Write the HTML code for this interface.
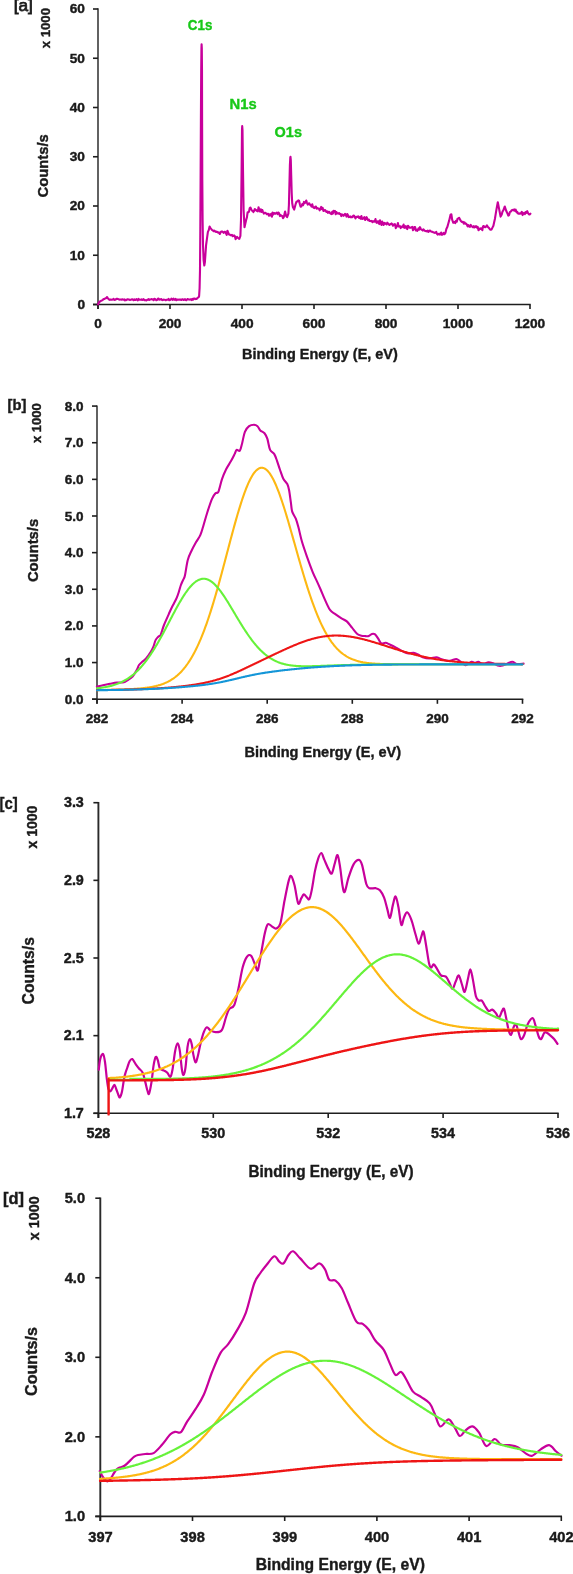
<!DOCTYPE html>
<html><head><meta charset="utf-8"><style>
html,body{margin:0;padding:0;background:#fff;}
body{width:573px;height:1574px;overflow:hidden;}
svg{display:block;will-change:transform;}
text{font-family:"Liberation Sans", sans-serif;}
</style></head><body>
<svg width="573" height="1574" viewBox="0 0 573 1574">
<rect width="573" height="1574" fill="#fff"/>
<line x1="98" y1="8.3" x2="98" y2="309.1" stroke="#5a5a5a" stroke-width="1.9"/>
<line x1="93" y1="304.5" x2="98" y2="304.5" stroke="#1e1e1e" stroke-width="1.6"/>
<line x1="93" y1="255.25" x2="98" y2="255.25" stroke="#1e1e1e" stroke-width="1.6"/>
<line x1="93" y1="206" x2="98" y2="206" stroke="#1e1e1e" stroke-width="1.6"/>
<line x1="93" y1="156.75" x2="98" y2="156.75" stroke="#1e1e1e" stroke-width="1.6"/>
<line x1="93" y1="107.5" x2="98" y2="107.5" stroke="#1e1e1e" stroke-width="1.6"/>
<line x1="93" y1="58.25" x2="98" y2="58.25" stroke="#1e1e1e" stroke-width="1.6"/>
<line x1="93" y1="9" x2="98" y2="9" stroke="#1e1e1e" stroke-width="1.6"/>
<line x1="93" y1="304.5" x2="530.7" y2="304.5" stroke="#1e1e1e" stroke-width="1.6"/>
<line x1="98" y1="304.5" x2="98" y2="309.1" stroke="#1e1e1e" stroke-width="1.6"/>
<line x1="170" y1="304.5" x2="170" y2="309.1" stroke="#1e1e1e" stroke-width="1.6"/>
<line x1="242" y1="304.5" x2="242" y2="309.1" stroke="#1e1e1e" stroke-width="1.6"/>
<line x1="314" y1="304.5" x2="314" y2="309.1" stroke="#1e1e1e" stroke-width="1.6"/>
<line x1="386" y1="304.5" x2="386" y2="309.1" stroke="#1e1e1e" stroke-width="1.6"/>
<line x1="458" y1="304.5" x2="458" y2="309.1" stroke="#1e1e1e" stroke-width="1.6"/>
<line x1="530" y1="304.5" x2="530" y2="309.1" stroke="#1e1e1e" stroke-width="1.6"/>
<path d="M98.1,304.3 L98.8,302.78 L99.5,301.5 L100.3,301.4 L101.1,300.73 L101.9,300.5 L102.77,299.86 L103.63,299.08 L104.5,299 L105.37,298.24 L106.23,298.17 L107.1,297 L107.95,298.34 L108.8,299.3 L109.75,299.87 L110.7,299.5 L111.42,299.61 L112.13,299.68 L112.85,299.58 L113.56,298.75 L114.28,299.88 L114.99,299.73 L115.71,299.72 L116.42,298.74 L117.14,298.72 L117.85,299.1 L118.57,299.29 L119.28,299.64 L120,299.5 L120.71,299.49 L121.43,299.76 L122.14,299.24 L122.86,299.68 L123.57,299.73 L124.29,299.27 L125,300.35 L125.71,299.84 L126.43,300.14 L127.14,299.33 L127.86,299.29 L128.57,299.47 L129.29,299.59 L130,299.93 L130.71,299.77 L131.43,299.47 L132.14,299.25 L132.86,299.46 L133.57,300.25 L134.29,299.35 L135,299.84 L135.71,299.93 L136.43,299.08 L137.14,299.78 L137.86,300.36 L138.57,298.87 L139.29,299.64 L140,299.8 L140.71,299.75 L141.43,299.42 L142.14,300 L142.86,299.74 L143.57,299.11 L144.29,300.13 L145,300.05 L145.71,300.17 L146.43,300.38 L147.14,299.89 L147.86,299.78 L148.57,299.13 L149.29,299.98 L150,299.42 L150.71,299.49 L151.43,299.12 L152.14,299.24 L152.86,299.43 L153.57,300.24 L154.29,298.74 L155,298.99 L155.71,299.75 L156.43,300.29 L157.14,299.89 L157.86,298.77 L158.57,298.48 L159.29,299.77 L160,299.6 L160.71,299.27 L161.43,299.09 L162.14,300.03 L162.86,300.08 L163.57,299.65 L164.29,299.69 L165,299.77 L165.71,300.29 L166.43,299.85 L167.14,299.8 L167.86,299.81 L168.57,298.85 L169.29,300.13 L170,299.98 L170.71,299.78 L171.43,298.65 L172.14,299.25 L172.86,299.91 L173.57,298.72 L174.29,299.45 L175,299.98 L175.71,298.93 L176.43,300.24 L177.14,299.76 L177.86,299.44 L178.57,299.65 L179.29,299.8 L180,299.5 L180.71,299.56 L181.43,300.03 L182.14,299.22 L182.86,299.34 L183.57,300 L184.29,299.55 L185,299.15 L185.71,299.98 L186.43,300.22 L187.14,299.37 L187.86,298.96 L188.57,299.53 L189.29,299.53 L190,299.6 L190.75,299.37 L191.5,300.03 L192.25,298.84 L193,299.77 L193.75,298.53 L194.5,298.65 L195.25,299.18 L196,298.8 L196.75,298.91 L197.5,298 L198.6,297.2 L199.1,296.1 L199.6,288 L200,270 L200.3,230 L200.6,180 L200.9,120 L201.2,70 L201.45,48 L201.6,44.3 L201.8,48 L202,70 L202.1,120 L202.3,180 L202.6,220 L203,245 L203.6,260 L204.3,265.5 L204.9,262 L206.1,245 L207,238.45 L207.9,231.9 L208.75,230.15 L209.6,226.6 L210.47,228.13 L211.33,229.08 L212.2,230.1 L212.96,230.52 L213.71,231.22 L214.47,230.69 L215.23,231.42 L215.99,231.99 L216.74,231.64 L217.5,231.9 L218.27,232.7 L219.03,232.49 L219.8,234.01 L220.57,232.24 L221.33,231.45 L222.1,231.51 L222.87,231.89 L223.63,232.87 L224.4,231.9 L225.16,231.92 L225.91,233.05 L226.67,234.94 L227.43,230.69 L228.19,232.58 L228.94,234.38 L229.7,234.5 L230.44,235.16 L231.19,235.24 L231.93,234.78 L232.67,236.16 L233.41,236.01 L234.16,235.41 L234.9,236.2 L235.63,239.2 L236.37,237.47 L237.1,236.97 L237.83,237.9 L238.57,238.21 L239.3,238.9 L240.4,236 L241,220 L241.6,170 L242,130 L242.2,126.1 L242.5,130 L243,170 L243.6,210 L244.5,227.2 L245.35,223.45 L246.2,219.7 L246.9,217.35 L247.6,212.28 L248.3,212.35 L249,211.64 L249.7,208.3 L250.43,207.51 L251.17,209.1 L251.9,210.6 L252.63,210.93 L253.37,212.03 L254.1,210.9 L254.84,208.98 L255.59,210.27 L256.33,210.16 L257.07,211.04 L257.81,211.4 L258.56,207.31 L259.3,210 L260.06,211.53 L260.81,209.25 L261.57,211.87 L262.33,209.98 L263.09,212.11 L263.84,213.57 L264.6,212.7 L265.34,212.79 L266.09,213.39 L266.83,214.27 L267.57,213.82 L268.31,213.82 L269.06,215.77 L269.8,214.4 L270.5,215.33 L271.2,213.75 L271.9,216.77 L272.6,212.52 L273.3,214.51 L274,213.1 L274.7,213.35 L275.4,213.78 L276.1,213.1 L276.8,212.7 L277.57,214.06 L278.35,212.47 L279.12,213.18 L279.9,216.1 L280.68,215.13 L281.45,215.75 L282.23,215.97 L283,218.2 L283.7,217.33 L284.4,214.58 L285.1,211.6 L286.1,215.95 L287.1,217.2 L288.4,213.6 L288.9,205 L289.4,185 L289.9,165 L290.3,157.5 L290.5,156.8 L290.8,160 L291.2,175 L291.7,193 L292.2,203 L292.9,207 L294.2,209.6 L295,206.55 L295.8,203.5 L296.63,201.48 L297.47,201.43 L298.3,200.4 L299.07,200.73 L299.85,204.25 L300.62,206.64 L301.4,206.5 L302.27,204.03 L303.13,205.07 L304,201.9 L304.75,203.16 L305.5,202.16 L306.25,200.5 L307,202.8 L307.75,204.65 L308.49,203.45 L309.24,203.29 L309.99,204.71 L310.73,205.1 L311.48,206.61 L312.23,204.34 L312.97,206.98 L313.72,207.72 L314.47,208.06 L315.21,206.72 L315.96,206.5 L316.71,208.72 L317.45,208.15 L318.2,208.4 L318.95,208.77 L319.69,210.38 L320.44,208.84 L321.19,206.95 L321.93,209.19 L322.68,207.89 L323.43,210.94 L324.17,210.65 L324.92,209.92 L325.67,210.79 L326.41,211.91 L327.16,211.36 L327.91,212.91 L328.65,211.7 L329.4,212 L330.1,213.22 L330.8,213.82 L331.5,214.07 L332.2,211.79 L332.9,213.55 L333.6,210.78 L334.3,211.74 L335,210.94 L335.7,214.25 L336.4,211.96 L337.1,213.36 L337.8,213.3 L338.5,213.59 L339.2,213.13 L339.9,214.12 L340.6,214 L341.34,216.07 L342.08,214.42 L342.82,215.12 L343.56,215.8 L344.3,214.73 L345.04,213.8 L345.78,214.72 L346.52,216.62 L347.26,213.95 L348,215.24 L348.74,217.11 L349.48,217.07 L350.22,216.43 L350.96,217.46 L351.7,216.8 L352.45,217.11 L353.19,215.83 L353.94,215.56 L354.69,216.66 L355.43,218.44 L356.18,217.01 L356.93,216.79 L357.67,217.06 L358.42,216.39 L359.17,218.01 L359.91,217.03 L360.66,218.78 L361.41,216.06 L362.15,219.01 L362.9,218.8 L363.64,218.27 L364.38,217.05 L365.12,220 L365.86,219.1 L366.6,217.19 L367.34,218.76 L368.08,220.13 L368.82,219.49 L369.56,220.94 L370.3,221.05 L371.04,221.11 L371.78,220.9 L372.52,222.11 L373.26,221.55 L374,221 L374.75,221.62 L375.49,219.11 L376.24,222.38 L376.99,222.96 L377.73,221.42 L378.48,221.39 L379.23,224.06 L379.97,220.33 L380.72,222.81 L381.47,225.01 L382.21,221.64 L382.96,223.48 L383.71,224.89 L384.45,222.93 L385.2,223.2 L385.9,223.93 L386.61,224.43 L387.31,222.68 L388.02,223.68 L388.72,224.22 L389.43,224.92 L390.13,224.16 L390.84,224.14 L391.54,223.42 L392.25,224.25 L392.95,225.71 L393.66,225.02 L394.36,224.16 L395.07,224.32 L395.77,228.14 L396.48,226.68 L397.18,226.3 L397.89,223.05 L398.59,226.57 L399.3,226.56 L400,226.2 L400.73,228.06 L401.45,226.84 L402.18,226.41 L402.91,227.12 L403.63,224.63 L404.36,227.84 L405.09,227.19 L405.81,226.21 L406.54,228.43 L407.27,229.03 L407.99,225.75 L408.72,226.62 L409.45,227.72 L410.17,227.7 L410.9,227.6 L411.6,227.32 L412.3,226.86 L413,230.25 L413.7,229.25 L414.4,227.05 L415.1,227.03 L415.8,230.37 L416.5,229.76 L417.2,230.77 L417.9,229.85 L418.6,228.22 L419.3,229.55 L420,227.15 L420.7,228.77 L421.4,229.7 L422.1,229.78 L422.8,230.53 L423.5,229.36 L424.2,230.13 L424.9,230.88 L425.6,230.94 L426.3,231.35 L427,231.04 L427.7,230.62 L428.4,231.93 L429.1,231.29 L429.8,230.51 L430.5,230.86 L431.2,231.66 L431.9,231.8 L432.62,231.9 L433.34,232.39 L434.06,232.44 L434.79,232.84 L435.51,232.73 L436.23,231.76 L436.95,233.74 L437.67,234.62 L438.39,234.18 L439.11,233.74 L439.84,234.63 L440.56,233.36 L441.28,232.59 L442,234.8 L442.85,234.41 L443.7,232.92 L444.55,234.23 L445.4,233 L446.35,228.91 L447.3,227.1 L448.25,223.75 L449.2,220.4 L449.9,217.5 L450.6,214.6 L451.35,214.24 L452.1,219.4 L453.2,222.8 L454.2,221.91 L455.2,223.2 L456,220.8 L456.77,221.66 L457.53,218.8 L458.3,218.4 L459.1,217.76 L459.9,219.2 L460.7,220.8 L461.46,221.65 L462.22,221.92 L462.98,221.89 L463.74,223.56 L464.5,222.3 L465.28,223.62 L466.06,223.44 L466.84,224.67 L467.62,226.36 L468.4,225.2 L469.16,226.5 L469.92,226.83 L470.68,224.9 L471.44,226.16 L472.2,226.6 L472.98,227.27 L473.76,226.09 L474.54,227.42 L475.32,226.83 L476.1,226.1 L476.9,227.54 L477.7,226.84 L478.5,230.22 L479.3,229.34 L480.1,228.29 L480.9,229 L481.6,228.35 L482.3,230.22 L483,226.39 L483.7,226 L484.5,227.06 L485.3,227.31 L486.1,226.43 L486.9,225.33 L487.7,226.7 L488.46,227.46 L489.22,228.2 L489.98,229.57 L490.74,229.76 L491.5,229.5 L492.45,227.63 L493.4,225.7 L494.15,222.35 L494.9,219 L495.6,214.7 L496.3,210.4 L497.05,206.3 L497.8,202.2 L499.2,209.4 L499.9,213 L500.6,216.6 L501.6,214.85 L502.6,211.3 L503.33,210.27 L504.07,208.32 L504.8,206.5 L505.6,208.96 L506.4,211.3 L507.35,213.19 L508.3,215.6 L509.1,215.05 L509.9,211.96 L510.7,211.8 L511.65,210.19 L512.6,209.9 L513.38,210.39 L514.16,209.32 L514.94,210.88 L515.72,209.71 L516.5,212.3 L517.26,211.86 L518.02,213.46 L518.78,213.73 L519.54,213.36 L520.3,213.7 L521.06,213.28 L521.82,211.85 L522.58,215.08 L523.34,213.52 L524.1,212.8 L524.88,214.03 L525.66,212.03 L526.44,212.85 L527.22,211.21 L528,213.2 L528.8,214.19 L529.6,214.52 L530.4,213.7" fill="none" stroke="#C8009B" stroke-width="2.1" stroke-linejoin="round" stroke-linecap="round"/>
<text x="77.43" y="308.95" font-size="12.9" font-weight="bold" fill="#1a1a1a" stroke="#1a1a1a" stroke-width="0.4" textLength="7.61" lengthAdjust="spacingAndGlyphs">0</text>
<text x="69.77" y="259.7" font-size="12.9" font-weight="bold" fill="#1a1a1a" stroke="#1a1a1a" stroke-width="0.4" textLength="15.21" lengthAdjust="spacingAndGlyphs">10</text>
<text x="69.77" y="210.45" font-size="12.9" font-weight="bold" fill="#1a1a1a" stroke="#1a1a1a" stroke-width="0.4" textLength="15.21" lengthAdjust="spacingAndGlyphs">20</text>
<text x="69.77" y="161.2" font-size="12.9" font-weight="bold" fill="#1a1a1a" stroke="#1a1a1a" stroke-width="0.4" textLength="15.21" lengthAdjust="spacingAndGlyphs">30</text>
<text x="69.77" y="111.95" font-size="12.9" font-weight="bold" fill="#1a1a1a" stroke="#1a1a1a" stroke-width="0.4" textLength="15.21" lengthAdjust="spacingAndGlyphs">40</text>
<text x="69.77" y="62.7" font-size="12.9" font-weight="bold" fill="#1a1a1a" stroke="#1a1a1a" stroke-width="0.4" textLength="15.21" lengthAdjust="spacingAndGlyphs">50</text>
<text x="69.77" y="13.45" font-size="12.9" font-weight="bold" fill="#1a1a1a" stroke="#1a1a1a" stroke-width="0.4" textLength="15.21" lengthAdjust="spacingAndGlyphs">60</text>
<text x="94.24" y="327.63" font-size="12.9" font-weight="bold" fill="#1a1a1a" stroke="#1a1a1a" stroke-width="0.4" textLength="7.61" lengthAdjust="spacingAndGlyphs">0</text>
<text x="158.65" y="327.63" font-size="12.9" font-weight="bold" fill="#1a1a1a" stroke="#1a1a1a" stroke-width="0.4" textLength="22.82" lengthAdjust="spacingAndGlyphs">200</text>
<text x="230.72" y="327.63" font-size="12.9" font-weight="bold" fill="#1a1a1a" stroke="#1a1a1a" stroke-width="0.4" textLength="22.82" lengthAdjust="spacingAndGlyphs">400</text>
<text x="302.58" y="327.63" font-size="12.9" font-weight="bold" fill="#1a1a1a" stroke="#1a1a1a" stroke-width="0.4" textLength="22.82" lengthAdjust="spacingAndGlyphs">600</text>
<text x="374.65" y="327.63" font-size="12.9" font-weight="bold" fill="#1a1a1a" stroke="#1a1a1a" stroke-width="0.4" textLength="22.82" lengthAdjust="spacingAndGlyphs">800</text>
<text x="442.69" y="327.63" font-size="12.9" font-weight="bold" fill="#1a1a1a" stroke="#1a1a1a" stroke-width="0.4" textLength="30.42" lengthAdjust="spacingAndGlyphs">1000</text>
<text x="514.69" y="327.63" font-size="12.9" font-weight="bold" fill="#1a1a1a" stroke="#1a1a1a" stroke-width="0.4" textLength="30.42" lengthAdjust="spacingAndGlyphs">1200</text>
<text x="187.87" y="30.45" font-size="15.07" font-weight="bold" fill="#18C818" stroke="#18C818" stroke-width="0.4" textLength="24.43" lengthAdjust="spacingAndGlyphs">C1s</text>
<text x="229.57" y="109.25" font-size="15.21" font-weight="bold" fill="#18C818" stroke="#18C818" stroke-width="0.4" textLength="27.09" lengthAdjust="spacingAndGlyphs">N1s</text>
<text x="274.62" y="136.85" font-size="15.21" font-weight="bold" fill="#18C818" stroke="#18C818" stroke-width="0.4" textLength="27.36" lengthAdjust="spacingAndGlyphs">O1s</text>
<text x="13.69" y="11.35" font-size="15.96" font-weight="normal" fill="#1a1a1a" stroke="#1a1a1a" stroke-width="0.75" textLength="19.14" lengthAdjust="spacingAndGlyphs">[a]</text>
<text x="49.66" y="48.23" font-size="13.52" font-weight="bold" fill="#1a1a1a" stroke="#1a1a1a" stroke-width="0.4" textLength="40.24" lengthAdjust="spacingAndGlyphs" transform="rotate(-90 49.66 48.23)">x 1000</text>
<text x="48.25" y="197.49" font-size="14.58" font-weight="bold" fill="#1a1a1a" stroke="#1a1a1a" stroke-width="0.4" textLength="63.25" lengthAdjust="spacingAndGlyphs" transform="rotate(-90 48.25 197.49)">Counts/s</text>
<text x="241.99" y="358.6" font-size="15.22" font-weight="bold" fill="#1a1a1a" stroke="#1a1a1a" stroke-width="0.4" textLength="155.82" lengthAdjust="spacingAndGlyphs">Binding Energy (E, eV)</text>
<line x1="97" y1="405.38" x2="97" y2="703.8" stroke="#5a5a5a" stroke-width="1.9"/>
<line x1="92" y1="699.2" x2="97" y2="699.2" stroke="#1e1e1e" stroke-width="1.6"/>
<line x1="92" y1="662.56" x2="97" y2="662.56" stroke="#1e1e1e" stroke-width="1.6"/>
<line x1="92" y1="625.92" x2="97" y2="625.92" stroke="#1e1e1e" stroke-width="1.6"/>
<line x1="92" y1="589.28" x2="97" y2="589.28" stroke="#1e1e1e" stroke-width="1.6"/>
<line x1="92" y1="552.64" x2="97" y2="552.64" stroke="#1e1e1e" stroke-width="1.6"/>
<line x1="92" y1="516" x2="97" y2="516" stroke="#1e1e1e" stroke-width="1.6"/>
<line x1="92" y1="479.36" x2="97" y2="479.36" stroke="#1e1e1e" stroke-width="1.6"/>
<line x1="92" y1="442.72" x2="97" y2="442.72" stroke="#1e1e1e" stroke-width="1.6"/>
<line x1="92" y1="406.08" x2="97" y2="406.08" stroke="#1e1e1e" stroke-width="1.6"/>
<line x1="92" y1="699.2" x2="523.3" y2="699.2" stroke="#1e1e1e" stroke-width="1.6"/>
<line x1="97" y1="699.2" x2="97" y2="703.8" stroke="#1e1e1e" stroke-width="1.6"/>
<line x1="182.1" y1="699.2" x2="182.1" y2="703.8" stroke="#1e1e1e" stroke-width="1.6"/>
<line x1="267.2" y1="699.2" x2="267.2" y2="703.8" stroke="#1e1e1e" stroke-width="1.6"/>
<line x1="352.3" y1="699.2" x2="352.3" y2="703.8" stroke="#1e1e1e" stroke-width="1.6"/>
<line x1="437.4" y1="699.2" x2="437.4" y2="703.8" stroke="#1e1e1e" stroke-width="1.6"/>
<line x1="522.5" y1="699.2" x2="522.5" y2="703.8" stroke="#1e1e1e" stroke-width="1.6"/>
<path d="M96.9,686.6 C97.92,686.37 100.82,685.67 103,685.2 C105.18,684.73 107.68,684.23 110,683.8 C112.32,683.37 114.58,682.87 116.9,682.6 C119.22,682.33 122.15,682.58 123.9,682.2 C125.65,681.82 125.95,681.25 127.4,680.3 C128.85,679.35 131,678.3 132.6,676.5 C134.2,674.7 135.93,671.42 137,669.5 C138.07,667.58 138.08,666.33 139,665 C139.92,663.67 141.35,662.55 142.5,661.5 C143.65,660.45 144.52,660.32 145.9,658.7 C147.28,657.08 149.57,653.77 150.8,651.8 C152.03,649.83 152.48,648.88 153.3,646.9 C154.12,644.92 154.83,641.63 155.7,639.9 C156.57,638.17 157.68,637.32 158.5,636.5 C159.32,635.68 159.68,636.92 160.6,635 C161.52,633.08 162.65,628.45 164,625 C165.35,621.55 167.5,617.02 168.7,614.3 C169.9,611.58 170.32,610.55 171.2,608.7 C172.08,606.85 173.07,605.05 174,603.2 C174.93,601.35 176,599.47 176.8,597.6 C177.6,595.73 178.12,594.1 178.8,592 C179.48,589.9 180.15,587.07 180.9,585 C181.65,582.93 182.62,581.23 183.3,579.6 C183.98,577.97 184.27,578.43 185,575.2 C185.73,571.97 186.65,564.18 187.7,560.2 C188.75,556.22 189.9,554.32 191.3,551.3 C192.7,548.28 194.6,544.8 196.1,542.1 C197.6,539.4 199.13,537.67 200.3,535.1 C201.47,532.53 201.95,530.43 203.1,526.7 C204.25,522.97 205.72,517.35 207.2,512.7 C208.68,508.05 210.6,502.05 212,498.8 C213.4,495.55 214.53,494.37 215.6,493.2 C216.67,492.03 217.33,494.13 218.4,491.8 C219.47,489.47 220.73,482.92 222,479.2 C223.27,475.48 224.5,472.52 226,469.5 C227.5,466.48 229.57,463.67 231,461.1 C232.43,458.53 233.67,455.97 234.6,454.1 C235.53,452.23 235.72,450.47 236.6,449.9 C237.48,449.33 238.97,451.87 239.9,450.7 C240.83,449.53 241.37,446.05 242.2,442.9 C243.03,439.75 243.75,434.58 244.9,431.8 C246.05,429.02 247.6,427.37 249.1,426.2 C250.6,425.03 252.5,424.8 253.9,424.8 C255.3,424.8 256.43,425.27 257.5,426.2 C258.57,427.13 259.13,429.23 260.3,430.4 C261.47,431.57 263.33,431.82 264.5,433.2 C265.67,434.58 266.37,435.92 267.3,438.7 C268.23,441.48 268.93,447.33 270.1,449.9 C271.27,452.47 273.13,452.23 274.3,454.1 C275.47,455.97 276.17,458.53 277.1,461.1 C278.03,463.67 278.87,466.57 279.9,469.5 C280.93,472.43 282.07,476.28 283.3,478.7 C284.53,481.12 286.33,482.08 287.3,484 C288.27,485.92 288.5,487.08 289.1,490.2 C289.7,493.32 290.38,499.13 290.9,502.7 C291.42,506.27 291.38,508.93 292.2,511.6 C293.02,514.27 294.75,516.03 295.8,518.7 C296.85,521.37 297.47,523.75 298.5,527.6 C299.53,531.45 300.52,536.75 302,541.8 C303.48,546.85 305.62,552.85 307.4,557.9 C309.18,562.95 311.07,568.1 312.7,572.1 C314.33,576.1 315.88,579 317.2,581.9 C318.52,584.8 319.33,586.58 320.6,589.5 C321.87,592.42 323.23,596 324.8,599.4 C326.37,602.8 328.25,607.45 330,609.9 C331.75,612.35 333.38,612.7 335.3,614.1 C337.22,615.5 339.58,617.08 341.5,618.3 C343.42,619.52 345.05,619.83 346.8,621.4 C348.55,622.97 350.25,625.6 352,627.7 C353.75,629.8 355.73,632.67 357.3,634 C358.87,635.33 360.02,635.35 361.4,635.7 C362.78,636.05 364.37,636.03 365.6,636.1 C366.83,636.17 367.75,636.45 368.8,636.1 C369.85,635.75 370.85,634.28 371.9,634 C372.95,633.72 374.05,633.63 375.1,634.4 C376.15,635.17 377.17,637.1 378.2,638.6 C379.23,640.1 380.08,642.7 381.3,643.4 C382.52,644.1 384.1,642.62 385.5,642.8 C386.9,642.98 387.95,643.7 389.7,644.5 C391.45,645.3 394.28,646.68 396,647.6 C397.72,648.52 398.58,649.23 400,650 C401.42,650.77 402.98,651.63 404.5,652.2 C406.02,652.77 407.58,653.32 409.1,653.4 C410.62,653.48 412.1,652.52 413.6,652.7 C415.1,652.88 416.58,653.75 418.1,654.5 C419.62,655.25 420.8,656.55 422.7,657.2 C424.6,657.85 427.23,658.4 429.5,658.4 C431.77,658.4 434.42,657.1 436.3,657.2 C438.18,657.3 439.1,658.43 440.8,659 C442.5,659.57 444.8,660.33 446.5,660.6 C448.2,660.87 449.37,660.87 451,660.6 C452.63,660.33 454.78,658.88 456.3,659 C457.82,659.12 458.52,660.27 460.1,661.3 C461.68,662.33 463.9,665.12 465.8,665.2 C467.7,665.28 469.98,662.18 471.5,661.8 C473.02,661.42 473.77,662.9 474.9,662.9 C476.03,662.9 476.98,661.62 478.3,661.8 C479.62,661.98 481.1,663.93 482.8,664 C484.5,664.07 486.8,662.32 488.5,662.2 C490.2,662.08 491.48,662.77 493,663.3 C494.52,663.83 496.27,664.98 497.6,665.4 C498.93,665.82 499.5,666.03 501,665.8 C502.5,665.57 504.72,664.67 506.6,664 C508.48,663.33 510.6,661.8 512.3,661.8 C514,661.8 514.92,663.7 516.8,664 C518.68,664.3 522.47,663.67 523.6,663.6" fill="none" stroke="#C8009B" stroke-width="2.1" stroke-linejoin="round" stroke-linecap="round"/>
<path d="M97,690.11 L97.7,690.1 L98.4,690.09 L99.1,690.08 L99.8,690.06 L100.5,690.05 L101.2,690.04 L101.9,690.02 L102.6,690.01 L103.3,689.99 L104,689.98 L104.7,689.97 L105.4,689.95 L106.1,689.94 L106.8,689.92 L107.5,689.9 L108.2,689.89 L108.9,689.87 L109.6,689.86 L110.3,689.84 L111,689.82 L111.7,689.8 L112.4,689.79 L113.1,689.77 L113.8,689.75 L114.5,689.73 L115.2,689.71 L115.9,689.69 L116.6,689.67 L117.3,689.65 L118,689.63 L118.69,689.61 L119.39,689.58 L120.09,689.56 L120.79,689.54 L121.49,689.51 L122.19,689.49 L122.89,689.46 L123.59,689.43 L124.29,689.41 L124.99,689.38 L125.69,689.35 L126.39,689.32 L127.09,689.29 L127.79,689.26 L128.49,689.22 L129.19,689.19 L129.89,689.15 L130.59,689.12 L131.29,689.08 L131.99,689.04 L132.69,689 L133.39,688.96 L134.09,688.91 L134.79,688.87 L135.49,688.82 L136.19,688.77 L136.89,688.72 L137.59,688.66 L138.29,688.61 L138.99,688.55 L139.69,688.49 L140.39,688.43 L141.09,688.36 L141.79,688.29 L142.49,688.22 L143.19,688.15 L143.89,688.07 L144.59,687.99 L145.29,687.9 L145.99,687.81 L146.69,687.72 L147.39,687.63 L148.09,687.53 L148.79,687.42 L149.49,687.31 L150.19,687.19 L150.89,687.07 L151.59,686.95 L152.29,686.82 L152.99,686.68 L153.69,686.54 L154.39,686.39 L155.09,686.23 L155.79,686.07 L156.49,685.89 L157.19,685.71 L157.89,685.53 L158.59,685.33 L159.29,685.13 L159.99,684.91 L160.69,684.69 L161.38,684.46 L162.08,684.21 L162.78,683.96 L163.48,683.69 L164.18,683.41 L164.88,683.12 L165.58,682.82 L166.28,682.51 L166.98,682.18 L167.68,681.83 L168.38,681.48 L169.08,681.1 L169.78,680.72 L170.48,680.31 L171.18,679.89 L171.88,679.45 L172.58,679 L173.28,678.52 L173.98,678.03 L174.68,677.52 L175.38,676.98 L176.08,676.43 L176.78,675.85 L177.48,675.26 L178.18,674.64 L178.88,673.99 L179.58,673.33 L180.28,672.64 L180.98,671.92 L181.68,671.18 L182.38,670.41 L183.08,669.61 L183.78,668.79 L184.48,667.94 L185.18,667.06 L185.88,666.15 L186.58,665.21 L187.28,664.24 L187.98,663.23 L188.68,662.2 L189.38,661.13 L190.08,660.04 L190.78,658.9 L191.48,657.74 L192.18,656.54 L192.88,655.3 L193.58,654.03 L194.28,652.72 L194.98,651.38 L195.68,650 L196.38,648.58 L197.08,647.13 L197.78,645.64 L198.48,644.11 L199.18,642.54 L199.88,640.94 L200.58,639.3 L201.28,637.62 L201.98,635.9 L202.68,634.14 L203.38,632.34 L204.07,630.51 L204.77,628.64 L205.47,626.73 L206.17,624.78 L206.87,622.8 L207.57,620.78 L208.27,618.72 L208.97,616.62 L209.67,614.5 L210.37,612.33 L211.07,610.13 L211.77,607.9 L212.47,605.64 L213.17,603.34 L213.87,601.01 L214.57,598.65 L215.27,596.27 L215.97,593.85 L216.67,591.41 L217.37,588.94 L218.07,586.45 L218.77,583.94 L219.47,581.4 L220.17,578.85 L220.87,576.27 L221.57,573.68 L222.27,571.08 L222.97,568.46 L223.67,565.83 L224.37,563.19 L225.07,560.54 L225.77,557.89 L226.47,555.23 L227.17,552.57 L227.87,549.91 L228.57,547.26 L229.27,544.61 L229.97,541.97 L230.67,539.34 L231.37,536.71 L232.07,534.11 L232.77,531.52 L233.47,528.95 L234.17,526.4 L234.87,523.87 L235.57,521.38 L236.27,518.91 L236.97,516.47 L237.67,514.06 L238.37,511.7 L239.07,509.37 L239.77,507.08 L240.47,504.84 L241.17,502.64 L241.87,500.49 L242.57,498.39 L243.27,496.34 L243.97,494.35 L244.67,492.42 L245.37,490.55 L246.06,488.74 L246.76,486.99 L247.46,485.31 L248.16,483.69 L248.86,482.15 L249.56,480.68 L250.26,479.28 L250.96,477.95 L251.66,476.7 L252.36,475.53 L253.06,474.44 L253.76,473.42 L254.46,472.49 L255.16,471.64 L255.86,470.87 L256.56,470.19 L257.26,469.59 L257.96,469.08 L258.66,468.65 L259.36,468.31 L260.06,468.05 L260.76,467.88 L261.46,467.8 L262.16,467.81 L262.86,467.9 L263.56,468.09 L264.26,468.37 L264.96,468.73 L265.66,469.18 L266.36,469.72 L267.06,470.34 L267.76,471.05 L268.46,471.84 L269.16,472.72 L269.86,473.67 L270.56,474.71 L271.26,475.82 L271.96,477.01 L272.66,478.27 L273.36,479.61 L274.06,481.02 L274.76,482.5 L275.46,484.04 L276.16,485.65 L276.86,487.33 L277.56,489.06 L278.26,490.86 L278.96,492.71 L279.66,494.61 L280.36,496.57 L281.06,498.57 L281.76,500.62 L282.46,502.72 L283.16,504.86 L283.86,507.04 L284.56,509.26 L285.26,511.51 L285.96,513.79 L286.66,516.1 L287.36,518.45 L288.06,520.81 L288.75,523.2 L289.45,525.61 L290.15,528.03 L290.85,530.47 L291.55,532.93 L292.25,535.39 L292.95,537.86 L293.65,540.34 L294.35,542.82 L295.05,545.3 L295.75,547.79 L296.45,550.27 L297.15,552.74 L297.85,555.21 L298.55,557.67 L299.25,560.12 L299.95,562.55 L300.65,564.97 L301.35,567.38 L302.05,569.77 L302.75,572.13 L303.45,574.48 L304.15,576.81 L304.85,579.11 L305.55,581.39 L306.25,583.64 L306.95,585.86 L307.65,588.06 L308.35,590.22 L309.05,592.36 L309.75,594.46 L310.45,596.53 L311.15,598.57 L311.85,600.57 L312.55,602.54 L313.25,604.48 L313.95,606.38 L314.65,608.24 L315.35,610.07 L316.05,611.86 L316.75,613.61 L317.45,615.33 L318.15,617.01 L318.85,618.65 L319.55,620.25 L320.25,621.81 L320.95,623.34 L321.65,624.83 L322.35,626.28 L323.05,627.7 L323.75,629.07 L324.45,630.41 L325.15,631.72 L325.85,632.98 L326.55,634.21 L327.25,635.41 L327.95,636.57 L328.65,637.69 L329.35,638.79 L330.05,639.84 L330.75,640.87 L331.44,641.86 L332.14,642.81 L332.84,643.74 L333.54,644.64 L334.24,645.5 L334.94,646.33 L335.64,647.14 L336.34,647.92 L337.04,648.66 L337.74,649.38 L338.44,650.08 L339.14,650.75 L339.84,651.39 L340.54,652 L341.24,652.6 L341.94,653.17 L342.64,653.71 L343.34,654.24 L344.04,654.74 L344.74,655.22 L345.44,655.68 L346.14,656.12 L346.84,656.55 L347.54,656.95 L348.24,657.34 L348.94,657.71 L349.64,658.06 L350.34,658.39 L351.04,658.71 L351.74,659.02 L352.44,659.31 L353.14,659.59 L353.84,659.85 L354.54,660.1 L355.24,660.34 L355.94,660.57 L356.64,660.79 L357.34,660.99 L358.04,661.18 L358.74,661.37 L359.44,661.54 L360.14,661.71 L360.84,661.87 L361.54,662.01 L362.24,662.15 L362.94,662.29 L363.64,662.41 L364.34,662.53 L365.04,662.64 L365.74,662.75 L366.44,662.85 L367.14,662.94 L367.84,663.03 L368.54,663.11 L369.24,663.19 L369.94,663.26 L370.64,663.33 L371.34,663.4 L372.04,663.46 L372.74,663.51 L373.44,663.57 L374.13,663.62 L374.83,663.67 L375.53,663.71 L376.23,663.75 L376.93,663.79 L377.63,663.83 L378.33,663.86 L379.03,663.89 L379.73,663.92 L380.43,663.95 L381.13,663.97 L381.83,664 L382.53,664.02 L383.23,664.04 L383.93,664.06 L384.63,664.08 L385.33,664.09 L386.03,664.11 L386.73,664.12 L387.43,664.13 L388.13,664.15 L388.83,664.16 L389.53,664.17 L390.23,664.18 L390.93,664.19 L391.63,664.2 L392.33,664.2 L393.03,664.21 L393.73,664.22 L394.43,664.22 L395.13,664.23 L395.83,664.23 L396.53,664.24 L397.23,664.24 L397.93,664.25 L398.63,664.25 L399.33,664.25 L400.03,664.26 L400.73,664.26 L401.43,664.26 L402.13,664.27 L402.83,664.27 L403.53,664.27 L404.23,664.27 L404.93,664.27 L405.63,664.28 L406.33,664.28 L407.03,664.28 L407.73,664.28 L408.43,664.28 L409.13,664.28 L409.83,664.28 L410.53,664.29 L411.23,664.29 L411.93,664.29 L412.63,664.29 L413.33,664.29 L414.03,664.29 L414.73,664.29 L415.43,664.29 L416.12,664.29 L416.82,664.29 L417.52,664.29 L418.22,664.29 L418.92,664.29 L419.62,664.3 L420.32,664.3 L421.02,664.3 L421.72,664.3 L422.42,664.3 L423.12,664.3 L423.82,664.3 L424.52,664.3 L425.22,664.3 L425.92,664.3 L426.62,664.3 L427.32,664.3 L428.02,664.3 L428.72,664.3 L429.42,664.3 L430.12,664.3 L430.82,664.3 L431.52,664.3 L432.22,664.3 L432.92,664.3 L433.62,664.3 L434.32,664.3 L435.02,664.3 L435.72,664.3 L436.42,664.3 L437.12,664.3 L437.82,664.3 L438.52,664.3 L439.22,664.3 L439.92,664.3 L440.62,664.3 L441.32,664.31 L442.02,664.31 L442.72,664.31 L443.42,664.31 L444.12,664.31 L444.82,664.31 L445.52,664.31 L446.22,664.31 L446.92,664.31 L447.62,664.31 L448.32,664.3 L449.02,664.3 L449.72,664.3 L450.42,664.3 L451.12,664.3 L451.82,664.3 L452.52,664.3 L453.22,664.3 L453.92,664.3 L454.62,664.3 L455.32,664.3 L456.02,664.3 L456.72,664.3 L457.42,664.3 L458.12,664.3 L458.81,664.3 L459.51,664.3 L460.21,664.3 L460.91,664.3 L461.61,664.3 L462.31,664.3 L463.01,664.3 L463.71,664.3 L464.41,664.3 L465.11,664.29 L465.81,664.29 L466.51,664.29 L467.21,664.29 L467.91,664.29 L468.61,664.29 L469.31,664.29 L470.01,664.29 L470.71,664.29 L471.41,664.29 L472.11,664.29 L472.81,664.28 L473.51,664.28 L474.21,664.28 L474.91,664.28 L475.61,664.28 L476.31,664.28 L477.01,664.28 L477.71,664.28 L478.41,664.27 L479.11,664.27 L479.81,664.27 L480.51,664.27 L481.21,664.27 L481.91,664.27 L482.61,664.26 L483.31,664.26 L484.01,664.26 L484.71,664.26 L485.41,664.26 L486.11,664.26 L486.81,664.25 L487.51,664.25 L488.21,664.25 L488.91,664.25 L489.61,664.25 L490.31,664.24 L491.01,664.24 L491.71,664.24 L492.41,664.24 L493.11,664.24 L493.81,664.23 L494.51,664.23 L495.21,664.23 L495.91,664.23 L496.61,664.22 L497.31,664.22 L498.01,664.22 L498.71,664.22 L499.41,664.21 L500.11,664.21 L500.81,664.21 L501.5,664.21 L502.2,664.2 L502.9,664.2 L503.6,664.2 L504.3,664.2 L505,664.19 L505.7,664.19 L506.4,664.19 L507.1,664.18 L507.8,664.18 L508.5,664.18 L509.2,664.18 L509.9,664.17 L510.6,664.17 L511.3,664.17 L512,664.16 L512.7,664.16 L513.4,664.16 L514.1,664.15 L514.8,664.15 L515.5,664.15 L516.2,664.14 L516.9,664.14 L517.6,664.14 L518.3,664.13 L519,664.13 L519.7,664.12 L520.4,664.12 L521.1,664.12 L521.8,664.11 L522.5,664.11" fill="none" stroke="#FDB812" stroke-width="2.1" stroke-linejoin="round" stroke-linecap="round"/>
<path d="M97,688.31 L97.7,688.23 L98.4,688.15 L99.1,688.06 L99.8,687.97 L100.5,687.88 L101.2,687.78 L101.9,687.68 L102.6,687.57 L103.3,687.46 L104,687.34 L104.7,687.22 L105.4,687.1 L106.1,686.96 L106.8,686.82 L107.5,686.68 L108.2,686.53 L108.9,686.37 L109.6,686.21 L110.3,686.04 L111,685.86 L111.7,685.67 L112.4,685.48 L113.1,685.27 L113.8,685.06 L114.5,684.84 L115.2,684.61 L115.9,684.37 L116.6,684.13 L117.3,683.87 L118,683.6 L118.69,683.32 L119.39,683.03 L120.09,682.73 L120.79,682.42 L121.49,682.1 L122.19,681.76 L122.89,681.41 L123.59,681.05 L124.29,680.68 L124.99,680.29 L125.69,679.89 L126.39,679.47 L127.09,679.04 L127.79,678.59 L128.49,678.13 L129.19,677.66 L129.89,677.17 L130.59,676.66 L131.29,676.14 L131.99,675.6 L132.69,675.04 L133.39,674.47 L134.09,673.87 L134.79,673.27 L135.49,672.64 L136.19,672 L136.89,671.33 L137.59,670.65 L138.29,669.95 L138.99,669.23 L139.69,668.5 L140.39,667.74 L141.09,666.96 L141.79,666.17 L142.49,665.35 L143.19,664.52 L143.89,663.67 L144.59,662.8 L145.29,661.9 L145.99,660.99 L146.69,660.06 L147.39,659.11 L148.09,658.15 L148.79,657.16 L149.49,656.15 L150.19,655.13 L150.89,654.08 L151.59,653.02 L152.29,651.94 L152.99,650.85 L153.69,649.74 L154.39,648.6 L155.09,647.46 L155.79,646.3 L156.49,645.12 L157.19,643.93 L157.89,642.72 L158.59,641.5 L159.29,640.27 L159.99,639.02 L160.69,637.76 L161.38,636.49 L162.08,635.21 L162.78,633.92 L163.48,632.63 L164.18,631.32 L164.88,630.01 L165.58,628.69 L166.28,627.36 L166.98,626.03 L167.68,624.7 L168.38,623.37 L169.08,622.03 L169.78,620.69 L170.48,619.36 L171.18,618.02 L171.88,616.69 L172.58,615.36 L173.28,614.04 L173.98,612.72 L174.68,611.42 L175.38,610.12 L176.08,608.83 L176.78,607.55 L177.48,606.28 L178.18,605.03 L178.88,603.79 L179.58,602.57 L180.28,601.37 L180.98,600.18 L181.68,599.02 L182.38,597.87 L183.08,596.75 L183.78,595.65 L184.48,594.58 L185.18,593.53 L185.88,592.51 L186.58,591.52 L187.28,590.56 L187.98,589.63 L188.68,588.73 L189.38,587.86 L190.08,587.03 L190.78,586.23 L191.48,585.47 L192.18,584.75 L192.88,584.06 L193.58,583.42 L194.28,582.81 L194.98,582.24 L195.68,581.72 L196.38,581.23 L197.08,580.79 L197.78,580.39 L198.48,580.03 L199.18,579.72 L199.88,579.45 L200.58,579.22 L201.28,579.04 L201.98,578.9 L202.68,578.81 L203.38,578.76 L204.07,578.76 L204.77,578.82 L205.47,578.91 L206.17,579.06 L206.87,579.25 L207.57,579.49 L208.27,579.77 L208.97,580.1 L209.67,580.48 L210.37,580.89 L211.07,581.35 L211.77,581.86 L212.47,582.4 L213.17,582.98 L213.87,583.6 L214.57,584.26 L215.27,584.95 L215.97,585.68 L216.67,586.45 L217.37,587.24 L218.07,588.07 L218.77,588.93 L219.47,589.81 L220.17,590.73 L220.87,591.67 L221.57,592.63 L222.27,593.62 L222.97,594.63 L223.67,595.66 L224.37,596.7 L225.07,597.77 L225.77,598.85 L226.47,599.95 L227.17,601.06 L227.87,602.18 L228.57,603.32 L229.27,604.46 L229.97,605.62 L230.67,606.77 L231.37,607.94 L232.07,609.11 L232.77,610.28 L233.47,611.46 L234.17,612.64 L234.87,613.82 L235.57,614.99 L236.27,616.17 L236.97,617.34 L237.67,618.51 L238.37,619.67 L239.07,620.83 L239.77,621.98 L240.47,623.13 L241.17,624.26 L241.87,625.39 L242.57,626.51 L243.27,627.61 L243.97,628.71 L244.67,629.79 L245.37,630.86 L246.06,631.92 L246.76,632.96 L247.46,633.99 L248.16,635.01 L248.86,636.01 L249.56,636.99 L250.26,637.96 L250.96,638.92 L251.66,639.85 L252.36,640.77 L253.06,641.67 L253.76,642.56 L254.46,643.42 L255.16,644.27 L255.86,645.1 L256.56,645.91 L257.26,646.7 L257.96,647.48 L258.66,648.23 L259.36,648.97 L260.06,649.69 L260.76,650.39 L261.46,651.07 L262.16,651.73 L262.86,652.38 L263.56,653 L264.26,653.61 L264.96,654.2 L265.66,654.77 L266.36,655.32 L267.06,655.86 L267.76,656.37 L268.46,656.87 L269.16,657.35 L269.86,657.82 L270.56,658.27 L271.26,658.7 L271.96,659.12 L272.66,659.52 L273.36,659.9 L274.06,660.27 L274.76,660.62 L275.46,660.96 L276.16,661.29 L276.86,661.6 L277.56,661.9 L278.26,662.18 L278.96,662.45 L279.66,662.71 L280.36,662.96 L281.06,663.19 L281.76,663.41 L282.46,663.62 L283.16,663.82 L283.86,664.01 L284.56,664.19 L285.26,664.36 L285.96,664.52 L286.66,664.67 L287.36,664.81 L288.06,664.94 L288.75,665.06 L289.45,665.18 L290.15,665.29 L290.85,665.39 L291.55,665.48 L292.25,665.57 L292.95,665.65 L293.65,665.72 L294.35,665.79 L295.05,665.85 L295.75,665.91 L296.45,665.96 L297.15,666 L297.85,666.05 L298.55,666.08 L299.25,666.12 L299.95,666.14 L300.65,666.17 L301.35,666.19 L302.05,666.21 L302.75,666.22 L303.45,666.23 L304.15,666.24 L304.85,666.24 L305.55,666.25 L306.25,666.25 L306.95,666.25 L307.65,666.24 L308.35,666.23 L309.05,666.23 L309.75,666.22 L310.45,666.2 L311.15,666.19 L311.85,666.18 L312.55,666.16 L313.25,666.14 L313.95,666.13 L314.65,666.11 L315.35,666.09 L316.05,666.07 L316.75,666.04 L317.45,666.02 L318.15,666 L318.85,665.97 L319.55,665.95 L320.25,665.93 L320.95,665.9 L321.65,665.88 L322.35,665.85 L323.05,665.82 L323.75,665.8 L324.45,665.77 L325.15,665.75 L325.85,665.72 L326.55,665.69 L327.25,665.67 L327.95,665.64 L328.65,665.61 L329.35,665.59 L330.05,665.56 L330.75,665.54 L331.44,665.51 L332.14,665.48 L332.84,665.46 L333.54,665.43 L334.24,665.41 L334.94,665.38 L335.64,665.36 L336.34,665.33 L337.04,665.31 L337.74,665.29 L338.44,665.26 L339.14,665.24 L339.84,665.22 L340.54,665.19 L341.24,665.17 L341.94,665.15 L342.64,665.13 L343.34,665.11 L344.04,665.09 L344.74,665.07 L345.44,665.05 L346.14,665.03 L346.84,665.01 L347.54,664.99 L348.24,664.97 L348.94,664.95 L349.64,664.93 L350.34,664.91 L351.04,664.9 L351.74,664.88 L352.44,664.86 L353.14,664.85 L353.84,664.83 L354.54,664.81 L355.24,664.8 L355.94,664.78 L356.64,664.77 L357.34,664.75 L358.04,664.74 L358.74,664.73 L359.44,664.71 L360.14,664.7 L360.84,664.69 L361.54,664.67 L362.24,664.66 L362.94,664.65 L363.64,664.64 L364.34,664.63 L365.04,664.61 L365.74,664.6 L366.44,664.59 L367.14,664.58 L367.84,664.57 L368.54,664.56 L369.24,664.55 L369.94,664.54 L370.64,664.53 L371.34,664.53 L372.04,664.52 L372.74,664.51 L373.44,664.5 L374.13,664.49 L374.83,664.48 L375.53,664.48 L376.23,664.47 L376.93,664.46 L377.63,664.46 L378.33,664.45 L379.03,664.44 L379.73,664.44 L380.43,664.43 L381.13,664.42 L381.83,664.42 L382.53,664.41 L383.23,664.41 L383.93,664.4 L384.63,664.4 L385.33,664.39 L386.03,664.39 L386.73,664.38 L387.43,664.38 L388.13,664.37 L388.83,664.37 L389.53,664.37 L390.23,664.36 L390.93,664.36 L391.63,664.35 L392.33,664.35 L393.03,664.35 L393.73,664.34 L394.43,664.34 L395.13,664.34 L395.83,664.34 L396.53,664.33 L397.23,664.33 L397.93,664.33 L398.63,664.32 L399.33,664.32 L400.03,664.32 L400.73,664.32 L401.43,664.32 L402.13,664.31 L402.83,664.31 L403.53,664.31 L404.23,664.31 L404.93,664.31 L405.63,664.3 L406.33,664.3 L407.03,664.3 L407.73,664.3 L408.43,664.3 L409.13,664.3 L409.83,664.3 L410.53,664.3 L411.23,664.29 L411.93,664.29 L412.63,664.29 L413.33,664.29 L414.03,664.29 L414.73,664.29 L415.43,664.29 L416.12,664.29 L416.82,664.29 L417.52,664.29 L418.22,664.29 L418.92,664.29 L419.62,664.28 L420.32,664.28 L421.02,664.28 L421.72,664.28 L422.42,664.28 L423.12,664.28 L423.82,664.28 L424.52,664.28 L425.22,664.28 L425.92,664.28 L426.62,664.28 L427.32,664.28 L428.02,664.28 L428.72,664.28 L429.42,664.28 L430.12,664.28 L430.82,664.28 L431.52,664.28 L432.22,664.28 L432.92,664.28 L433.62,664.28 L434.32,664.28 L435.02,664.28 L435.72,664.28 L436.42,664.28 L437.12,664.28 L437.82,664.28 L438.52,664.28 L439.22,664.28 L439.92,664.28 L440.62,664.27 L441.32,664.27 L442.02,664.27 L442.72,664.27 L443.42,664.27 L444.12,664.27 L444.82,664.27 L445.52,664.27 L446.22,664.27 L446.92,664.27 L447.62,664.27 L448.32,664.27 L449.02,664.27 L449.72,664.27 L450.42,664.27 L451.12,664.27 L451.82,664.27 L452.52,664.27 L453.22,664.27 L453.92,664.27 L454.62,664.27 L455.32,664.27 L456.02,664.27 L456.72,664.27 L457.42,664.27 L458.12,664.27 L458.81,664.27 L459.51,664.27 L460.21,664.26 L460.91,664.26 L461.61,664.26 L462.31,664.26 L463.01,664.26 L463.71,664.26 L464.41,664.26 L465.11,664.26 L465.81,664.26 L466.51,664.26 L467.21,664.26 L467.91,664.26 L468.61,664.26 L469.31,664.26 L470.01,664.25 L470.71,664.25 L471.41,664.25 L472.11,664.25 L472.81,664.25 L473.51,664.25 L474.21,664.25 L474.91,664.25 L475.61,664.25 L476.31,664.25 L477.01,664.24 L477.71,664.24 L478.41,664.24 L479.11,664.24 L479.81,664.24 L480.51,664.24 L481.21,664.24 L481.91,664.24 L482.61,664.23 L483.31,664.23 L484.01,664.23 L484.71,664.23 L485.41,664.23 L486.11,664.23 L486.81,664.23 L487.51,664.22 L488.21,664.22 L488.91,664.22 L489.61,664.22 L490.31,664.22 L491.01,664.22 L491.71,664.21 L492.41,664.21 L493.11,664.21 L493.81,664.21 L494.51,664.21 L495.21,664.21 L495.91,664.2 L496.61,664.2 L497.31,664.2 L498.01,664.2 L498.71,664.2 L499.41,664.19 L500.11,664.19 L500.81,664.19 L501.5,664.19 L502.2,664.19 L502.9,664.18 L503.6,664.18 L504.3,664.18 L505,664.18 L505.7,664.17 L506.4,664.17 L507.1,664.17 L507.8,664.17 L508.5,664.16 L509.2,664.16 L509.9,664.16 L510.6,664.16 L511.3,664.15 L512,664.15 L512.7,664.15 L513.4,664.15 L514.1,664.14 L514.8,664.14 L515.5,664.14 L516.2,664.14 L516.9,664.13 L517.6,664.13 L518.3,664.13 L519,664.12 L519.7,664.12 L520.4,664.12 L521.1,664.12 L521.8,664.11 L522.5,664.11" fill="none" stroke="#66F23A" stroke-width="2.1" stroke-linejoin="round" stroke-linecap="round"/>
<path d="M97,690.09 L97.7,690.08 L98.4,690.07 L99.1,690.07 L99.8,690.06 L100.5,690.05 L101.2,690.05 L101.9,690.04 L102.6,690.03 L103.3,690.02 L104,690.02 L104.7,690.01 L105.4,690 L106.1,689.99 L106.8,689.98 L107.5,689.97 L108.2,689.96 L108.9,689.95 L109.6,689.95 L110.3,689.94 L111,689.93 L111.7,689.91 L112.4,689.9 L113.1,689.89 L113.8,689.88 L114.5,689.87 L115.2,689.86 L115.9,689.85 L116.6,689.83 L117.3,689.82 L118,689.81 L118.69,689.8 L119.39,689.78 L120.09,689.77 L120.79,689.75 L121.49,689.74 L122.19,689.73 L122.89,689.71 L123.59,689.7 L124.29,689.68 L124.99,689.66 L125.69,689.65 L126.39,689.63 L127.09,689.61 L127.79,689.6 L128.49,689.58 L129.19,689.56 L129.89,689.54 L130.59,689.52 L131.29,689.5 L131.99,689.48 L132.69,689.46 L133.39,689.44 L134.09,689.42 L134.79,689.4 L135.49,689.37 L136.19,689.35 L136.89,689.33 L137.59,689.3 L138.29,689.28 L138.99,689.26 L139.69,689.23 L140.39,689.2 L141.09,689.18 L141.79,689.15 L142.49,689.12 L143.19,689.1 L143.89,689.07 L144.59,689.04 L145.29,689.01 L145.99,688.98 L146.69,688.95 L147.39,688.92 L148.09,688.88 L148.79,688.85 L149.49,688.82 L150.19,688.78 L150.89,688.75 L151.59,688.71 L152.29,688.68 L152.99,688.64 L153.69,688.6 L154.39,688.56 L155.09,688.52 L155.79,688.48 L156.49,688.44 L157.19,688.4 L157.89,688.36 L158.59,688.32 L159.29,688.27 L159.99,688.23 L160.69,688.18 L161.38,688.14 L162.08,688.09 L162.78,688.04 L163.48,687.99 L164.18,687.94 L164.88,687.89 L165.58,687.84 L166.28,687.78 L166.98,687.73 L167.68,687.68 L168.38,687.62 L169.08,687.56 L169.78,687.51 L170.48,687.45 L171.18,687.39 L171.88,687.33 L172.58,687.26 L173.28,687.2 L173.98,687.14 L174.68,687.07 L175.38,687 L176.08,686.94 L176.78,686.87 L177.48,686.8 L178.18,686.72 L178.88,686.65 L179.58,686.58 L180.28,686.5 L180.98,686.43 L181.68,686.35 L182.38,686.27 L183.08,686.19 L183.78,686.1 L184.48,686.02 L185.18,685.94 L185.88,685.85 L186.58,685.76 L187.28,685.67 L187.98,685.58 L188.68,685.48 L189.38,685.39 L190.08,685.29 L190.78,685.19 L191.48,685.09 L192.18,684.99 L192.88,684.89 L193.58,684.78 L194.28,684.67 L194.98,684.56 L195.68,684.45 L196.38,684.34 L197.08,684.22 L197.78,684.1 L198.48,683.98 L199.18,683.86 L199.88,683.73 L200.58,683.6 L201.28,683.47 L201.98,683.34 L202.68,683.2 L203.38,683.06 L204.07,682.92 L204.77,682.78 L205.47,682.63 L206.17,682.48 L206.87,682.32 L207.57,682.17 L208.27,682.01 L208.97,681.84 L209.67,681.67 L210.37,681.5 L211.07,681.33 L211.77,681.15 L212.47,680.97 L213.17,680.78 L213.87,680.59 L214.57,680.4 L215.27,680.2 L215.97,680 L216.67,679.79 L217.37,679.58 L218.07,679.37 L218.77,679.15 L219.47,678.93 L220.17,678.7 L220.87,678.47 L221.57,678.24 L222.27,678 L222.97,677.76 L223.67,677.51 L224.37,677.26 L225.07,677 L225.77,676.74 L226.47,676.48 L227.17,676.21 L227.87,675.94 L228.57,675.66 L229.27,675.39 L229.97,675.1 L230.67,674.82 L231.37,674.53 L232.07,674.24 L232.77,673.94 L233.47,673.64 L234.17,673.34 L234.87,673.04 L235.57,672.73 L236.27,672.42 L236.97,672.11 L237.67,671.79 L238.37,671.48 L239.07,671.16 L239.77,670.84 L240.47,670.52 L241.17,670.19 L241.87,669.87 L242.57,669.54 L243.27,669.21 L243.97,668.88 L244.67,668.55 L245.37,668.22 L246.06,667.89 L246.76,667.56 L247.46,667.22 L248.16,666.89 L248.86,666.56 L249.56,666.22 L250.26,665.89 L250.96,665.55 L251.66,665.21 L252.36,664.88 L253.06,664.54 L253.76,664.21 L254.46,663.87 L255.16,663.53 L255.86,663.2 L256.56,662.86 L257.26,662.52 L257.96,662.19 L258.66,661.85 L259.36,661.51 L260.06,661.18 L260.76,660.84 L261.46,660.51 L262.16,660.17 L262.86,659.83 L263.56,659.5 L264.26,659.16 L264.96,658.83 L265.66,658.49 L266.36,658.16 L267.06,657.82 L267.76,657.49 L268.46,657.15 L269.16,656.82 L269.86,656.48 L270.56,656.15 L271.26,655.82 L271.96,655.48 L272.66,655.15 L273.36,654.82 L274.06,654.48 L274.76,654.15 L275.46,653.82 L276.16,653.49 L276.86,653.16 L277.56,652.83 L278.26,652.5 L278.96,652.17 L279.66,651.84 L280.36,651.52 L281.06,651.19 L281.76,650.86 L282.46,650.54 L283.16,650.22 L283.86,649.9 L284.56,649.58 L285.26,649.26 L285.96,648.94 L286.66,648.62 L287.36,648.31 L288.06,648 L288.75,647.68 L289.45,647.38 L290.15,647.07 L290.85,646.76 L291.55,646.46 L292.25,646.16 L292.95,645.86 L293.65,645.56 L294.35,645.27 L295.05,644.98 L295.75,644.69 L296.45,644.41 L297.15,644.13 L297.85,643.85 L298.55,643.57 L299.25,643.3 L299.95,643.03 L300.65,642.76 L301.35,642.5 L302.05,642.24 L302.75,641.98 L303.45,641.73 L304.15,641.48 L304.85,641.24 L305.55,641 L306.25,640.77 L306.95,640.53 L307.65,640.31 L308.35,640.08 L309.05,639.87 L309.75,639.65 L310.45,639.44 L311.15,639.24 L311.85,639.04 L312.55,638.85 L313.25,638.66 L313.95,638.47 L314.65,638.3 L315.35,638.12 L316.05,637.95 L316.75,637.79 L317.45,637.63 L318.15,637.48 L318.85,637.33 L319.55,637.19 L320.25,637.06 L320.95,636.93 L321.65,636.8 L322.35,636.68 L323.05,636.57 L323.75,636.46 L324.45,636.36 L325.15,636.27 L325.85,636.18 L326.55,636.1 L327.25,636.02 L327.95,635.95 L328.65,635.88 L329.35,635.82 L330.05,635.77 L330.75,635.72 L331.44,635.68 L332.14,635.65 L332.84,635.62 L333.54,635.59 L334.24,635.57 L334.94,635.56 L335.64,635.55 L336.34,635.55 L337.04,635.56 L337.74,635.57 L338.44,635.58 L339.14,635.6 L339.84,635.63 L340.54,635.66 L341.24,635.7 L341.94,635.74 L342.64,635.79 L343.34,635.84 L344.04,635.9 L344.74,635.96 L345.44,636.03 L346.14,636.1 L346.84,636.18 L347.54,636.26 L348.24,636.35 L348.94,636.44 L349.64,636.54 L350.34,636.64 L351.04,636.75 L351.74,636.86 L352.44,636.97 L353.14,637.09 L353.84,637.22 L354.54,637.35 L355.24,637.48 L355.94,637.61 L356.64,637.75 L357.34,637.9 L358.04,638.05 L358.74,638.2 L359.44,638.35 L360.14,638.51 L360.84,638.67 L361.54,638.84 L362.24,639.01 L362.94,639.18 L363.64,639.35 L364.34,639.53 L365.04,639.71 L365.74,639.9 L366.44,640.08 L367.14,640.27 L367.84,640.46 L368.54,640.66 L369.24,640.85 L369.94,641.05 L370.64,641.25 L371.34,641.45 L372.04,641.66 L372.74,641.87 L373.44,642.07 L374.13,642.28 L374.83,642.5 L375.53,642.71 L376.23,642.92 L376.93,643.14 L377.63,643.36 L378.33,643.57 L379.03,643.79 L379.73,644.01 L380.43,644.23 L381.13,644.46 L381.83,644.68 L382.53,644.9 L383.23,645.12 L383.93,645.35 L384.63,645.57 L385.33,645.8 L386.03,646.02 L386.73,646.25 L387.43,646.47 L388.13,646.7 L388.83,646.92 L389.53,647.15 L390.23,647.37 L390.93,647.6 L391.63,647.82 L392.33,648.04 L393.03,648.27 L393.73,648.49 L394.43,648.71 L395.13,648.93 L395.83,649.15 L396.53,649.37 L397.23,649.59 L397.93,649.81 L398.63,650.03 L399.33,650.24 L400.03,650.46 L400.73,650.67 L401.43,650.88 L402.13,651.09 L402.83,651.3 L403.53,651.51 L404.23,651.72 L404.93,651.92 L405.63,652.12 L406.33,652.33 L407.03,652.53 L407.73,652.73 L408.43,652.92 L409.13,653.12 L409.83,653.31 L410.53,653.51 L411.23,653.7 L411.93,653.89 L412.63,654.07 L413.33,654.26 L414.03,654.44 L414.73,654.62 L415.43,654.8 L416.12,654.98 L416.82,655.15 L417.52,655.33 L418.22,655.5 L418.92,655.67 L419.62,655.83 L420.32,656 L421.02,656.16 L421.72,656.32 L422.42,656.48 L423.12,656.64 L423.82,656.8 L424.52,656.95 L425.22,657.1 L425.92,657.25 L426.62,657.39 L427.32,657.54 L428.02,657.68 L428.72,657.82 L429.42,657.96 L430.12,658.09 L430.82,658.23 L431.52,658.36 L432.22,658.49 L432.92,658.62 L433.62,658.74 L434.32,658.87 L435.02,658.99 L435.72,659.11 L436.42,659.23 L437.12,659.34 L437.82,659.45 L438.52,659.57 L439.22,659.68 L439.92,659.78 L440.62,659.89 L441.32,659.99 L442.02,660.09 L442.72,660.19 L443.42,660.29 L444.12,660.39 L444.82,660.48 L445.52,660.57 L446.22,660.67 L446.92,660.75 L447.62,660.84 L448.32,660.93 L449.02,661.01 L449.72,661.09 L450.42,661.17 L451.12,661.25 L451.82,661.33 L452.52,661.4 L453.22,661.48 L453.92,661.55 L454.62,661.62 L455.32,661.69 L456.02,661.75 L456.72,661.82 L457.42,661.88 L458.12,661.95 L458.81,662.01 L459.51,662.07 L460.21,662.13 L460.91,662.18 L461.61,662.24 L462.31,662.29 L463.01,662.35 L463.71,662.4 L464.41,662.45 L465.11,662.5 L465.81,662.55 L466.51,662.6 L467.21,662.64 L467.91,662.69 L468.61,662.73 L469.31,662.77 L470.01,662.81 L470.71,662.85 L471.41,662.89 L472.11,662.93 L472.81,662.97 L473.51,663.01 L474.21,663.04 L474.91,663.08 L475.61,663.11 L476.31,663.14 L477.01,663.17 L477.71,663.2 L478.41,663.23 L479.11,663.26 L479.81,663.29 L480.51,663.32 L481.21,663.35 L481.91,663.37 L482.61,663.4 L483.31,663.42 L484.01,663.45 L484.71,663.47 L485.41,663.49 L486.11,663.52 L486.81,663.54 L487.51,663.56 L488.21,663.58 L488.91,663.6 L489.61,663.62 L490.31,663.64 L491.01,663.65 L491.71,663.67 L492.41,663.69 L493.11,663.7 L493.81,663.72 L494.51,663.74 L495.21,663.75 L495.91,663.76 L496.61,663.78 L497.31,663.79 L498.01,663.81 L498.71,663.82 L499.41,663.83 L500.11,663.84 L500.81,663.85 L501.5,663.87 L502.2,663.88 L502.9,663.89 L503.6,663.9 L504.3,663.91 L505,663.92 L505.7,663.93 L506.4,663.94 L507.1,663.95 L507.8,663.95 L508.5,663.96 L509.2,663.97 L509.9,663.98 L510.6,663.99 L511.3,663.99 L512,664 L512.7,664.01 L513.4,664.01 L514.1,664.02 L514.8,664.03 L515.5,664.03 L516.2,664.04 L516.9,664.04 L517.6,664.05 L518.3,664.06 L519,664.06 L519.7,664.07 L520.4,664.07 L521.1,664.08 L521.8,664.08 L522.5,664.09" fill="none" stroke="#EE1515" stroke-width="2.1" stroke-linejoin="round" stroke-linecap="round"/>
<path d="M97,690.19 L97.7,690.18 L98.4,690.18 L99.1,690.17 L99.8,690.16 L100.5,690.16 L101.2,690.15 L101.9,690.14 L102.6,690.14 L103.3,690.13 L104,690.12 L104.7,690.11 L105.4,690.11 L106.1,690.1 L106.8,690.09 L107.5,690.08 L108.2,690.07 L108.9,690.06 L109.6,690.05 L110.3,690.05 L111,690.04 L111.7,690.03 L112.4,690.02 L113.1,690.01 L113.8,690 L114.5,689.98 L115.2,689.97 L115.9,689.96 L116.6,689.95 L117.3,689.94 L118,689.93 L118.69,689.92 L119.39,689.9 L120.09,689.89 L120.79,689.88 L121.49,689.86 L122.19,689.85 L122.89,689.84 L123.59,689.82 L124.29,689.81 L124.99,689.79 L125.69,689.78 L126.39,689.76 L127.09,689.75 L127.79,689.73 L128.49,689.72 L129.19,689.7 L129.89,689.68 L130.59,689.66 L131.29,689.65 L131.99,689.63 L132.69,689.61 L133.39,689.59 L134.09,689.57 L134.79,689.55 L135.49,689.53 L136.19,689.51 L136.89,689.49 L137.59,689.47 L138.29,689.45 L138.99,689.43 L139.69,689.4 L140.39,689.38 L141.09,689.36 L141.79,689.34 L142.49,689.31 L143.19,689.29 L143.89,689.26 L144.59,689.24 L145.29,689.21 L145.99,689.18 L146.69,689.16 L147.39,689.13 L148.09,689.1 L148.79,689.07 L149.49,689.04 L150.19,689.02 L150.89,688.99 L151.59,688.96 L152.29,688.92 L152.99,688.89 L153.69,688.86 L154.39,688.83 L155.09,688.8 L155.79,688.76 L156.49,688.73 L157.19,688.69 L157.89,688.66 L158.59,688.62 L159.29,688.59 L159.99,688.55 L160.69,688.51 L161.38,688.48 L162.08,688.44 L162.78,688.4 L163.48,688.36 L164.18,688.32 L164.88,688.28 L165.58,688.24 L166.28,688.19 L166.98,688.15 L167.68,688.11 L168.38,688.06 L169.08,688.02 L169.78,687.97 L170.48,687.93 L171.18,687.88 L171.88,687.84 L172.58,687.79 L173.28,687.74 L173.98,687.69 L174.68,687.64 L175.38,687.59 L176.08,687.54 L176.78,687.49 L177.48,687.44 L178.18,687.38 L178.88,687.33 L179.58,687.28 L180.28,687.22 L180.98,687.17 L181.68,687.11 L182.38,687.05 L183.08,686.99 L183.78,686.94 L184.48,686.88 L185.18,686.82 L185.88,686.76 L186.58,686.69 L187.28,686.63 L187.98,686.57 L188.68,686.51 L189.38,686.44 L190.08,686.38 L190.78,686.31 L191.48,686.24 L192.18,686.17 L192.88,686.1 L193.58,686.03 L194.28,685.96 L194.98,685.89 L195.68,685.82 L196.38,685.74 L197.08,685.67 L197.78,685.59 L198.48,685.52 L199.18,685.44 L199.88,685.36 L200.58,685.28 L201.28,685.19 L201.98,685.11 L202.68,685.02 L203.38,684.94 L204.07,684.85 L204.77,684.76 L205.47,684.67 L206.17,684.58 L206.87,684.48 L207.57,684.38 L208.27,684.29 L208.97,684.19 L209.67,684.08 L210.37,683.98 L211.07,683.87 L211.77,683.76 L212.47,683.65 L213.17,683.54 L213.87,683.43 L214.57,683.31 L215.27,683.19 L215.97,683.07 L216.67,682.95 L217.37,682.82 L218.07,682.69 L218.77,682.56 L219.47,682.43 L220.17,682.3 L220.87,682.16 L221.57,682.02 L222.27,681.88 L222.97,681.73 L223.67,681.59 L224.37,681.44 L225.07,681.29 L225.77,681.14 L226.47,680.99 L227.17,680.83 L227.87,680.67 L228.57,680.51 L229.27,680.35 L229.97,680.19 L230.67,680.03 L231.37,679.87 L232.07,679.7 L232.77,679.53 L233.47,679.37 L234.17,679.2 L234.87,679.03 L235.57,678.86 L236.27,678.69 L236.97,678.53 L237.67,678.36 L238.37,678.19 L239.07,678.02 L239.77,677.85 L240.47,677.68 L241.17,677.52 L241.87,677.35 L242.57,677.18 L243.27,677.02 L243.97,676.86 L244.67,676.7 L245.37,676.54 L246.06,676.38 L246.76,676.22 L247.46,676.06 L248.16,675.91 L248.86,675.76 L249.56,675.6 L250.26,675.46 L250.96,675.31 L251.66,675.16 L252.36,675.02 L253.06,674.88 L253.76,674.74 L254.46,674.6 L255.16,674.47 L255.86,674.33 L256.56,674.2 L257.26,674.07 L257.96,673.94 L258.66,673.82 L259.36,673.69 L260.06,673.57 L260.76,673.45 L261.46,673.33 L262.16,673.22 L262.86,673.1 L263.56,672.99 L264.26,672.88 L264.96,672.77 L265.66,672.66 L266.36,672.55 L267.06,672.45 L267.76,672.34 L268.46,672.24 L269.16,672.14 L269.86,672.04 L270.56,671.94 L271.26,671.84 L271.96,671.74 L272.66,671.65 L273.36,671.55 L274.06,671.46 L274.76,671.37 L275.46,671.27 L276.16,671.18 L276.86,671.09 L277.56,671.01 L278.26,670.92 L278.96,670.83 L279.66,670.74 L280.36,670.66 L281.06,670.57 L281.76,670.49 L282.46,670.41 L283.16,670.32 L283.86,670.24 L284.56,670.16 L285.26,670.08 L285.96,670 L286.66,669.92 L287.36,669.84 L288.06,669.77 L288.75,669.69 L289.45,669.61 L290.15,669.54 L290.85,669.46 L291.55,669.39 L292.25,669.31 L292.95,669.24 L293.65,669.17 L294.35,669.09 L295.05,669.02 L295.75,668.95 L296.45,668.88 L297.15,668.81 L297.85,668.75 L298.55,668.68 L299.25,668.61 L299.95,668.54 L300.65,668.48 L301.35,668.41 L302.05,668.35 L302.75,668.28 L303.45,668.22 L304.15,668.16 L304.85,668.09 L305.55,668.03 L306.25,667.97 L306.95,667.91 L307.65,667.85 L308.35,667.79 L309.05,667.74 L309.75,667.68 L310.45,667.62 L311.15,667.57 L311.85,667.51 L312.55,667.45 L313.25,667.4 L313.95,667.35 L314.65,667.29 L315.35,667.24 L316.05,667.19 L316.75,667.14 L317.45,667.09 L318.15,667.04 L318.85,666.99 L319.55,666.94 L320.25,666.89 L320.95,666.85 L321.65,666.8 L322.35,666.75 L323.05,666.71 L323.75,666.66 L324.45,666.62 L325.15,666.58 L325.85,666.53 L326.55,666.49 L327.25,666.45 L327.95,666.41 L328.65,666.37 L329.35,666.33 L330.05,666.29 L330.75,666.25 L331.44,666.21 L332.14,666.17 L332.84,666.14 L333.54,666.1 L334.24,666.07 L334.94,666.03 L335.64,666 L336.34,665.96 L337.04,665.93 L337.74,665.89 L338.44,665.86 L339.14,665.83 L339.84,665.8 L340.54,665.77 L341.24,665.74 L341.94,665.71 L342.64,665.68 L343.34,665.65 L344.04,665.62 L344.74,665.59 L345.44,665.57 L346.14,665.54 L346.84,665.51 L347.54,665.49 L348.24,665.46 L348.94,665.44 L349.64,665.41 L350.34,665.39 L351.04,665.36 L351.74,665.34 L352.44,665.32 L353.14,665.3 L353.84,665.27 L354.54,665.25 L355.24,665.23 L355.94,665.21 L356.64,665.19 L357.34,665.17 L358.04,665.15 L358.74,665.13 L359.44,665.11 L360.14,665.09 L360.84,665.08 L361.54,665.06 L362.24,665.04 L362.94,665.03 L363.64,665.01 L364.34,664.99 L365.04,664.98 L365.74,664.96 L366.44,664.95 L367.14,664.93 L367.84,664.92 L368.54,664.9 L369.24,664.89 L369.94,664.88 L370.64,664.86 L371.34,664.85 L372.04,664.84 L372.74,664.82 L373.44,664.81 L374.13,664.8 L374.83,664.79 L375.53,664.78 L376.23,664.77 L376.93,664.75 L377.63,664.74 L378.33,664.73 L379.03,664.72 L379.73,664.71 L380.43,664.7 L381.13,664.7 L381.83,664.69 L382.53,664.68 L383.23,664.67 L383.93,664.66 L384.63,664.65 L385.33,664.64 L386.03,664.64 L386.73,664.63 L387.43,664.62 L388.13,664.61 L388.83,664.61 L389.53,664.6 L390.23,664.59 L390.93,664.59 L391.63,664.58 L392.33,664.57 L393.03,664.57 L393.73,664.56 L394.43,664.56 L395.13,664.55 L395.83,664.54 L396.53,664.54 L397.23,664.53 L397.93,664.53 L398.63,664.52 L399.33,664.52 L400.03,664.51 L400.73,664.51 L401.43,664.5 L402.13,664.5 L402.83,664.5 L403.53,664.49 L404.23,664.49 L404.93,664.48 L405.63,664.48 L406.33,664.48 L407.03,664.47 L407.73,664.47 L408.43,664.47 L409.13,664.46 L409.83,664.46 L410.53,664.46 L411.23,664.45 L411.93,664.45 L412.63,664.45 L413.33,664.45 L414.03,664.44 L414.73,664.44 L415.43,664.44 L416.12,664.44 L416.82,664.43 L417.52,664.43 L418.22,664.43 L418.92,664.43 L419.62,664.42 L420.32,664.42 L421.02,664.42 L421.72,664.42 L422.42,664.42 L423.12,664.41 L423.82,664.41 L424.52,664.41 L425.22,664.41 L425.92,664.41 L426.62,664.41 L427.32,664.4 L428.02,664.4 L428.72,664.4 L429.42,664.4 L430.12,664.4 L430.82,664.4 L431.52,664.4 L432.22,664.4 L432.92,664.39 L433.62,664.39 L434.32,664.39 L435.02,664.39 L435.72,664.39 L436.42,664.39 L437.12,664.39 L437.82,664.39 L438.52,664.39 L439.22,664.38 L439.92,664.38 L440.62,664.38 L441.32,664.38 L442.02,664.38 L442.72,664.38 L443.42,664.38 L444.12,664.38 L444.82,664.38 L445.52,664.38 L446.22,664.38 L446.92,664.38 L447.62,664.38 L448.32,664.37 L449.02,664.37 L449.72,664.37 L450.42,664.37 L451.12,664.37 L451.82,664.37 L452.52,664.37 L453.22,664.37 L453.92,664.37 L454.62,664.37 L455.32,664.37 L456.02,664.37 L456.72,664.37 L457.42,664.37 L458.12,664.37 L458.81,664.37 L459.51,664.37 L460.21,664.36 L460.91,664.36 L461.61,664.36 L462.31,664.36 L463.01,664.36 L463.71,664.36 L464.41,664.36 L465.11,664.36 L465.81,664.36 L466.51,664.36 L467.21,664.36 L467.91,664.36 L468.61,664.36 L469.31,664.36 L470.01,664.36 L470.71,664.36 L471.41,664.36 L472.11,664.36 L472.81,664.36 L473.51,664.36 L474.21,664.36 L474.91,664.36 L475.61,664.36 L476.31,664.36 L477.01,664.35 L477.71,664.35 L478.41,664.35 L479.11,664.35 L479.81,664.35 L480.51,664.35 L481.21,664.35 L481.91,664.35 L482.61,664.35 L483.31,664.35 L484.01,664.35 L484.71,664.35 L485.41,664.35 L486.11,664.35 L486.81,664.35 L487.51,664.35 L488.21,664.35 L488.91,664.35 L489.61,664.35 L490.31,664.35 L491.01,664.35 L491.71,664.35 L492.41,664.35 L493.11,664.35 L493.81,664.35 L494.51,664.34 L495.21,664.34 L495.91,664.34 L496.61,664.34 L497.31,664.34 L498.01,664.34 L498.71,664.34 L499.41,664.34 L500.11,664.34 L500.81,664.34 L501.5,664.34 L502.2,664.34 L502.9,664.34 L503.6,664.34 L504.3,664.34 L505,664.34 L505.7,664.34 L506.4,664.34 L507.1,664.34 L507.8,664.34 L508.5,664.34 L509.2,664.34 L509.9,664.33 L510.6,664.33 L511.3,664.33 L512,664.33 L512.7,664.33 L513.4,664.33 L514.1,664.33 L514.8,664.33 L515.5,664.33 L516.2,664.33 L516.9,664.33 L517.6,664.33 L518.3,664.33 L519,664.33 L519.7,664.33 L520.4,664.33 L521.1,664.33 L521.8,664.33 L522.5,664.33" fill="none" stroke="#1496D8" stroke-width="2.1" stroke-linejoin="round" stroke-linecap="round"/>
<text x="64.78" y="703.72" font-size="13.1" font-weight="bold" fill="#1a1a1a" stroke="#1a1a1a" stroke-width="0.4" textLength="18.76" lengthAdjust="spacingAndGlyphs">0.0</text>
<text x="64.78" y="667.08" font-size="13.1" font-weight="bold" fill="#1a1a1a" stroke="#1a1a1a" stroke-width="0.4" textLength="18.76" lengthAdjust="spacingAndGlyphs">1.0</text>
<text x="64.78" y="630.44" font-size="13.1" font-weight="bold" fill="#1a1a1a" stroke="#1a1a1a" stroke-width="0.4" textLength="18.76" lengthAdjust="spacingAndGlyphs">2.0</text>
<text x="64.78" y="593.8" font-size="13.1" font-weight="bold" fill="#1a1a1a" stroke="#1a1a1a" stroke-width="0.4" textLength="18.76" lengthAdjust="spacingAndGlyphs">3.0</text>
<text x="64.78" y="557.16" font-size="13.1" font-weight="bold" fill="#1a1a1a" stroke="#1a1a1a" stroke-width="0.4" textLength="18.76" lengthAdjust="spacingAndGlyphs">4.0</text>
<text x="64.78" y="520.52" font-size="13.1" font-weight="bold" fill="#1a1a1a" stroke="#1a1a1a" stroke-width="0.4" textLength="18.76" lengthAdjust="spacingAndGlyphs">5.0</text>
<text x="64.78" y="483.88" font-size="13.1" font-weight="bold" fill="#1a1a1a" stroke="#1a1a1a" stroke-width="0.4" textLength="18.76" lengthAdjust="spacingAndGlyphs">6.0</text>
<text x="64.78" y="447.24" font-size="13.1" font-weight="bold" fill="#1a1a1a" stroke="#1a1a1a" stroke-width="0.4" textLength="18.76" lengthAdjust="spacingAndGlyphs">7.0</text>
<text x="64.78" y="410.6" font-size="13.1" font-weight="bold" fill="#1a1a1a" stroke="#1a1a1a" stroke-width="0.4" textLength="18.76" lengthAdjust="spacingAndGlyphs">8.0</text>
<text x="85.8" y="722.87" font-size="13.1" font-weight="bold" fill="#1a1a1a" stroke="#1a1a1a" stroke-width="0.4" textLength="22.51" lengthAdjust="spacingAndGlyphs">282</text>
<text x="170.7" y="722.87" font-size="13.1" font-weight="bold" fill="#1a1a1a" stroke="#1a1a1a" stroke-width="0.4" textLength="22.51" lengthAdjust="spacingAndGlyphs">284</text>
<text x="256" y="722.87" font-size="13.1" font-weight="bold" fill="#1a1a1a" stroke="#1a1a1a" stroke-width="0.4" textLength="22.51" lengthAdjust="spacingAndGlyphs">286</text>
<text x="341.03" y="722.87" font-size="13.1" font-weight="bold" fill="#1a1a1a" stroke="#1a1a1a" stroke-width="0.4" textLength="22.51" lengthAdjust="spacingAndGlyphs">288</text>
<text x="426.2" y="722.87" font-size="13.1" font-weight="bold" fill="#1a1a1a" stroke="#1a1a1a" stroke-width="0.4" textLength="22.51" lengthAdjust="spacingAndGlyphs">290</text>
<text x="511.3" y="722.87" font-size="13.1" font-weight="bold" fill="#1a1a1a" stroke="#1a1a1a" stroke-width="0.4" textLength="22.51" lengthAdjust="spacingAndGlyphs">292</text>
<text x="7.52" y="410.44" font-size="14.57" font-weight="bold" fill="#1a1a1a" stroke="#1a1a1a" stroke-width="0.4" textLength="18.82" lengthAdjust="spacingAndGlyphs">[b]</text>
<text x="41.27" y="443.03" font-size="13.24" font-weight="bold" fill="#1a1a1a" stroke="#1a1a1a" stroke-width="0.4" textLength="39.83" lengthAdjust="spacingAndGlyphs" transform="rotate(-90 41.27 443.03)">x 1000</text>
<text x="38.45" y="582.09" font-size="14.86" font-weight="bold" fill="#1a1a1a" stroke="#1a1a1a" stroke-width="0.4" textLength="63.25" lengthAdjust="spacingAndGlyphs" transform="rotate(-90 38.45 582.09)">Counts/s</text>
<text x="244.38" y="756.8" font-size="14.78" font-weight="bold" fill="#1a1a1a" stroke="#1a1a1a" stroke-width="0.4" textLength="156.73" lengthAdjust="spacingAndGlyphs">Binding Energy (E, eV)</text>
<line x1="98.4" y1="802" x2="98.4" y2="1117.9" stroke="#2a2a2a" stroke-width="1.9"/>
<line x1="93.4" y1="1113.3" x2="98.4" y2="1113.3" stroke="#1e1e1e" stroke-width="1.6"/>
<line x1="93.4" y1="1035.65" x2="98.4" y2="1035.65" stroke="#1e1e1e" stroke-width="1.6"/>
<line x1="93.4" y1="958" x2="98.4" y2="958" stroke="#1e1e1e" stroke-width="1.6"/>
<line x1="93.4" y1="880.35" x2="98.4" y2="880.35" stroke="#1e1e1e" stroke-width="1.6"/>
<line x1="93.4" y1="802.7" x2="98.4" y2="802.7" stroke="#1e1e1e" stroke-width="1.6"/>
<line x1="93.4" y1="1113.3" x2="558.7" y2="1113.3" stroke="#1e1e1e" stroke-width="1.6"/>
<line x1="98.4" y1="1113.3" x2="98.4" y2="1117.9" stroke="#1e1e1e" stroke-width="1.6"/>
<line x1="213.3" y1="1113.3" x2="213.3" y2="1117.9" stroke="#1e1e1e" stroke-width="1.6"/>
<line x1="328.2" y1="1113.3" x2="328.2" y2="1117.9" stroke="#1e1e1e" stroke-width="1.6"/>
<line x1="443.1" y1="1113.3" x2="443.1" y2="1117.9" stroke="#1e1e1e" stroke-width="1.6"/>
<line x1="558" y1="1113.3" x2="558" y2="1117.9" stroke="#1e1e1e" stroke-width="1.6"/>
<path d="M98.8,1069.6 C99.03,1067.85 99.5,1061.72 100.2,1059.1 C100.9,1056.48 102.2,1053.42 103,1053.9 C103.8,1054.38 104.37,1057.9 105,1062 C105.63,1066.1 106.23,1074 106.8,1078.5 C107.37,1083 107.83,1086.87 108.4,1089 C108.97,1091.13 109.6,1091.3 110.2,1091.3 C110.8,1091.3 111.3,1090.08 112,1089 C112.7,1087.92 113.7,1084.8 114.4,1084.8 C115.1,1084.8 115.55,1087.35 116.2,1089 C116.85,1090.65 117.68,1093.32 118.3,1094.7 C118.92,1096.08 119.28,1097.82 119.9,1097.3 C120.52,1096.78 121.3,1094.73 122,1091.6 C122.7,1088.47 123.48,1081.73 124.1,1078.5 C124.72,1075.27 125.18,1073.95 125.7,1072.2 C126.22,1070.45 126.55,1069.83 127.2,1068 C127.85,1066.17 128.75,1062.68 129.6,1061.2 C130.45,1059.72 131.27,1058.58 132.3,1059.1 C133.33,1059.62 134.68,1062.73 135.8,1064.3 C136.92,1065.87 137.85,1067.1 139,1068.5 C140.15,1069.9 141.65,1070.43 142.7,1072.7 C143.75,1074.97 144.52,1079.13 145.3,1082.1 C146.08,1085.07 146.78,1088.57 147.4,1090.5 C148.02,1092.43 148.32,1095.1 149,1093.7 C149.68,1092.3 150.73,1086.82 151.5,1082.1 C152.27,1077.38 152.9,1069.58 153.6,1065.4 C154.3,1061.22 155,1057.87 155.7,1057 C156.4,1056.13 157.1,1058.28 157.8,1060.2 C158.5,1062.12 158.85,1066.77 159.9,1068.5 C160.95,1070.23 162.87,1069.9 164.1,1070.6 C165.33,1071.3 166.25,1071.65 167.3,1072.7 C168.35,1073.75 169.53,1077.42 170.4,1076.9 C171.27,1076.38 171.7,1073.97 172.5,1069.6 C173.3,1065.23 174.33,1055.07 175.2,1050.7 C176.07,1046.33 176.93,1043.4 177.7,1043.4 C178.47,1043.4 179.1,1046.33 179.8,1050.7 C180.5,1055.07 181.27,1065.58 181.9,1069.6 C182.53,1073.62 183,1075.15 183.6,1074.8 C184.2,1074.45 184.83,1072.22 185.5,1067.5 C186.17,1062.78 186.9,1051.22 187.6,1046.5 C188.3,1041.78 189,1039.53 189.7,1039.2 C190.4,1038.87 191.18,1041.88 191.8,1044.5 C192.42,1047.12 192.78,1051.93 193.4,1054.9 C194.02,1057.87 194.8,1061.95 195.5,1062.3 C196.2,1062.65 196.72,1060.32 197.6,1057 C198.48,1053.68 199.75,1046.58 200.8,1042.4 C201.85,1038.22 202.87,1034.42 203.9,1031.9 C204.93,1029.38 205.95,1027.6 207,1027.3 C208.05,1027 208.78,1029.28 210.2,1030.1 C211.62,1030.92 213.57,1032.2 215.5,1032.2 C217.43,1032.2 220.07,1032.55 221.8,1030.1 C223.53,1027.65 224.68,1020.98 225.9,1017.5 C227.12,1014.02 227.7,1011.28 229.1,1009.2 C230.5,1007.12 232.73,1008.5 234.3,1005 C235.87,1001.5 237.1,994.48 238.5,988.2 C239.9,981.92 241.3,972.53 242.7,967.3 C244.1,962.07 245.5,958.72 246.9,956.8 C248.3,954.88 249.7,954.4 251.1,955.8 C252.5,957.2 254.18,962.77 255.3,965.2 C256.42,967.63 256.93,971.8 257.8,970.4 C258.67,969 259.35,962.9 260.5,956.8 C261.65,950.7 263.48,939.22 264.7,933.8 C265.92,928.38 266.58,925.53 267.8,924.3 C269.02,923.07 270.6,925.7 272,926.4 C273.4,927.1 274.8,929.02 276.2,928.5 C277.6,927.98 279,928 280.4,923.3 C281.8,918.6 283.2,907.45 284.6,900.3 C286,893.15 287.68,884.42 288.8,880.4 C289.92,876.38 290.33,875.33 291.3,876.2 C292.27,877.07 293.45,881.07 294.6,885.6 C295.75,890.13 297.08,901.3 298.2,903.4 C299.32,905.5 300.37,899.7 301.3,898.2 C302.23,896.7 302.92,894.58 303.8,894.4 C304.68,894.22 305.68,896.3 306.6,897.1 C307.52,897.9 308.43,900.42 309.3,899.2 C310.17,897.98 310.85,894.52 311.8,889.8 C312.75,885.08 313.95,876.07 315,870.9 C316.05,865.73 317.05,861.78 318.1,858.8 C319.15,855.82 320.25,852.82 321.3,853 C322.35,853.18 323.18,857.18 324.4,859.9 C325.62,862.62 327.37,867.03 328.6,869.3 C329.83,871.57 330.75,874.55 331.8,873.5 C332.85,872.45 333.93,866.07 334.9,863 C335.87,859.93 336.73,854.4 337.6,855.1 C338.47,855.8 339.27,862.03 340.1,867.2 C340.93,872.37 341.83,881.98 342.6,886.1 C343.37,890.22 343.72,893.3 344.7,891.9 C345.68,890.5 347,882.33 348.5,877.7 C350,873.07 351.95,867.07 353.7,864.1 C355.45,861.13 357.6,859.73 359,859.9 C360.4,860.07 360.88,861.08 362.1,865.1 C363.32,869.12 365.07,880.15 366.3,884 C367.53,887.85 367.93,887.5 369.5,888.2 C371.07,888.9 373.97,887.85 375.7,888.2 C377.43,888.55 378.5,888.73 379.9,890.3 C381.3,891.87 382.87,894.47 384.1,897.6 C385.33,900.73 386.32,905.72 387.3,909.1 C388.28,912.48 389.07,918.6 390,917.9 C390.93,917.2 391.97,908.47 392.9,904.9 C393.83,901.33 394.68,896.15 395.6,896.5 C396.52,896.85 397.45,902.28 398.4,907 C399.35,911.72 400.37,923.05 401.3,924.8 C402.23,926.55 403.03,919.58 404,917.5 C404.97,915.42 405.88,911.95 407.1,912.3 C408.32,912.65 409.9,915.95 411.3,919.6 C412.7,923.25 414.27,930.18 415.5,934.2 C416.73,938.22 417.72,943.35 418.7,943.7 C419.68,944.05 420.6,938.3 421.4,936.3 C422.2,934.3 422.73,930.3 423.5,931.7 C424.27,933.1 425.07,939.38 426,944.7 C426.93,950.02 428.23,959.77 429.1,963.6 C429.97,967.43 430.43,967.57 431.2,967.7 C431.97,967.83 432.68,964.13 433.7,964.4 C434.72,964.67 436.08,967.47 437.3,969.3 C438.52,971.13 439.57,974.18 441,975.4 C442.43,976.62 444.48,975.37 445.9,976.6 C447.32,977.83 448.4,980.75 449.5,982.8 C450.6,984.85 451.47,989.12 452.5,988.9 C453.53,988.68 454.65,983.75 455.7,981.5 C456.75,979.25 457.78,974.98 458.8,975.4 C459.82,975.82 460.82,981.27 461.8,984 C462.78,986.73 463.68,992.62 464.7,991.8 C465.72,990.98 466.97,982.85 467.9,979.1 C468.83,975.35 469.48,969.3 470.3,969.3 C471.12,969.3 471.87,974.62 472.8,979.1 C473.73,983.58 474.88,992.62 475.9,996.2 C476.92,999.78 477.92,999.87 478.9,1000.6 C479.88,1001.33 480.78,999.7 481.8,1000.6 C482.82,1001.5 483.87,1004.28 485,1006 C486.13,1007.72 487.38,1010.3 488.6,1010.9 C489.82,1011.5 491.07,1009.2 492.3,1009.6 C493.53,1010 494.9,1011.95 496,1013.3 C497.1,1014.65 497.88,1018.1 498.9,1017.7 C499.92,1017.3 501.25,1012.37 502.1,1010.9 C502.95,1009.43 503.32,1007.68 504,1008.9 C504.68,1010.12 505.42,1014.62 506.2,1018.2 C506.98,1021.78 507.88,1027.63 508.7,1030.4 C509.52,1033.17 510.25,1035.42 511.1,1034.8 C511.95,1034.18 512.98,1028.45 513.8,1026.7 C514.62,1024.95 515.23,1023.48 516,1024.3 C516.77,1025.12 517.58,1029.15 518.4,1031.6 C519.22,1034.05 519.95,1038.38 520.9,1039 C521.85,1039.62 522.97,1037.75 524.1,1035.3 C525.23,1032.85 526.28,1027.15 527.7,1024.3 C529.12,1021.45 531.3,1018 532.6,1018.2 C533.9,1018.4 534.48,1022.45 535.5,1025.5 C536.52,1028.55 537.75,1034.25 538.7,1036.5 C539.65,1038.75 540.27,1039.62 541.2,1039 C542.13,1038.38 543.37,1033.83 544.3,1032.8 C545.23,1031.77 545.82,1032.38 546.8,1032.8 C547.78,1033.22 548.98,1034.27 550.2,1035.3 C551.42,1036.33 552.88,1037.58 554.1,1039 C555.32,1040.42 556.93,1043 557.5,1043.8" fill="none" stroke="#C8009B" stroke-width="2.2" stroke-linejoin="round" stroke-linecap="round"/>
<path d="M108.6,1078.09 L109.3,1078.05 L110,1078.01 L110.7,1077.96 L111.4,1077.92 L112.1,1077.87 L112.8,1077.83 L113.5,1077.78 L114.2,1077.85 L114.9,1077.79 L115.6,1077.74 L116.3,1077.68 L117,1077.62 L117.7,1077.56 L118.4,1077.5 L119.1,1077.44 L119.8,1077.38 L120.5,1077.31 L121.2,1077.24 L121.9,1077.18 L122.6,1077.1 L123.3,1077.03 L124,1076.96 L124.7,1076.88 L125.4,1076.8 L126.1,1076.72 L126.8,1076.64 L127.5,1076.55 L128.2,1076.47 L128.9,1076.38 L129.6,1076.29 L130.3,1076.19 L131,1076.1 L131.7,1076 L132.4,1075.9 L133.1,1075.79 L133.8,1075.69 L134.5,1075.58 L135.2,1075.47 L135.9,1075.35 L136.6,1075.24 L137.3,1075.11 L138,1074.99 L138.7,1074.87 L139.4,1074.74 L140.1,1074.6 L140.8,1074.47 L141.5,1074.33 L142.2,1074.19 L142.9,1074.04 L143.6,1073.89 L144.3,1073.74 L145,1073.58 L145.7,1073.42 L146.4,1073.26 L147.1,1073.09 L147.8,1072.92 L148.5,1072.74 L149.2,1072.56 L149.9,1072.37 L150.6,1072.19 L151.3,1071.99 L152,1071.79 L152.7,1071.59 L153.4,1071.39 L154.1,1071.18 L154.8,1070.96 L155.5,1070.74 L156.2,1070.51 L156.9,1070.28 L157.6,1070.05 L158.3,1069.81 L159,1069.56 L159.7,1069.31 L160.4,1069.05 L161.1,1068.79 L161.8,1068.52 L162.5,1068.25 L163.2,1067.97 L163.9,1067.68 L164.6,1067.39 L165.3,1067.09 L166,1066.79 L166.7,1066.48 L167.4,1066.17 L168.1,1065.84 L168.8,1065.52 L169.5,1065.18 L170.2,1064.84 L170.9,1064.49 L171.6,1064.14 L172.3,1063.77 L173,1063.4 L173.7,1063.03 L174.4,1062.65 L175.1,1062.26 L175.8,1061.86 L176.5,1061.45 L177.2,1061.04 L177.9,1060.62 L178.6,1060.2 L179.3,1059.76 L180,1059.32 L180.7,1058.87 L181.4,1058.41 L182.1,1057.94 L182.8,1057.47 L183.5,1056.99 L184.2,1056.5 L184.9,1056 L185.6,1055.49 L186.3,1054.97 L187,1054.45 L187.7,1053.92 L188.4,1053.38 L189.1,1052.83 L189.8,1052.27 L190.5,1051.7 L191.2,1051.13 L191.9,1050.54 L192.6,1049.95 L193.3,1049.35 L194,1048.74 L194.7,1048.12 L195.4,1047.49 L196.1,1046.85 L196.8,1046.2 L197.5,1045.55 L198.2,1044.88 L198.9,1044.21 L199.6,1043.53 L200.3,1042.83 L201,1042.13 L201.7,1041.42 L202.4,1040.7 L203.1,1039.97 L203.8,1039.23 L204.5,1038.48 L205.2,1037.73 L205.9,1036.96 L206.6,1036.18 L207.3,1035.4 L208,1034.6 L208.7,1033.8 L209.4,1032.99 L210.1,1032.17 L210.8,1031.34 L211.5,1030.5 L212.2,1029.65 L212.9,1028.79 L213.6,1027.93 L214.3,1027.05 L215,1026.17 L215.7,1025.28 L216.4,1024.38 L217.1,1023.47 L217.8,1022.55 L218.5,1021.62 L219.2,1020.69 L219.9,1019.74 L220.6,1018.79 L221.3,1017.83 L222,1016.87 L222.7,1015.89 L223.4,1014.91 L224.1,1013.92 L224.8,1012.92 L225.5,1011.92 L226.2,1010.91 L226.9,1009.89 L227.6,1008.86 L228.3,1007.83 L229,1006.79 L229.7,1005.75 L230.4,1004.69 L231.1,1003.64 L231.8,1002.57 L232.5,1001.5 L233.2,1000.43 L233.9,999.35 L234.6,998.26 L235.3,997.17 L236,996.07 L236.7,994.97 L237.4,993.87 L238.1,992.76 L238.8,991.64 L239.5,990.53 L240.2,989.4 L240.9,988.28 L241.6,987.15 L242.3,986.02 L243,984.89 L243.7,983.75 L244.4,982.62 L245.1,981.48 L245.8,980.33 L246.5,979.19 L247.2,978.05 L247.9,976.9 L248.6,975.76 L249.3,974.61 L250,973.47 L250.7,972.32 L251.4,971.17 L252.1,970.03 L252.8,968.89 L253.5,967.74 L254.2,966.6 L254.9,965.47 L255.6,964.33 L256.3,963.2 L257,962.06 L257.7,960.94 L258.4,959.81 L259.1,958.69 L259.8,957.58 L260.5,956.46 L261.2,955.36 L261.9,954.25 L262.6,953.16 L263.3,952.06 L264,950.98 L264.7,949.9 L265.4,948.83 L266.1,947.76 L266.8,946.7 L267.5,945.65 L268.2,944.61 L268.9,943.57 L269.6,942.54 L270.3,941.53 L271,940.52 L271.7,939.52 L272.4,938.53 L273.1,937.55 L273.8,936.58 L274.5,935.62 L275.2,934.68 L275.9,933.74 L276.6,932.82 L277.3,931.9 L278,931 L278.7,930.12 L279.4,929.24 L280.1,928.38 L280.8,927.53 L281.5,926.7 L282.2,925.88 L282.9,925.07 L283.6,924.28 L284.3,923.51 L285,922.75 L285.7,922 L286.4,921.27 L287.1,920.56 L287.8,919.86 L288.5,919.18 L289.2,918.51 L289.9,917.86 L290.6,917.23 L291.3,916.62 L292,916.02 L292.7,915.44 L293.4,914.88 L294.1,914.34 L294.8,913.81 L295.5,913.31 L296.2,912.82 L296.9,912.35 L297.6,911.9 L298.3,911.47 L299,911.06 L299.7,910.67 L300.4,910.29 L301.1,909.94 L301.8,909.61 L302.5,909.29 L303.2,909 L303.9,908.72 L304.6,908.47 L305.3,908.23 L306,908.02 L306.7,907.83 L307.4,907.65 L308.1,907.5 L308.8,907.38 L309.5,907.28 L310.2,907.2 L310.9,907.15 L311.6,907.12 L312.3,907.11 L313,907.13 L313.7,907.17 L314.4,907.24 L315.1,907.33 L315.8,907.44 L316.5,907.57 L317.2,907.73 L317.9,907.91 L318.6,908.12 L319.3,908.35 L320,908.59 L320.7,908.87 L321.4,909.16 L322.1,909.47 L322.8,909.81 L323.5,910.17 L324.2,910.54 L324.9,910.94 L325.6,911.36 L326.3,911.8 L327,912.26 L327.7,912.74 L328.4,913.23 L329.1,913.75 L329.8,914.29 L330.5,914.84 L331.2,915.41 L331.9,916 L332.6,916.6 L333.3,917.22 L334,917.86 L334.7,918.51 L335.4,919.18 L336.1,919.87 L336.8,920.57 L337.5,921.28 L338.2,922.01 L338.9,922.75 L339.6,923.51 L340.3,924.27 L341,925.06 L341.7,925.85 L342.4,926.65 L343.1,927.47 L343.8,928.29 L344.5,929.13 L345.2,929.98 L345.9,930.84 L346.6,931.7 L347.3,932.58 L348,933.46 L348.7,934.35 L349.4,935.25 L350.1,936.16 L350.8,937.07 L351.5,938 L352.2,938.92 L352.9,939.85 L353.6,940.79 L354.3,941.74 L355,942.68 L355.7,943.63 L356.4,944.59 L357.1,945.55 L357.8,946.51 L358.5,947.48 L359.2,948.44 L359.9,949.41 L360.6,950.38 L361.3,951.35 L362,952.33 L362.7,953.3 L363.4,954.28 L364.1,955.25 L364.8,956.22 L365.5,957.2 L366.2,958.17 L366.9,959.14 L367.6,960.11 L368.3,961.07 L369,962.04 L369.7,963 L370.4,963.96 L371.1,964.92 L371.8,965.87 L372.5,966.82 L373.2,967.76 L373.9,968.71 L374.6,969.64 L375.3,970.57 L376,971.5 L376.7,972.42 L377.4,973.34 L378.1,974.25 L378.8,975.16 L379.5,976.06 L380.2,976.95 L380.9,977.84 L381.6,978.72 L382.3,979.59 L383,980.46 L383.7,981.32 L384.4,982.17 L385.1,983.02 L385.8,983.86 L386.5,984.69 L387.2,985.51 L387.9,986.32 L388.6,987.13 L389.3,987.93 L390,988.72 L390.7,989.5 L391.4,990.28 L392.1,991.04 L392.8,991.8 L393.5,992.54 L394.2,993.28 L394.9,994.01 L395.6,994.73 L396.3,995.44 L397,996.15 L397.7,996.84 L398.4,997.53 L399.1,998.2 L399.8,998.87 L400.5,999.53 L401.2,1000.17 L401.9,1000.81 L402.6,1001.44 L403.3,1002.06 L404,1002.67 L404.7,1003.27 L405.4,1003.87 L406.1,1004.45 L406.8,1005.02 L407.5,1005.59 L408.2,1006.14 L408.9,1006.69 L409.6,1007.23 L410.3,1007.76 L411,1008.27 L411.7,1008.79 L412.4,1009.29 L413.1,1009.78 L413.8,1010.26 L414.5,1010.74 L415.2,1011.2 L415.9,1011.66 L416.6,1012.11 L417.3,1012.55 L418,1012.98 L418.7,1013.41 L419.4,1013.82 L420.1,1014.23 L420.8,1014.63 L421.5,1015.02 L422.2,1015.4 L422.9,1015.78 L423.6,1016.14 L424.3,1016.5 L425,1016.85 L425.7,1017.2 L426.4,1017.54 L427.1,1017.86 L427.8,1018.19 L428.5,1018.5 L429.2,1018.81 L429.9,1019.11 L430.6,1019.41 L431.3,1019.69 L432,1019.97 L432.7,1020.25 L433.4,1020.52 L434.1,1020.78 L434.8,1021.03 L435.5,1021.28 L436.2,1021.52 L436.9,1021.76 L437.6,1021.99 L438.3,1022.22 L439,1022.44 L439.7,1022.65 L440.4,1022.86 L441.1,1023.06 L441.8,1023.26 L442.5,1023.45 L443.2,1023.64 L443.9,1023.83 L444.6,1024 L445.3,1024.18 L446,1024.35 L446.7,1024.51 L447.4,1024.67 L448.1,1024.82 L448.8,1024.98 L449.5,1025.12 L450.2,1025.27 L450.9,1025.4 L451.6,1025.54 L452.3,1025.67 L453,1025.8 L453.7,1025.92 L454.4,1026.04 L455.1,1026.16 L455.8,1026.27 L456.5,1026.38 L457.2,1026.49 L457.9,1026.59 L458.6,1026.69 L459.3,1026.79 L460,1026.88 L460.7,1026.98 L461.4,1027.06 L462.1,1027.15 L462.8,1027.23 L463.5,1027.32 L464.2,1027.39 L464.9,1027.47 L465.6,1027.54 L466.3,1027.62 L467,1027.69 L467.7,1027.75 L468.4,1027.82 L469.1,1027.88 L469.8,1027.94 L470.5,1028 L471.2,1028.06 L471.9,1028.12 L472.6,1028.17 L473.3,1028.22 L474,1028.27 L474.7,1028.32 L475.4,1028.37 L476.1,1028.41 L476.8,1028.46 L477.5,1028.5 L478.2,1028.54 L478.9,1028.58 L479.6,1028.62 L480.3,1028.66 L481,1028.7 L481.7,1028.73 L482.4,1028.77 L483.1,1028.8 L483.8,1028.83 L484.5,1028.86 L485.2,1028.9 L485.9,1028.92 L486.6,1028.95 L487.3,1028.98 L488,1029.01 L488.7,1029.03 L489.4,1029.06 L490.1,1029.08 L490.8,1029.11 L491.5,1029.13 L492.2,1029.15 L492.9,1029.18 L493.6,1029.2 L494.3,1029.22 L495,1029.24 L495.7,1029.26 L496.4,1029.28 L497.1,1029.29 L497.8,1029.31 L498.5,1029.33 L499.2,1029.35 L499.9,1029.36 L500.6,1029.38 L501.3,1029.4 L502,1029.41 L502.7,1029.43 L503.4,1029.44 L504.1,1029.46 L504.8,1029.47 L505.5,1029.48 L506.2,1029.5 L506.9,1029.51 L507.6,1029.52 L508.3,1029.54 L509,1029.55 L509.7,1029.56 L510.4,1029.57 L511.1,1029.58 L511.8,1029.6 L512.5,1029.61 L513.2,1029.62 L513.9,1029.63 L514.6,1029.64 L515.3,1029.65 L516,1029.66 L516.7,1029.67 L517.4,1029.68 L518.1,1029.69 L518.8,1029.7 L519.5,1029.71 L520.2,1029.72 L520.9,1029.73 L521.6,1029.74 L522.3,1029.75 L523,1029.76 L523.7,1029.77 L524.4,1029.78 L525.1,1029.78 L525.8,1029.79 L526.5,1029.8 L527.2,1029.81 L527.9,1029.82 L528.6,1029.83 L529.3,1029.84 L530,1029.84 L530.7,1029.85 L531.4,1029.86 L532.1,1029.87 L532.8,1029.88 L533.5,1029.89 L534.2,1029.89 L534.9,1029.9 L535.6,1029.91 L536.3,1029.92 L537,1029.92 L537.7,1029.93 L538.4,1029.94 L539.1,1029.95 L539.8,1029.95 L540.5,1029.96 L541.2,1029.97 L541.9,1029.98 L542.6,1029.98 L543.3,1029.99 L544,1030 L544.7,1030.01 L545.4,1030.01 L546.1,1030.02 L546.8,1030.03 L547.5,1030.04 L548.2,1030.04 L548.9,1030.05 L549.6,1030.06 L550.3,1030.06 L551,1030.07 L551.7,1030.08 L552.4,1030.09 L553.1,1030.09 L553.8,1030.1 L554.5,1030.11 L555.2,1030.11 L555.9,1030.12 L556.6,1030.13 L557.3,1030.13 L558,1029.49" fill="none" stroke="#FDB812" stroke-width="2.2" stroke-linejoin="round" stroke-linecap="round"/>
<path d="M108.6,1079.86 L109.3,1079.86 L110,1079.86 L110.7,1079.85 L111.4,1079.85 L112.1,1079.85 L112.8,1079.84 L113.5,1079.84 L114.2,1079.85 L114.9,1079.85 L115.6,1079.84 L116.3,1079.84 L117,1079.84 L117.7,1079.83 L118.4,1079.83 L119.1,1079.83 L119.8,1079.82 L120.5,1079.82 L121.2,1079.82 L121.9,1079.81 L122.6,1079.81 L123.3,1079.8 L124,1079.8 L124.7,1079.8 L125.4,1079.79 L126.1,1079.79 L126.8,1079.78 L127.5,1079.78 L128.2,1079.78 L128.9,1079.77 L129.6,1079.77 L130.3,1078.85 L131,1078.86 L131.7,1078.86 L132.4,1078.87 L133.1,1078.87 L133.8,1078.88 L134.5,1078.88 L135.2,1078.89 L135.9,1078.89 L136.6,1078.89 L137.3,1078.9 L138,1078.9 L138.7,1078.91 L139.4,1078.91 L140.1,1078.91 L140.8,1078.91 L141.5,1078.92 L142.2,1078.92 L142.9,1078.92 L143.6,1078.92 L144.3,1078.93 L145,1078.93 L145.7,1078.93 L146.4,1078.93 L147.1,1078.93 L147.8,1078.93 L148.5,1078.93 L149.2,1078.93 L149.9,1078.93 L150.6,1078.93 L151.3,1078.93 L152,1078.93 L152.7,1078.93 L153.4,1078.93 L154.1,1078.92 L154.8,1078.92 L155.5,1078.92 L156.2,1078.92 L156.9,1078.91 L157.6,1078.91 L158.3,1078.9 L159,1078.9 L159.7,1078.9 L160.4,1078.89 L161.1,1078.89 L161.8,1078.88 L162.5,1078.87 L163.2,1078.87 L163.9,1078.86 L164.6,1078.85 L165.3,1078.84 L166,1078.84 L166.7,1078.83 L167.4,1078.82 L168.1,1078.81 L168.8,1078.8 L169.5,1078.79 L170.2,1078.78 L170.9,1078.76 L171.6,1078.75 L172.3,1078.74 L173,1078.73 L173.7,1078.71 L174.4,1078.7 L175.1,1078.68 L175.8,1078.67 L176.5,1078.65 L177.2,1078.63 L177.9,1078.61 L178.6,1078.6 L179.3,1078.58 L180,1078.56 L180.7,1078.54 L181.4,1078.52 L182.1,1078.49 L182.8,1078.47 L183.5,1078.45 L184.2,1078.42 L184.9,1078.4 L185.6,1078.37 L186.3,1078.35 L187,1078.32 L187.7,1078.29 L188.4,1078.26 L189.1,1078.23 L189.8,1078.2 L190.5,1078.17 L191.2,1078.13 L191.9,1078.1 L192.6,1078.06 L193.3,1078.03 L194,1077.99 L194.7,1077.95 L195.4,1077.91 L196.1,1077.87 L196.8,1077.83 L197.5,1077.79 L198.2,1077.74 L198.9,1077.7 L199.6,1077.65 L200.3,1077.6 L201,1077.56 L201.7,1077.5 L202.4,1077.45 L203.1,1077.4 L203.8,1077.35 L204.5,1077.29 L205.2,1077.23 L205.9,1077.17 L206.6,1077.11 L207.3,1077.05 L208,1076.99 L208.7,1076.92 L209.4,1076.86 L210.1,1076.79 L210.8,1076.72 L211.5,1076.65 L212.2,1076.57 L212.9,1076.5 L213.6,1076.42 L214.3,1076.34 L215,1076.26 L215.7,1076.18 L216.4,1076.1 L217.1,1076.01 L217.8,1075.92 L218.5,1075.83 L219.2,1075.74 L219.9,1075.64 L220.6,1075.55 L221.3,1075.45 L222,1075.35 L222.7,1075.25 L223.4,1075.14 L224.1,1075.03 L224.8,1074.92 L225.5,1074.81 L226.2,1074.7 L226.9,1074.58 L227.6,1074.46 L228.3,1074.34 L229,1074.21 L229.7,1074.08 L230.4,1073.95 L231.1,1073.82 L231.8,1073.69 L232.5,1073.55 L233.2,1073.41 L233.9,1073.26 L234.6,1073.11 L235.3,1072.96 L236,1072.81 L236.7,1072.66 L237.4,1072.5 L238.1,1072.33 L238.8,1072.17 L239.5,1072 L240.2,1071.83 L240.9,1071.65 L241.6,1071.48 L242.3,1071.29 L243,1071.11 L243.7,1070.92 L244.4,1070.73 L245.1,1070.53 L245.8,1070.33 L246.5,1070.13 L247.2,1069.92 L247.9,1069.71 L248.6,1069.5 L249.3,1069.28 L250,1069.06 L250.7,1068.83 L251.4,1068.6 L252.1,1068.36 L252.8,1068.13 L253.5,1067.88 L254.2,1067.64 L254.9,1067.38 L255.6,1067.13 L256.3,1066.87 L257,1066.6 L257.7,1066.33 L258.4,1066.06 L259.1,1065.78 L259.8,1065.5 L260.5,1065.21 L261.2,1064.92 L261.9,1064.62 L262.6,1064.32 L263.3,1064.02 L264,1063.7 L264.7,1063.39 L265.4,1063.07 L266.1,1062.74 L266.8,1062.41 L267.5,1062.07 L268.2,1061.73 L268.9,1061.38 L269.6,1061.03 L270.3,1060.67 L271,1060.31 L271.7,1059.94 L272.4,1059.56 L273.1,1059.18 L273.8,1058.8 L274.5,1058.41 L275.2,1058.01 L275.9,1057.61 L276.6,1057.2 L277.3,1056.79 L278,1056.37 L278.7,1055.94 L279.4,1055.51 L280.1,1055.07 L280.8,1054.63 L281.5,1054.18 L282.2,1053.73 L282.9,1053.26 L283.6,1052.8 L284.3,1052.32 L285,1051.84 L285.7,1051.36 L286.4,1050.87 L287.1,1050.37 L287.8,1049.87 L288.5,1049.35 L289.2,1048.84 L289.9,1048.32 L290.6,1047.79 L291.3,1047.25 L292,1046.71 L292.7,1046.16 L293.4,1045.61 L294.1,1045.05 L294.8,1044.48 L295.5,1043.91 L296.2,1043.33 L296.9,1042.74 L297.6,1042.15 L298.3,1041.56 L299,1040.95 L299.7,1040.34 L300.4,1039.73 L301.1,1039.1 L301.8,1038.47 L302.5,1037.84 L303.2,1037.2 L303.9,1036.55 L304.6,1035.9 L305.3,1035.24 L306,1034.58 L306.7,1033.91 L307.4,1033.23 L308.1,1032.55 L308.8,1031.86 L309.5,1031.17 L310.2,1030.47 L310.9,1029.77 L311.6,1029.06 L312.3,1028.35 L313,1027.63 L313.7,1026.9 L314.4,1026.17 L315.1,1025.44 L315.8,1024.7 L316.5,1023.95 L317.2,1023.2 L317.9,1022.45 L318.6,1021.69 L319.3,1020.93 L320,1020.16 L320.7,1019.39 L321.4,1018.62 L322.1,1017.84 L322.8,1017.06 L323.5,1016.27 L324.2,1015.48 L324.9,1014.69 L325.6,1013.9 L326.3,1013.1 L327,1012.29 L327.7,1011.49 L328.4,1010.68 L329.1,1009.87 L329.8,1009.06 L330.5,1008.25 L331.2,1007.43 L331.9,1006.62 L332.6,1005.8 L333.3,1004.98 L334,1004.16 L334.7,1003.33 L335.4,1002.51 L336.1,1001.69 L336.8,1000.86 L337.5,1000.04 L338.2,999.22 L338.9,998.39 L339.6,997.57 L340.3,996.75 L341,995.93 L341.7,995.11 L342.4,994.29 L343.1,993.47 L343.8,992.65 L344.5,991.84 L345.2,991.03 L345.9,990.22 L346.6,989.41 L347.3,988.61 L348,987.81 L348.7,987.02 L349.4,986.22 L350.1,985.43 L350.8,984.65 L351.5,983.87 L352.2,983.09 L352.9,982.32 L353.6,981.56 L354.3,980.8 L355,980.05 L355.7,979.3 L356.4,978.56 L357.1,977.82 L357.8,977.1 L358.5,976.38 L359.2,975.66 L359.9,974.96 L360.6,974.26 L361.3,973.57 L362,972.89 L362.7,972.21 L363.4,971.55 L364.1,970.9 L364.8,970.25 L365.5,969.62 L366.2,968.99 L366.9,968.37 L367.6,967.77 L368.3,967.17 L369,966.59 L369.7,966.02 L370.4,965.46 L371.1,964.91 L371.8,964.37 L372.5,963.84 L373.2,963.33 L373.9,962.83 L374.6,962.34 L375.3,961.87 L376,961.4 L376.7,960.95 L377.4,960.52 L378.1,960.1 L378.8,959.69 L379.5,959.29 L380.2,958.91 L380.9,958.55 L381.6,958.2 L382.3,957.86 L383,957.54 L383.7,957.23 L384.4,956.94 L385.1,956.66 L385.8,956.4 L386.5,956.15 L387.2,955.92 L387.9,955.7 L388.6,955.5 L389.3,955.31 L390,955.14 L390.7,954.99 L391.4,954.85 L392.1,954.73 L392.8,954.62 L393.5,954.53 L394.2,954.45 L394.9,954.4 L395.6,954.35 L396.3,954.33 L397,954.32 L397.7,954.33 L398.4,954.35 L399.1,954.39 L399.8,954.45 L400.5,954.52 L401.2,954.6 L401.9,954.71 L402.6,954.82 L403.3,954.96 L404,955.1 L404.7,955.27 L405.4,955.44 L406.1,955.64 L406.8,955.84 L407.5,956.06 L408.2,956.3 L408.9,956.55 L409.6,956.81 L410.3,957.08 L411,957.37 L411.7,957.67 L412.4,957.99 L413.1,958.31 L413.8,958.65 L414.5,959 L415.2,959.36 L415.9,959.74 L416.6,960.12 L417.3,960.52 L418,960.92 L418.7,961.34 L419.4,961.77 L420.1,962.2 L420.8,962.65 L421.5,963.1 L422.2,963.57 L422.9,964.04 L423.6,964.52 L424.3,965.01 L425,965.51 L425.7,966.01 L426.4,966.53 L427.1,967.05 L427.8,967.57 L428.5,968.11 L429.2,968.64 L429.9,969.19 L430.6,969.74 L431.3,970.3 L432,970.86 L432.7,971.42 L433.4,971.99 L434.1,972.57 L434.8,973.15 L435.5,973.73 L436.2,974.32 L436.9,974.91 L437.6,975.5 L438.3,976.09 L439,976.69 L439.7,977.29 L440.4,977.89 L441.1,978.5 L441.8,979.1 L442.5,979.71 L443.2,980.32 L443.9,980.92 L444.6,981.53 L445.3,982.14 L446,982.75 L446.7,983.36 L447.4,983.97 L448.1,984.58 L448.8,985.18 L449.5,985.79 L450.2,986.4 L450.9,987 L451.6,987.6 L452.3,988.2 L453,988.8 L453.7,989.4 L454.4,989.99 L455.1,990.59 L455.8,991.18 L456.5,991.76 L457.2,992.35 L457.9,992.93 L458.6,993.51 L459.3,994.08 L460,994.65 L460.7,995.22 L461.4,995.78 L462.1,996.34 L462.8,996.9 L463.5,997.45 L464.2,997.99 L464.9,998.54 L465.6,999.08 L466.3,999.61 L467,1000.14 L467.7,1000.66 L468.4,1001.18 L469.1,1001.7 L469.8,1002.21 L470.5,1002.71 L471.2,1003.21 L471.9,1003.7 L472.6,1004.19 L473.3,1004.68 L474,1005.16 L474.7,1005.63 L475.4,1006.09 L476.1,1006.56 L476.8,1007.01 L477.5,1007.46 L478.2,1007.91 L478.9,1008.35 L479.6,1008.78 L480.3,1009.21 L481,1009.63 L481.7,1010.05 L482.4,1010.46 L483.1,1010.86 L483.8,1011.26 L484.5,1011.65 L485.2,1012.04 L485.9,1012.42 L486.6,1012.8 L487.3,1013.17 L488,1013.53 L488.7,1013.89 L489.4,1014.24 L490.1,1014.59 L490.8,1014.93 L491.5,1015.27 L492.2,1015.6 L492.9,1015.92 L493.6,1016.24 L494.3,1016.55 L495,1016.86 L495.7,1017.17 L496.4,1017.46 L497.1,1017.75 L497.8,1018.04 L498.5,1018.32 L499.2,1018.6 L499.9,1018.87 L500.6,1019.13 L501.3,1019.4 L502,1019.65 L502.7,1019.9 L503.4,1020.15 L504.1,1020.39 L504.8,1020.62 L505.5,1020.85 L506.2,1021.08 L506.9,1021.3 L507.6,1021.52 L508.3,1021.73 L509,1021.94 L509.7,1022.15 L510.4,1022.34 L511.1,1022.54 L511.8,1022.73 L512.5,1022.92 L513.2,1023.1 L513.9,1023.28 L514.6,1023.45 L515.3,1023.63 L516,1023.79 L516.7,1023.96 L517.4,1024.12 L518.1,1024.27 L518.8,1024.42 L519.5,1024.57 L520.2,1024.72 L520.9,1024.86 L521.6,1025 L522.3,1025.13 L523,1025.27 L523.7,1025.4 L524.4,1025.52 L525.1,1025.65 L525.8,1025.77 L526.5,1025.88 L527.2,1026 L527.9,1026.11 L528.6,1026.22 L529.3,1026.32 L530,1026.43 L530.7,1026.53 L531.4,1026.63 L532.1,1026.72 L532.8,1026.82 L533.5,1026.91 L534.2,1027 L534.9,1027.09 L535.6,1027.17 L536.3,1027.25 L537,1027.33 L537.7,1027.41 L538.4,1027.49 L539.1,1027.56 L539.8,1027.64 L540.5,1027.71 L541.2,1027.78 L541.9,1027.85 L542.6,1027.91 L543.3,1027.98 L544,1028.04 L544.7,1028.1 L545.4,1028.16 L546.1,1028.22 L546.8,1028.28 L547.5,1028.33 L548.2,1028.38 L548.9,1028.44 L549.6,1028.49 L550.3,1028.54 L551,1028.59 L551.7,1028.64 L552.4,1028.68 L553.1,1028.73 L553.8,1028.77 L554.5,1028.82 L555.2,1028.86 L555.9,1028.9 L556.6,1028.94 L557.3,1028.98 L558,1028.49" fill="none" stroke="#66F23A" stroke-width="2.2" stroke-linejoin="round" stroke-linecap="round"/>
<path d="M108.6,1114.4 L108.6,1079.2 L108.6,1080.35 L109.3,1080.35 L110,1080.35 L110.7,1080.35 L111.4,1080.35 L112.1,1080.35 L112.8,1080.35 L113.5,1080.35 L114.2,1080.36 L114.9,1080.36 L115.6,1080.36 L116.3,1080.35 L117,1080.35 L117.7,1080.35 L118.4,1080.35 L119.1,1080.35 L119.8,1080.35 L120.5,1080.35 L121.2,1080.35 L121.9,1080.35 L122.6,1080.35 L123.3,1080.34 L124,1080.34 L124.7,1080.34 L125.4,1080.34 L126.1,1080.34 L126.8,1080.34 L127.5,1080.34 L128.2,1080.33 L128.9,1080.33 L129.6,1080.33 L130.3,1080.33 L131,1080.33 L131.7,1080.33 L132.4,1080.32 L133.1,1080.32 L133.8,1080.32 L134.5,1080.32 L135.2,1080.32 L135.9,1080.31 L136.6,1080.31 L137.3,1080.31 L138,1080.31 L138.7,1080.3 L139.4,1080.3 L140.1,1080.3 L140.8,1080.29 L141.5,1080.29 L142.2,1080.29 L142.9,1080.28 L143.6,1080.28 L144.3,1080.28 L145,1080.27 L145.7,1080.27 L146.4,1080.26 L147.1,1080.26 L147.8,1080.26 L148.5,1080.25 L149.2,1080.25 L149.9,1080.24 L150.6,1080.24 L151.3,1080.23 L152,1080.23 L152.7,1080.22 L153.4,1080.21 L154.1,1080.21 L154.8,1080.2 L155.5,1080.2 L156.2,1080.19 L156.9,1080.18 L157.6,1080.18 L158.3,1080.17 L159,1080.16 L159.7,1080.15 L160.4,1080.15 L161.1,1080.14 L161.8,1080.13 L162.5,1080.12 L163.2,1080.11 L163.9,1080.1 L164.6,1080.09 L165.3,1080.08 L166,1080.07 L166.7,1080.06 L167.4,1080.05 L168.1,1080.04 L168.8,1080.03 L169.5,1080.01 L170.2,1080 L170.9,1079.99 L171.6,1079.97 L172.3,1079.96 L173,1079.95 L173.7,1079.93 L174.4,1079.92 L175.1,1079.9 L175.8,1079.89 L176.5,1079.87 L177.2,1079.85 L177.9,1079.84 L178.6,1079.82 L179.3,1079.8 L180,1079.78 L180.7,1079.76 L181.4,1079.74 L182.1,1079.72 L182.8,1079.7 L183.5,1079.68 L184.2,1079.66 L184.9,1079.64 L185.6,1079.61 L186.3,1079.59 L187,1079.57 L187.7,1079.54 L188.4,1079.52 L189.1,1079.49 L189.8,1079.46 L190.5,1079.43 L191.2,1079.41 L191.9,1079.38 L192.6,1079.35 L193.3,1079.32 L194,1079.29 L194.7,1079.25 L195.4,1079.22 L196.1,1079.19 L196.8,1079.15 L197.5,1079.12 L198.2,1079.08 L198.9,1079.05 L199.6,1079.01 L200.3,1078.97 L201,1078.93 L201.7,1078.89 L202.4,1078.85 L203.1,1078.81 L203.8,1078.76 L204.5,1078.72 L205.2,1078.68 L205.9,1078.63 L206.6,1078.58 L207.3,1078.53 L208,1078.49 L208.7,1078.44 L209.4,1078.39 L210.1,1078.33 L210.8,1078.28 L211.5,1078.23 L212.2,1078.17 L212.9,1078.12 L213.6,1078.06 L214.3,1078 L215,1077.94 L215.7,1077.88 L216.4,1077.82 L217.1,1077.75 L217.8,1077.69 L218.5,1077.63 L219.2,1077.56 L219.9,1077.49 L220.6,1077.42 L221.3,1077.35 L222,1077.28 L222.7,1077.21 L223.4,1077.14 L224.1,1077.06 L224.8,1076.98 L225.5,1076.91 L226.2,1076.83 L226.9,1076.75 L227.6,1076.67 L228.3,1076.58 L229,1076.5 L229.7,1076.41 L230.4,1076.33 L231.1,1076.24 L231.8,1076.15 L232.5,1076.06 L233.2,1075.97 L233.9,1075.87 L234.6,1075.78 L235.3,1075.68 L236,1075.59 L236.7,1075.49 L237.4,1075.39 L238.1,1075.29 L238.8,1075.18 L239.5,1075.08 L240.2,1074.98 L240.9,1074.87 L241.6,1074.76 L242.3,1074.65 L243,1074.54 L243.7,1074.43 L244.4,1074.31 L245.1,1074.2 L245.8,1074.08 L246.5,1073.97 L247.2,1073.85 L247.9,1073.73 L248.6,1073.61 L249.3,1073.48 L250,1073.36 L250.7,1073.23 L251.4,1073.11 L252.1,1072.98 L252.8,1072.85 L253.5,1072.72 L254.2,1072.59 L254.9,1072.45 L255.6,1072.32 L256.3,1072.18 L257,1072.05 L257.7,1071.91 L258.4,1071.77 L259.1,1071.63 L259.8,1071.49 L260.5,1071.34 L261.2,1071.2 L261.9,1071.06 L262.6,1070.91 L263.3,1070.76 L264,1070.61 L264.7,1070.46 L265.4,1070.31 L266.1,1070.16 L266.8,1070.01 L267.5,1069.85 L268.2,1069.7 L268.9,1069.54 L269.6,1069.39 L270.3,1069.23 L271,1069.07 L271.7,1068.91 L272.4,1068.75 L273.1,1068.59 L273.8,1068.43 L274.5,1068.26 L275.2,1068.1 L275.9,1067.93 L276.6,1067.77 L277.3,1067.6 L278,1067.43 L278.7,1067.27 L279.4,1067.1 L280.1,1066.93 L280.8,1066.76 L281.5,1066.59 L282.2,1066.42 L282.9,1066.24 L283.6,1066.07 L284.3,1065.9 L285,1065.72 L285.7,1065.55 L286.4,1065.38 L287.1,1065.2 L287.8,1065.02 L288.5,1064.85 L289.2,1064.67 L289.9,1064.49 L290.6,1064.32 L291.3,1064.14 L292,1063.96 L292.7,1063.78 L293.4,1063.6 L294.1,1063.43 L294.8,1063.25 L295.5,1063.07 L296.2,1062.89 L296.9,1062.71 L297.6,1062.53 L298.3,1062.35 L299,1062.17 L299.7,1061.98 L300.4,1061.8 L301.1,1061.62 L301.8,1061.44 L302.5,1061.26 L303.2,1061.08 L303.9,1060.9 L304.6,1060.72 L305.3,1060.54 L306,1060.36 L306.7,1060.17 L307.4,1059.99 L308.1,1059.81 L308.8,1059.63 L309.5,1059.45 L310.2,1059.27 L310.9,1059.09 L311.6,1058.91 L312.3,1058.73 L313,1058.55 L313.7,1058.37 L314.4,1058.19 L315.1,1058.01 L315.8,1057.83 L316.5,1057.65 L317.2,1057.47 L317.9,1057.3 L318.6,1057.12 L319.3,1056.94 L320,1056.76 L320.7,1056.59 L321.4,1056.41 L322.1,1056.23 L322.8,1056.06 L323.5,1055.88 L324.2,1055.7 L324.9,1055.53 L325.6,1055.35 L326.3,1055.18 L327,1055.01 L327.7,1054.83 L328.4,1054.66 L329.1,1054.49 L329.8,1054.31 L330.5,1054.14 L331.2,1053.97 L331.9,1053.8 L332.6,1053.63 L333.3,1053.46 L334,1053.29 L334.7,1053.12 L335.4,1052.95 L336.1,1052.78 L336.8,1052.61 L337.5,1052.44 L338.2,1052.27 L338.9,1052.11 L339.6,1051.94 L340.3,1051.78 L341,1051.61 L341.7,1051.44 L342.4,1051.28 L343.1,1051.12 L343.8,1050.95 L344.5,1050.79 L345.2,1050.62 L345.9,1050.46 L346.6,1050.3 L347.3,1050.14 L348,1049.98 L348.7,1049.82 L349.4,1049.66 L350.1,1049.5 L350.8,1049.34 L351.5,1049.18 L352.2,1049.02 L352.9,1048.86 L353.6,1048.7 L354.3,1048.55 L355,1048.39 L355.7,1048.23 L356.4,1048.08 L357.1,1047.92 L357.8,1047.77 L358.5,1047.61 L359.2,1047.46 L359.9,1047.31 L360.6,1047.15 L361.3,1047 L362,1046.85 L362.7,1046.7 L363.4,1046.55 L364.1,1046.4 L364.8,1046.25 L365.5,1046.1 L366.2,1045.95 L366.9,1045.8 L367.6,1045.65 L368.3,1045.5 L369,1045.36 L369.7,1045.21 L370.4,1045.06 L371.1,1044.92 L371.8,1044.77 L372.5,1044.63 L373.2,1044.48 L373.9,1044.34 L374.6,1044.2 L375.3,1044.05 L376,1043.91 L376.7,1043.77 L377.4,1043.63 L378.1,1043.49 L378.8,1043.35 L379.5,1043.21 L380.2,1043.07 L380.9,1042.93 L381.6,1042.79 L382.3,1042.65 L383,1042.51 L383.7,1042.38 L384.4,1042.24 L385.1,1042.11 L385.8,1041.97 L386.5,1041.84 L387.2,1041.7 L387.9,1041.57 L388.6,1041.44 L389.3,1041.31 L390,1041.17 L390.7,1041.04 L391.4,1040.91 L392.1,1040.78 L392.8,1040.65 L393.5,1040.53 L394.2,1040.4 L394.9,1040.27 L395.6,1040.15 L396.3,1040.02 L397,1039.89 L397.7,1039.77 L398.4,1039.65 L399.1,1039.52 L399.8,1039.4 L400.5,1039.28 L401.2,1039.16 L401.9,1039.04 L402.6,1038.92 L403.3,1038.8 L404,1038.68 L404.7,1038.57 L405.4,1038.45 L406.1,1038.34 L406.8,1038.22 L407.5,1038.11 L408.2,1037.99 L408.9,1037.88 L409.6,1037.77 L410.3,1037.66 L411,1037.55 L411.7,1037.44 L412.4,1037.33 L413.1,1037.22 L413.8,1037.12 L414.5,1037.01 L415.2,1036.91 L415.9,1036.8 L416.6,1036.7 L417.3,1036.6 L418,1036.5 L418.7,1036.4 L419.4,1036.3 L420.1,1036.2 L420.8,1036.1 L421.5,1036 L422.2,1035.91 L422.9,1035.81 L423.6,1035.72 L424.3,1035.63 L425,1035.54 L425.7,1035.44 L426.4,1035.35 L427.1,1035.26 L427.8,1035.18 L428.5,1035.09 L429.2,1035 L429.9,1034.92 L430.6,1034.83 L431.3,1034.75 L432,1034.67 L432.7,1034.58 L433.4,1034.5 L434.1,1034.42 L434.8,1034.34 L435.5,1034.27 L436.2,1034.19 L436.9,1034.11 L437.6,1034.04 L438.3,1033.97 L439,1033.89 L439.7,1033.82 L440.4,1033.75 L441.1,1033.68 L441.8,1033.61 L442.5,1033.54 L443.2,1033.47 L443.9,1033.41 L444.6,1033.34 L445.3,1033.28 L446,1033.21 L446.7,1033.15 L447.4,1033.09 L448.1,1033.03 L448.8,1032.97 L449.5,1032.91 L450.2,1032.85 L450.9,1032.8 L451.6,1032.74 L452.3,1032.68 L453,1032.63 L453.7,1032.58 L454.4,1032.52 L455.1,1032.47 L455.8,1032.42 L456.5,1032.37 L457.2,1032.32 L457.9,1032.27 L458.6,1032.23 L459.3,1032.18 L460,1032.13 L460.7,1032.09 L461.4,1032.04 L462.1,1032 L462.8,1031.96 L463.5,1031.92 L464.2,1031.88 L464.9,1031.83 L465.6,1031.8 L466.3,1031.76 L467,1031.72 L467.7,1031.68 L468.4,1031.65 L469.1,1031.61 L469.8,1031.57 L470.5,1031.54 L471.2,1031.51 L471.9,1031.47 L472.6,1031.44 L473.3,1031.41 L474,1031.38 L474.7,1031.35 L475.4,1031.32 L476.1,1031.29 L476.8,1031.26 L477.5,1031.24 L478.2,1031.21 L478.9,1031.18 L479.6,1031.16 L480.3,1031.13 L481,1031.11 L481.7,1031.08 L482.4,1031.06 L483.1,1031.04 L483.8,1031.01 L484.5,1030.99 L485.2,1030.97 L485.9,1030.95 L486.6,1030.93 L487.3,1030.91 L488,1030.89 L488.7,1030.87 L489.4,1030.85 L490.1,1030.83 L490.8,1030.82 L491.5,1030.8 L492.2,1030.78 L492.9,1030.77 L493.6,1030.75 L494.3,1030.74 L495,1030.72 L495.7,1030.71 L496.4,1030.69 L497.1,1030.68 L497.8,1030.67 L498.5,1030.65 L499.2,1030.64 L499.9,1030.63 L500.6,1030.62 L501.3,1030.6 L502,1030.59 L502.7,1030.58 L503.4,1030.57 L504.1,1030.56 L504.8,1030.55 L505.5,1030.54 L506.2,1030.53 L506.9,1030.52 L507.6,1030.51 L508.3,1030.51 L509,1030.5 L509.7,1030.49 L510.4,1030.48 L511.1,1030.47 L511.8,1030.47 L512.5,1030.46 L513.2,1030.45 L513.9,1030.45 L514.6,1030.44 L515.3,1030.43 L516,1030.43 L516.7,1030.42 L517.4,1030.42 L518.1,1030.41 L518.8,1030.41 L519.5,1030.4 L520.2,1030.4 L520.9,1030.39 L521.6,1030.39 L522.3,1030.38 L523,1030.38 L523.7,1030.37 L524.4,1030.37 L525.1,1030.37 L525.8,1030.36 L526.5,1030.36 L527.2,1030.35 L527.9,1030.35 L528.6,1030.35 L529.3,1030.34 L530,1030.34 L530.7,1030.34 L531.4,1030.34 L532.1,1030.33 L532.8,1030.33 L533.5,1030.33 L534.2,1030.33 L534.9,1030.32 L535.6,1030.32 L536.3,1030.32 L537,1030.32 L537.7,1030.32 L538.4,1030.31 L539.1,1030.31 L539.8,1030.31 L540.5,1030.31 L541.2,1030.31 L541.9,1030.31 L542.6,1030.3 L543.3,1030.3 L544,1030.3 L544.7,1030.3 L545.4,1030.3 L546.1,1030.3 L546.8,1030.3 L547.5,1030.3 L548.2,1030.3 L548.9,1030.29 L549.6,1030.29 L550.3,1030.29 L551,1030.29 L551.7,1030.29 L552.4,1030.29 L553.1,1030.29 L553.8,1030.29 L554.5,1030.29 L555.2,1030.29 L555.9,1030.29 L556.6,1030.29 L557.3,1030.29 L558,1030.27" fill="none" stroke="#EE1515" stroke-width="2.4" stroke-linejoin="round" stroke-linecap="round"/>
<text x="63.92" y="1118.06" font-size="13.8" font-weight="bold" fill="#1a1a1a" stroke="#1a1a1a" stroke-width="0.4" textLength="19.95" lengthAdjust="spacingAndGlyphs">1.7</text>
<text x="63.78" y="1040.41" font-size="13.8" font-weight="bold" fill="#1a1a1a" stroke="#1a1a1a" stroke-width="0.4" textLength="19.95" lengthAdjust="spacingAndGlyphs">2.1</text>
<text x="63.78" y="962.76" font-size="13.8" font-weight="bold" fill="#1a1a1a" stroke="#1a1a1a" stroke-width="0.4" textLength="19.95" lengthAdjust="spacingAndGlyphs">2.5</text>
<text x="63.92" y="885.11" font-size="13.8" font-weight="bold" fill="#1a1a1a" stroke="#1a1a1a" stroke-width="0.4" textLength="19.95" lengthAdjust="spacingAndGlyphs">2.9</text>
<text x="63.92" y="807.46" font-size="13.8" font-weight="bold" fill="#1a1a1a" stroke="#1a1a1a" stroke-width="0.4" textLength="19.95" lengthAdjust="spacingAndGlyphs">3.3</text>
<text x="86.42" y="1137.96" font-size="13.8" font-weight="bold" fill="#1a1a1a" stroke="#1a1a1a" stroke-width="0.4" textLength="23.95" lengthAdjust="spacingAndGlyphs">528</text>
<text x="201.39" y="1137.96" font-size="13.8" font-weight="bold" fill="#1a1a1a" stroke="#1a1a1a" stroke-width="0.4" textLength="23.95" lengthAdjust="spacingAndGlyphs">530</text>
<text x="316.29" y="1137.96" font-size="13.8" font-weight="bold" fill="#1a1a1a" stroke="#1a1a1a" stroke-width="0.4" textLength="23.95" lengthAdjust="spacingAndGlyphs">532</text>
<text x="430.97" y="1137.96" font-size="13.8" font-weight="bold" fill="#1a1a1a" stroke="#1a1a1a" stroke-width="0.4" textLength="23.95" lengthAdjust="spacingAndGlyphs">534</text>
<text x="546.09" y="1137.96" font-size="13.8" font-weight="bold" fill="#1a1a1a" stroke="#1a1a1a" stroke-width="0.4" textLength="23.95" lengthAdjust="spacingAndGlyphs">536</text>
<text x="-0.39" y="809.19" font-size="16.7" font-weight="bold" fill="#1a1a1a" stroke="#1a1a1a" stroke-width="0.4" textLength="18.17" lengthAdjust="spacingAndGlyphs">[c]</text>
<text x="36.65" y="848.54" font-size="14.79" font-weight="bold" fill="#1a1a1a" stroke="#1a1a1a" stroke-width="0.4" textLength="42.98" lengthAdjust="spacingAndGlyphs" transform="rotate(-90 36.65 848.54)">x 1000</text>
<text x="33.84" y="1004.43" font-size="15.83" font-weight="bold" fill="#1a1a1a" stroke="#1a1a1a" stroke-width="0.4" textLength="67.33" lengthAdjust="spacingAndGlyphs" transform="rotate(-90 33.84 1004.43)">Counts/s</text>
<text x="248.53" y="1176.5" font-size="16.67" font-weight="bold" fill="#1a1a1a" stroke="#1a1a1a" stroke-width="0.4" textLength="165.02" lengthAdjust="spacingAndGlyphs">Binding Energy (E, eV)</text>
<line x1="100.3" y1="1197.5" x2="100.3" y2="1521" stroke="#2a2a2a" stroke-width="1.9"/>
<line x1="95.3" y1="1516.4" x2="100.3" y2="1516.4" stroke="#1e1e1e" stroke-width="1.6"/>
<line x1="95.3" y1="1436.85" x2="100.3" y2="1436.85" stroke="#1e1e1e" stroke-width="1.6"/>
<line x1="95.3" y1="1357.3" x2="100.3" y2="1357.3" stroke="#1e1e1e" stroke-width="1.6"/>
<line x1="95.3" y1="1277.75" x2="100.3" y2="1277.75" stroke="#1e1e1e" stroke-width="1.6"/>
<line x1="95.3" y1="1198.2" x2="100.3" y2="1198.2" stroke="#1e1e1e" stroke-width="1.6"/>
<line x1="95.3" y1="1516.4" x2="562" y2="1516.4" stroke="#1e1e1e" stroke-width="1.6"/>
<line x1="100.3" y1="1516.4" x2="100.3" y2="1521" stroke="#1e1e1e" stroke-width="1.6"/>
<line x1="192.5" y1="1516.4" x2="192.5" y2="1521" stroke="#1e1e1e" stroke-width="1.6"/>
<line x1="284.7" y1="1516.4" x2="284.7" y2="1521" stroke="#1e1e1e" stroke-width="1.6"/>
<line x1="376.9" y1="1516.4" x2="376.9" y2="1521" stroke="#1e1e1e" stroke-width="1.6"/>
<line x1="469.1" y1="1516.4" x2="469.1" y2="1521" stroke="#1e1e1e" stroke-width="1.6"/>
<line x1="561.3" y1="1516.4" x2="561.3" y2="1521" stroke="#1e1e1e" stroke-width="1.6"/>
<path d="M99.7,1471.1 C100.12,1471.9 101.32,1474.45 102.2,1475.9 C103.08,1477.35 104.13,1478.87 105,1479.8 C105.87,1480.73 106.53,1481.57 107.4,1481.5 C108.27,1481.43 109.32,1480.45 110.2,1479.4 C111.08,1478.35 111.82,1476.65 112.7,1475.2 C113.58,1473.75 114.58,1471.85 115.5,1470.7 C116.42,1469.55 117.17,1468.93 118.2,1468.3 C119.23,1467.67 120.65,1467.32 121.7,1466.9 C122.75,1466.48 123.57,1466.38 124.5,1465.8 C125.43,1465.22 126.25,1464.38 127.3,1463.4 C128.35,1462.42 129.63,1461.02 130.8,1459.9 C131.97,1458.78 133.1,1457.52 134.3,1456.7 C135.5,1455.88 136.17,1455.45 138,1455 C139.83,1454.55 142.7,1454.32 145.3,1454 C147.9,1453.68 150.82,1454.63 153.6,1453.1 C156.38,1451.57 159.2,1447.93 162,1444.8 C164.8,1441.67 168.17,1436.47 170.4,1434.3 C172.63,1432.13 173.65,1432.15 175.4,1431.8 C177.15,1431.45 178.95,1433.88 180.9,1432.2 C182.85,1430.52 184.67,1425.53 187.1,1421.7 C189.53,1417.87 192.7,1413.73 195.5,1409.2 C198.3,1404.67 201.1,1400.78 203.9,1394.5 C206.7,1388.22 209.5,1378.48 212.3,1371.5 C215.1,1364.52 218.05,1357.15 220.7,1352.6 C223.35,1348.05 225.42,1348.03 228.2,1344.2 C230.98,1340.37 234.47,1334.83 237.4,1329.6 C240.33,1324.37 243,1320.48 245.8,1312.8 C248.6,1305.12 251.77,1290.13 254.2,1283.5 C256.63,1276.87 258.32,1276.13 260.4,1273 C262.48,1269.87 264.38,1267.48 266.7,1264.7 C269.02,1261.92 272.2,1256.8 274.3,1256.3 C276.4,1255.8 277.77,1260.52 279.3,1261.7 C280.83,1262.88 281.97,1264.52 283.5,1263.4 C285.03,1262.28 286.9,1257.02 288.5,1255 C290.1,1252.98 291.15,1250.73 293.1,1251.3 C295.05,1251.87 297.27,1255.48 300.2,1258.4 C303.13,1261.32 307.55,1267.97 310.7,1268.8 C313.85,1269.63 316.72,1263.32 319.1,1263.4 C321.48,1263.48 323.32,1266.57 325,1269.3 C326.68,1272.03 327.45,1277.92 329.2,1279.8 C330.95,1281.68 333.4,1279.2 335.5,1280.6 C337.6,1282 339.72,1284.5 341.8,1288.2 C343.88,1291.9 345.57,1297.22 348,1302.8 C350.43,1308.38 353.95,1318.2 356.4,1321.7 C358.85,1325.2 360.6,1322.42 362.7,1323.8 C364.8,1325.18 366.9,1327.22 369,1330 C371.1,1332.78 372.87,1337.22 375.3,1340.5 C377.73,1343.78 381.17,1345.85 383.6,1349.7 C386.03,1353.55 387.93,1359.4 389.9,1363.6 C391.87,1367.8 393.52,1373.52 395.4,1374.9 C397.28,1376.28 399.32,1371 401.2,1371.9 C403.08,1372.8 404.73,1377.02 406.7,1380.3 C408.67,1383.58 410.57,1388.8 413,1391.6 C415.43,1394.4 418.52,1395.13 421.3,1397.1 C424.08,1399.07 427.47,1400.62 429.7,1403.4 C431.93,1406.18 432.95,1409.97 434.7,1413.8 C436.45,1417.63 437.88,1425.48 440.2,1426.4 C442.52,1427.32 446.17,1419.1 448.6,1419.3 C451.03,1419.5 452.92,1424.82 454.8,1427.6 C456.68,1430.38 458.15,1435.5 459.9,1436 C461.65,1436.5 463.22,1432.2 465.3,1430.6 C467.38,1429 470.1,1426.05 472.4,1426.4 C474.7,1426.75 476.78,1429.42 479.1,1432.7 C481.42,1435.98 483.72,1445.05 486.3,1446.1 C488.88,1447.15 492.17,1439.28 494.6,1439 C497.03,1438.72 498.45,1443.37 500.9,1444.4 C503.35,1445.43 506.5,1444.72 509.3,1445.2 C512.1,1445.68 514.92,1445.9 517.7,1447.3 C520.48,1448.7 523.57,1452.2 526,1453.6 C528.43,1455 529.85,1456.4 532.3,1455.7 C534.75,1455 537.9,1451.15 540.7,1449.4 C543.5,1447.65 546.52,1444.85 549.1,1445.2 C551.68,1445.55 554.13,1449.75 556.2,1451.5 C558.27,1453.25 560.62,1455 561.5,1455.7" fill="none" stroke="#C8009B" stroke-width="2.2" stroke-linejoin="round" stroke-linecap="round"/>
<path d="M100.1,1478.87 L100.8,1478.83 L101.5,1478.79 L102.2,1478.75 L102.9,1478.7 L103.6,1478.66 L104.3,1478.61 L105,1478.57 L105.7,1478.52 L106.4,1478.47 L107.1,1478.42 L107.8,1478.37 L108.5,1478.32 L109.2,1478.27 L109.9,1478.21 L110.6,1478.16 L111.3,1478.1 L112,1478.05 L112.7,1477.99 L113.4,1477.93 L114.1,1477.87 L114.8,1477.81 L115.5,1477.74 L116.2,1477.68 L116.9,1477.61 L117.6,1477.54 L118.3,1477.47 L119,1477.4 L119.7,1477.33 L120.4,1477.25 L121.1,1477.17 L121.8,1477.09 L122.5,1477.01 L123.19,1476.93 L123.89,1476.85 L124.59,1476.76 L125.29,1476.67 L125.99,1476.58 L126.69,1476.49 L127.39,1476.39 L128.09,1476.29 L128.79,1476.19 L129.49,1476.09 L130.19,1475.99 L130.89,1475.88 L131.59,1475.77 L132.29,1475.66 L132.99,1475.54 L133.69,1475.42 L134.39,1475.3 L135.09,1475.18 L135.79,1475.05 L136.49,1474.92 L137.19,1474.78 L137.89,1474.65 L138.59,1474.51 L139.29,1474.36 L139.99,1474.22 L140.69,1474.07 L141.39,1473.91 L142.09,1473.76 L142.79,1473.59 L143.49,1473.43 L144.19,1473.26 L144.89,1473.09 L145.59,1472.91 L146.29,1472.73 L146.99,1472.54 L147.69,1472.35 L148.39,1472.16 L149.09,1471.96 L149.79,1471.76 L150.49,1471.55 L151.19,1471.34 L151.89,1471.12 L152.59,1470.9 L153.29,1470.67 L153.99,1470.44 L154.69,1470.2 L155.39,1469.96 L156.09,1469.71 L156.79,1469.46 L157.49,1469.2 L158.19,1468.94 L158.89,1468.67 L159.59,1468.39 L160.29,1468.11 L160.99,1467.82 L161.69,1467.53 L162.39,1467.23 L163.09,1466.92 L163.79,1466.61 L164.49,1466.29 L165.19,1465.97 L165.89,1465.64 L166.59,1465.3 L167.29,1464.96 L167.99,1464.61 L168.69,1464.25 L169.38,1463.88 L170.08,1463.51 L170.78,1463.13 L171.48,1462.75 L172.18,1462.36 L172.88,1461.96 L173.58,1461.55 L174.28,1461.13 L174.98,1460.71 L175.68,1460.28 L176.38,1459.85 L177.08,1459.4 L177.78,1458.95 L178.48,1458.49 L179.18,1458.02 L179.88,1457.54 L180.58,1457.06 L181.28,1456.57 L181.98,1456.07 L182.68,1455.56 L183.38,1455.04 L184.08,1454.52 L184.78,1453.99 L185.48,1453.45 L186.18,1452.9 L186.88,1452.34 L187.58,1451.78 L188.28,1451.2 L188.98,1450.62 L189.68,1450.03 L190.38,1449.43 L191.08,1448.83 L191.78,1448.21 L192.48,1447.59 L193.18,1446.96 L193.88,1446.32 L194.58,1445.67 L195.28,1445.01 L195.98,1444.35 L196.68,1443.67 L197.38,1442.99 L198.08,1442.3 L198.78,1441.6 L199.48,1440.9 L200.18,1440.19 L200.88,1439.46 L201.58,1438.73 L202.28,1438 L202.98,1437.25 L203.68,1436.5 L204.38,1435.74 L205.08,1434.97 L205.78,1434.19 L206.48,1433.41 L207.18,1432.62 L207.88,1431.82 L208.58,1431.02 L209.28,1430.21 L209.98,1429.39 L210.68,1428.56 L211.38,1427.73 L212.08,1426.9 L212.78,1426.05 L213.48,1425.2 L214.18,1424.34 L214.88,1423.48 L215.57,1422.61 L216.27,1421.74 L216.97,1420.86 L217.67,1419.98 L218.37,1419.09 L219.07,1418.19 L219.77,1417.29 L220.47,1416.39 L221.17,1415.48 L221.87,1414.57 L222.57,1413.66 L223.27,1412.74 L223.97,1411.81 L224.67,1410.89 L225.37,1409.96 L226.07,1409.03 L226.77,1408.1 L227.47,1407.16 L228.17,1406.22 L228.87,1405.28 L229.57,1404.34 L230.27,1403.4 L230.97,1402.45 L231.67,1401.51 L232.37,1400.57 L233.07,1399.62 L233.77,1398.68 L234.47,1397.73 L235.17,1396.79 L235.87,1395.85 L236.57,1394.91 L237.27,1393.97 L237.97,1393.03 L238.67,1392.1 L239.37,1391.17 L240.07,1390.24 L240.77,1389.31 L241.47,1388.39 L242.17,1387.47 L242.87,1386.56 L243.57,1385.65 L244.27,1384.74 L244.97,1383.84 L245.67,1382.95 L246.37,1382.06 L247.07,1381.18 L247.77,1380.3 L248.47,1379.44 L249.17,1378.57 L249.87,1377.72 L250.57,1376.88 L251.27,1376.04 L251.97,1375.21 L252.67,1374.39 L253.37,1373.58 L254.07,1372.78 L254.77,1371.99 L255.47,1371.21 L256.17,1370.44 L256.87,1369.68 L257.57,1368.93 L258.27,1368.2 L258.97,1367.47 L259.67,1366.76 L260.37,1366.06 L261.07,1365.38 L261.76,1364.71 L262.46,1364.05 L263.16,1363.4 L263.86,1362.77 L264.56,1362.16 L265.26,1361.56 L265.96,1360.97 L266.66,1360.4 L267.36,1359.85 L268.06,1359.31 L268.76,1358.79 L269.46,1358.28 L270.16,1357.79 L270.86,1357.32 L271.56,1356.87 L272.26,1356.43 L272.96,1356.01 L273.66,1355.61 L274.36,1355.23 L275.06,1354.87 L275.76,1354.52 L276.46,1354.19 L277.16,1353.89 L277.86,1353.6 L278.56,1353.33 L279.26,1353.08 L279.96,1352.85 L280.66,1352.63 L281.36,1352.44 L282.06,1352.27 L282.76,1352.12 L283.46,1351.98 L284.16,1351.87 L284.86,1351.78 L285.56,1351.71 L286.26,1351.65 L286.96,1351.62 L287.66,1351.62 L288.36,1351.63 L289.06,1351.66 L289.76,1351.72 L290.46,1351.79 L291.16,1351.89 L291.86,1352.01 L292.56,1352.15 L293.26,1352.3 L293.96,1352.48 L294.66,1352.68 L295.36,1352.9 L296.06,1353.14 L296.76,1353.4 L297.46,1353.68 L298.16,1353.98 L298.86,1354.3 L299.56,1354.64 L300.26,1354.99 L300.96,1355.37 L301.66,1355.76 L302.36,1356.17 L303.06,1356.6 L303.76,1357.04 L304.46,1357.5 L305.16,1357.98 L305.86,1358.48 L306.56,1358.99 L307.26,1359.51 L307.95,1360.05 L308.65,1360.61 L309.35,1361.18 L310.05,1361.77 L310.75,1362.37 L311.45,1362.98 L312.15,1363.61 L312.85,1364.25 L313.55,1364.9 L314.25,1365.56 L314.95,1366.24 L315.65,1366.93 L316.35,1367.62 L317.05,1368.33 L317.75,1369.05 L318.45,1369.78 L319.15,1370.52 L319.85,1371.27 L320.55,1372.03 L321.25,1372.79 L321.95,1373.56 L322.65,1374.35 L323.35,1375.13 L324.05,1375.93 L324.75,1376.73 L325.45,1377.54 L326.15,1378.35 L326.85,1379.17 L327.55,1380 L328.25,1380.83 L328.95,1381.66 L329.65,1382.5 L330.35,1383.34 L331.05,1384.19 L331.75,1385.03 L332.45,1385.89 L333.15,1386.74 L333.85,1387.59 L334.55,1388.45 L335.25,1389.31 L335.95,1390.17 L336.65,1391.03 L337.35,1391.89 L338.05,1392.75 L338.75,1393.61 L339.45,1394.47 L340.15,1395.33 L340.85,1396.19 L341.55,1397.05 L342.25,1397.91 L342.95,1398.76 L343.65,1399.61 L344.35,1400.46 L345.05,1401.31 L345.75,1402.15 L346.45,1402.99 L347.15,1403.83 L347.85,1404.67 L348.55,1405.5 L349.25,1406.32 L349.95,1407.15 L350.65,1407.96 L351.35,1408.78 L352.05,1409.59 L352.75,1410.39 L353.45,1411.19 L354.14,1411.98 L354.84,1412.77 L355.54,1413.55 L356.24,1414.32 L356.94,1415.09 L357.64,1415.86 L358.34,1416.62 L359.04,1417.37 L359.74,1418.11 L360.44,1418.85 L361.14,1419.58 L361.84,1420.3 L362.54,1421.02 L363.24,1421.73 L363.94,1422.43 L364.64,1423.12 L365.34,1423.81 L366.04,1424.49 L366.74,1425.16 L367.44,1425.83 L368.14,1426.48 L368.84,1427.13 L369.54,1427.77 L370.24,1428.41 L370.94,1429.03 L371.64,1429.65 L372.34,1430.26 L373.04,1430.86 L373.74,1431.45 L374.44,1432.04 L375.14,1432.61 L375.84,1433.18 L376.54,1433.74 L377.24,1434.3 L377.94,1434.84 L378.64,1435.38 L379.34,1435.9 L380.04,1436.42 L380.74,1436.93 L381.44,1437.44 L382.14,1437.93 L382.84,1438.42 L383.54,1438.9 L384.24,1439.37 L384.94,1439.83 L385.64,1440.29 L386.34,1440.74 L387.04,1441.18 L387.74,1441.61 L388.44,1442.03 L389.14,1442.45 L389.84,1442.86 L390.54,1443.26 L391.24,1443.65 L391.94,1444.04 L392.64,1444.42 L393.34,1444.79 L394.04,1445.15 L394.74,1445.51 L395.44,1445.86 L396.14,1446.2 L396.84,1446.54 L397.54,1446.87 L398.24,1447.19 L398.94,1447.51 L399.64,1447.82 L400.33,1448.12 L401.03,1448.42 L401.73,1448.71 L402.43,1448.99 L403.13,1449.27 L403.83,1449.54 L404.53,1449.8 L405.23,1450.06 L405.93,1450.31 L406.63,1450.56 L407.33,1450.8 L408.03,1451.04 L408.73,1451.27 L409.43,1451.49 L410.13,1451.71 L410.83,1451.93 L411.53,1452.14 L412.23,1452.34 L412.93,1452.54 L413.63,1452.73 L414.33,1452.92 L415.03,1453.11 L415.73,1453.29 L416.43,1453.46 L417.13,1453.63 L417.83,1453.8 L418.53,1453.96 L419.23,1454.12 L419.93,1454.28 L420.63,1454.43 L421.33,1454.57 L422.03,1454.71 L422.73,1454.85 L423.43,1454.99 L424.13,1455.12 L424.83,1455.24 L425.53,1455.37 L426.23,1455.49 L426.93,1455.6 L427.63,1455.72 L428.33,1455.83 L429.03,1455.94 L429.73,1456.04 L430.43,1456.14 L431.13,1456.24 L431.83,1456.34 L432.53,1456.43 L433.23,1456.52 L433.93,1456.61 L434.63,1456.69 L435.33,1456.77 L436.03,1456.85 L436.73,1456.93 L437.43,1457.01 L438.13,1457.08 L438.83,1457.15 L439.53,1457.22 L440.23,1457.29 L440.93,1457.35 L441.63,1457.41 L442.33,1457.47 L443.03,1457.53 L443.73,1457.59 L444.43,1457.64 L445.13,1457.7 L445.83,1457.75 L446.52,1457.8 L447.22,1457.85 L447.92,1457.89 L448.62,1457.94 L449.32,1457.98 L450.02,1458.03 L450.72,1458.07 L451.42,1458.11 L452.12,1458.15 L452.82,1458.18 L453.52,1458.22 L454.22,1458.25 L454.92,1458.29 L455.62,1458.32 L456.32,1458.35 L457.02,1458.38 L457.72,1458.41 L458.42,1458.44 L459.12,1458.47 L459.82,1458.5 L460.52,1458.52 L461.22,1458.55 L461.92,1458.57 L462.62,1458.59 L463.32,1458.62 L464.02,1458.64 L464.72,1458.66 L465.42,1458.68 L466.12,1458.7 L466.82,1458.72 L467.52,1458.74 L468.22,1458.75 L468.92,1458.77 L469.62,1458.79 L470.32,1458.8 L471.02,1458.82 L471.72,1458.83 L472.42,1458.85 L473.12,1458.86 L473.82,1458.87 L474.52,1458.89 L475.22,1458.9 L475.92,1458.91 L476.62,1458.92 L477.32,1458.93 L478.02,1458.95 L478.72,1458.96 L479.42,1458.97 L480.12,1458.98 L480.82,1458.98 L481.52,1458.99 L482.22,1459 L482.92,1459.01 L483.62,1459.02 L484.32,1459.03 L485.02,1459.03 L485.72,1459.04 L486.42,1459.05 L487.12,1459.05 L487.82,1459.06 L488.52,1459.07 L489.22,1459.07 L489.92,1459.08 L490.62,1459.08 L491.32,1459.09 L492.02,1459.09 L492.71,1459.1 L493.41,1459.1 L494.11,1459.11 L494.81,1459.11 L495.51,1459.12 L496.21,1459.12 L496.91,1459.12 L497.61,1459.13 L498.31,1459.13 L499.01,1459.14 L499.71,1459.14 L500.41,1459.14 L501.11,1459.14 L501.81,1459.15 L502.51,1459.15 L503.21,1459.15 L503.91,1459.16 L504.61,1459.16 L505.31,1459.16 L506.01,1459.16 L506.71,1459.16 L507.41,1459.17 L508.11,1459.17 L508.81,1459.17 L509.51,1459.17 L510.21,1459.17 L510.91,1459.17 L511.61,1459.17 L512.31,1459.18 L513.01,1459.18 L513.71,1459.18 L514.41,1459.18 L515.11,1459.18 L515.81,1459.18 L516.51,1459.18 L517.21,1459.18 L517.91,1459.18 L518.61,1459.18 L519.31,1459.18 L520.01,1459.18 L520.71,1459.18 L521.41,1459.18 L522.11,1459.18 L522.81,1459.18 L523.51,1459.18 L524.21,1459.18 L524.91,1459.18 L525.61,1459.18 L526.31,1459.18 L527.01,1459.18 L527.71,1459.18 L528.41,1459.18 L529.11,1459.18 L529.81,1459.18 L530.51,1459.18 L531.21,1459.18 L531.91,1459.18 L532.61,1459.18 L533.31,1459.18 L534.01,1459.17 L534.71,1459.17 L535.41,1459.17 L536.11,1459.17 L536.81,1459.17 L537.51,1459.17 L538.21,1459.17 L538.9,1459.17 L539.6,1459.16 L540.3,1459.16 L541,1459.16 L541.7,1459.16 L542.4,1459.16 L543.1,1459.16 L543.8,1459.16 L544.5,1459.15 L545.2,1459.15 L545.9,1459.15 L546.6,1459.15 L547.3,1459.15 L548,1459.14 L548.7,1459.14 L549.4,1459.14 L550.1,1459.14 L550.8,1459.14 L551.5,1459.13 L552.2,1459.13 L552.9,1459.13 L553.6,1459.13 L554.3,1459.12 L555,1459.12 L555.7,1459.12 L556.4,1459.12 L557.1,1459.11 L557.8,1459.11 L558.5,1459.11 L559.2,1459.11 L559.9,1459.1 L560.6,1459.1 L561.3,1459.1" fill="none" stroke="#FDB812" stroke-width="2.2" stroke-linejoin="round" stroke-linecap="round"/>
<path d="M100.1,1472.63 L100.8,1472.53 L101.5,1472.42 L102.2,1472.32 L102.9,1472.21 L103.6,1472.1 L104.3,1471.99 L105,1471.88 L105.7,1471.76 L106.4,1471.65 L107.1,1471.53 L107.8,1471.41 L108.5,1471.29 L109.2,1471.17 L109.9,1471.04 L110.6,1470.92 L111.3,1470.79 L112,1470.66 L112.7,1470.53 L113.4,1470.4 L114.1,1470.26 L114.8,1470.12 L115.5,1469.98 L116.2,1469.84 L116.9,1469.7 L117.6,1469.56 L118.3,1469.41 L119,1469.26 L119.7,1469.11 L120.4,1468.96 L121.1,1468.8 L121.8,1468.65 L122.5,1468.49 L123.19,1468.33 L123.89,1468.16 L124.59,1468 L125.29,1467.83 L125.99,1467.66 L126.69,1467.49 L127.39,1467.32 L128.09,1467.14 L128.79,1466.96 L129.49,1466.78 L130.19,1466.6 L130.89,1466.41 L131.59,1466.22 L132.29,1466.03 L132.99,1465.84 L133.69,1465.65 L134.39,1465.45 L135.09,1465.25 L135.79,1465.05 L136.49,1464.85 L137.19,1464.64 L137.89,1464.43 L138.59,1464.22 L139.29,1464 L139.99,1463.79 L140.69,1463.57 L141.39,1463.34 L142.09,1463.12 L142.79,1462.89 L143.49,1462.66 L144.19,1462.43 L144.89,1462.19 L145.59,1461.96 L146.29,1461.72 L146.99,1461.47 L147.69,1461.23 L148.39,1460.98 L149.09,1460.73 L149.79,1460.47 L150.49,1460.22 L151.19,1459.96 L151.89,1459.69 L152.59,1459.43 L153.29,1459.16 L153.99,1458.89 L154.69,1458.61 L155.39,1458.34 L156.09,1458.06 L156.79,1457.78 L157.49,1457.49 L158.19,1457.2 L158.89,1456.91 L159.59,1456.62 L160.29,1456.32 L160.99,1456.02 L161.69,1455.72 L162.39,1455.41 L163.09,1455.1 L163.79,1454.79 L164.49,1454.47 L165.19,1454.16 L165.89,1453.84 L166.59,1453.51 L167.29,1453.18 L167.99,1452.85 L168.69,1452.52 L169.38,1452.19 L170.08,1451.85 L170.78,1451.5 L171.48,1451.16 L172.18,1450.81 L172.88,1450.46 L173.58,1450.11 L174.28,1449.75 L174.98,1449.39 L175.68,1449.02 L176.38,1448.66 L177.08,1448.29 L177.78,1447.92 L178.48,1447.54 L179.18,1447.16 L179.88,1446.78 L180.58,1446.4 L181.28,1446.01 L181.98,1445.62 L182.68,1445.22 L183.38,1444.83 L184.08,1444.43 L184.78,1444.02 L185.48,1443.62 L186.18,1443.21 L186.88,1442.8 L187.58,1442.38 L188.28,1441.97 L188.98,1441.55 L189.68,1441.12 L190.38,1440.7 L191.08,1440.27 L191.78,1439.83 L192.48,1439.4 L193.18,1438.96 L193.88,1438.52 L194.58,1438.08 L195.28,1437.63 L195.98,1437.18 L196.68,1436.73 L197.38,1436.28 L198.08,1435.82 L198.78,1435.36 L199.48,1434.9 L200.18,1434.43 L200.88,1433.96 L201.58,1433.49 L202.28,1433.02 L202.98,1432.54 L203.68,1432.07 L204.38,1431.59 L205.08,1431.1 L205.78,1430.62 L206.48,1430.13 L207.18,1429.64 L207.88,1429.15 L208.58,1428.65 L209.28,1428.15 L209.98,1427.65 L210.68,1427.15 L211.38,1426.65 L212.08,1426.14 L212.78,1425.63 L213.48,1425.12 L214.18,1424.61 L214.88,1424.1 L215.57,1423.58 L216.27,1423.06 L216.97,1422.54 L217.67,1422.02 L218.37,1421.5 L219.07,1420.97 L219.77,1420.45 L220.47,1419.92 L221.17,1419.39 L221.87,1418.86 L222.57,1418.32 L223.27,1417.79 L223.97,1417.25 L224.67,1416.71 L225.37,1416.17 L226.07,1415.63 L226.77,1415.09 L227.47,1414.55 L228.17,1414.01 L228.87,1413.46 L229.57,1412.92 L230.27,1412.37 L230.97,1411.82 L231.67,1411.27 L232.37,1410.72 L233.07,1410.17 L233.77,1409.62 L234.47,1409.07 L235.17,1408.52 L235.87,1407.97 L236.57,1407.42 L237.27,1406.86 L237.97,1406.31 L238.67,1405.76 L239.37,1405.21 L240.07,1404.65 L240.77,1404.1 L241.47,1403.54 L242.17,1402.99 L242.87,1402.44 L243.57,1401.89 L244.27,1401.33 L244.97,1400.78 L245.67,1400.23 L246.37,1399.68 L247.07,1399.13 L247.77,1398.58 L248.47,1398.03 L249.17,1397.48 L249.87,1396.94 L250.57,1396.39 L251.27,1395.85 L251.97,1395.3 L252.67,1394.76 L253.37,1394.22 L254.07,1393.68 L254.77,1393.14 L255.47,1392.6 L256.17,1392.07 L256.87,1391.53 L257.57,1391 L258.27,1390.47 L258.97,1389.95 L259.67,1389.42 L260.37,1388.9 L261.07,1388.38 L261.76,1387.86 L262.46,1387.34 L263.16,1386.83 L263.86,1386.31 L264.56,1385.81 L265.26,1385.3 L265.96,1384.8 L266.66,1384.3 L267.36,1383.8 L268.06,1383.3 L268.76,1382.81 L269.46,1382.33 L270.16,1381.84 L270.86,1381.36 L271.56,1380.88 L272.26,1380.41 L272.96,1379.94 L273.66,1379.47 L274.36,1379.01 L275.06,1378.55 L275.76,1378.1 L276.46,1377.64 L277.16,1377.2 L277.86,1376.76 L278.56,1376.32 L279.26,1375.89 L279.96,1375.46 L280.66,1375.03 L281.36,1374.61 L282.06,1374.2 L282.76,1373.79 L283.46,1373.38 L284.16,1372.99 L284.86,1372.59 L285.56,1372.2 L286.26,1371.82 L286.96,1371.44 L287.66,1371.07 L288.36,1370.7 L289.06,1370.34 L289.76,1369.98 L290.46,1369.63 L291.16,1369.29 L291.86,1368.95 L292.56,1368.61 L293.26,1368.29 L293.96,1367.97 L294.66,1367.65 L295.36,1367.34 L296.06,1367.04 L296.76,1366.75 L297.46,1366.46 L298.16,1366.18 L298.86,1365.9 L299.56,1365.63 L300.26,1365.37 L300.96,1365.11 L301.66,1364.86 L302.36,1364.62 L303.06,1364.39 L303.76,1364.16 L304.46,1363.94 L305.16,1363.72 L305.86,1363.52 L306.56,1363.32 L307.26,1363.13 L307.95,1362.94 L308.65,1362.76 L309.35,1362.59 L310.05,1362.43 L310.75,1362.27 L311.45,1362.12 L312.15,1361.98 L312.85,1361.85 L313.55,1361.72 L314.25,1361.61 L314.95,1361.49 L315.65,1361.39 L316.35,1361.29 L317.05,1361.21 L317.75,1361.13 L318.45,1361.05 L319.15,1360.99 L319.85,1360.93 L320.55,1360.88 L321.25,1360.83 L321.95,1360.8 L322.65,1360.77 L323.35,1360.75 L324.05,1360.74 L324.75,1360.73 L325.45,1360.73 L326.15,1360.74 L326.85,1360.76 L327.55,1360.78 L328.25,1360.81 L328.95,1360.85 L329.65,1360.9 L330.35,1360.95 L331.05,1361.01 L331.75,1361.08 L332.45,1361.15 L333.15,1361.23 L333.85,1361.32 L334.55,1361.42 L335.25,1361.52 L335.95,1361.63 L336.65,1361.75 L337.35,1361.88 L338.05,1362.01 L338.75,1362.15 L339.45,1362.29 L340.15,1362.44 L340.85,1362.6 L341.55,1362.76 L342.25,1362.94 L342.95,1363.11 L343.65,1363.3 L344.35,1363.49 L345.05,1363.69 L345.75,1363.89 L346.45,1364.1 L347.15,1364.32 L347.85,1364.54 L348.55,1364.77 L349.25,1365 L349.95,1365.24 L350.65,1365.49 L351.35,1365.74 L352.05,1365.99 L352.75,1366.26 L353.45,1366.53 L354.14,1366.8 L354.84,1367.08 L355.54,1367.36 L356.24,1367.65 L356.94,1367.95 L357.64,1368.25 L358.34,1368.55 L359.04,1368.86 L359.74,1369.18 L360.44,1369.5 L361.14,1369.82 L361.84,1370.15 L362.54,1370.49 L363.24,1370.82 L363.94,1371.17 L364.64,1371.51 L365.34,1371.86 L366.04,1372.22 L366.74,1372.58 L367.44,1372.94 L368.14,1373.31 L368.84,1373.68 L369.54,1374.06 L370.24,1374.43 L370.94,1374.82 L371.64,1375.2 L372.34,1375.59 L373.04,1375.98 L373.74,1376.38 L374.44,1376.78 L375.14,1377.18 L375.84,1377.59 L376.54,1378 L377.24,1378.41 L377.94,1378.82 L378.64,1379.24 L379.34,1379.66 L380.04,1380.08 L380.74,1380.5 L381.44,1380.93 L382.14,1381.36 L382.84,1381.79 L383.54,1382.23 L384.24,1382.66 L384.94,1383.1 L385.64,1383.54 L386.34,1383.98 L387.04,1384.42 L387.74,1384.87 L388.44,1385.32 L389.14,1385.77 L389.84,1386.22 L390.54,1386.67 L391.24,1387.12 L391.94,1387.58 L392.64,1388.03 L393.34,1388.49 L394.04,1388.95 L394.74,1389.4 L395.44,1389.86 L396.14,1390.33 L396.84,1390.79 L397.54,1391.25 L398.24,1391.71 L398.94,1392.18 L399.64,1392.64 L400.33,1393.11 L401.03,1393.57 L401.73,1394.04 L402.43,1394.5 L403.13,1394.97 L403.83,1395.43 L404.53,1395.9 L405.23,1396.37 L405.93,1396.83 L406.63,1397.3 L407.33,1397.77 L408.03,1398.23 L408.73,1398.7 L409.43,1399.17 L410.13,1399.63 L410.83,1400.1 L411.53,1400.56 L412.23,1401.02 L412.93,1401.49 L413.63,1401.95 L414.33,1402.41 L415.03,1402.88 L415.73,1403.34 L416.43,1403.8 L417.13,1404.26 L417.83,1404.71 L418.53,1405.17 L419.23,1405.63 L419.93,1406.08 L420.63,1406.54 L421.33,1406.99 L422.03,1407.44 L422.73,1407.89 L423.43,1408.34 L424.13,1408.79 L424.83,1409.24 L425.53,1409.68 L426.23,1410.13 L426.93,1410.57 L427.63,1411.01 L428.33,1411.45 L429.03,1411.89 L429.73,1412.32 L430.43,1412.76 L431.13,1413.19 L431.83,1413.62 L432.53,1414.05 L433.23,1414.48 L433.93,1414.9 L434.63,1415.33 L435.33,1415.75 L436.03,1416.17 L436.73,1416.59 L437.43,1417 L438.13,1417.42 L438.83,1417.83 L439.53,1418.24 L440.23,1418.65 L440.93,1419.05 L441.63,1419.46 L442.33,1419.86 L443.03,1420.26 L443.73,1420.66 L444.43,1421.05 L445.13,1421.44 L445.83,1421.83 L446.52,1422.22 L447.22,1422.61 L447.92,1422.99 L448.62,1423.37 L449.32,1423.75 L450.02,1424.13 L450.72,1424.5 L451.42,1424.87 L452.12,1425.24 L452.82,1425.61 L453.52,1425.97 L454.22,1426.34 L454.92,1426.69 L455.62,1427.05 L456.32,1427.41 L457.02,1427.76 L457.72,1428.11 L458.42,1428.45 L459.12,1428.8 L459.82,1429.14 L460.52,1429.48 L461.22,1429.82 L461.92,1430.15 L462.62,1430.48 L463.32,1430.81 L464.02,1431.14 L464.72,1431.46 L465.42,1431.78 L466.12,1432.1 L466.82,1432.42 L467.52,1432.73 L468.22,1433.04 L468.92,1433.35 L469.62,1433.65 L470.32,1433.96 L471.02,1434.26 L471.72,1434.55 L472.42,1434.85 L473.12,1435.14 L473.82,1435.43 L474.52,1435.72 L475.22,1436 L475.92,1436.29 L476.62,1436.57 L477.32,1436.84 L478.02,1437.12 L478.72,1437.39 L479.42,1437.66 L480.12,1437.93 L480.82,1438.19 L481.52,1438.45 L482.22,1438.71 L482.92,1438.97 L483.62,1439.22 L484.32,1439.47 L485.02,1439.72 L485.72,1439.97 L486.42,1440.21 L487.12,1440.45 L487.82,1440.69 L488.52,1440.93 L489.22,1441.16 L489.92,1441.39 L490.62,1441.62 L491.32,1441.85 L492.02,1442.07 L492.71,1442.3 L493.41,1442.52 L494.11,1442.73 L494.81,1442.95 L495.51,1443.16 L496.21,1443.37 L496.91,1443.58 L497.61,1443.78 L498.31,1443.99 L499.01,1444.19 L499.71,1444.39 L500.41,1444.58 L501.11,1444.78 L501.81,1444.97 L502.51,1445.16 L503.21,1445.35 L503.91,1445.53 L504.61,1445.71 L505.31,1445.9 L506.01,1446.07 L506.71,1446.25 L507.41,1446.43 L508.11,1446.6 L508.81,1446.77 L509.51,1446.94 L510.21,1447.1 L510.91,1447.27 L511.61,1447.43 L512.31,1447.59 L513.01,1447.75 L513.71,1447.9 L514.41,1448.06 L515.11,1448.21 L515.81,1448.36 L516.51,1448.51 L517.21,1448.66 L517.91,1448.8 L518.61,1448.95 L519.31,1449.09 L520.01,1449.23 L520.71,1449.36 L521.41,1449.5 L522.11,1449.63 L522.81,1449.77 L523.51,1449.9 L524.21,1450.03 L524.91,1450.15 L525.61,1450.28 L526.31,1450.4 L527.01,1450.52 L527.71,1450.64 L528.41,1450.76 L529.11,1450.88 L529.81,1451 L530.51,1451.11 L531.21,1451.22 L531.91,1451.33 L532.61,1451.44 L533.31,1451.55 L534.01,1451.66 L534.71,1451.76 L535.41,1451.87 L536.11,1451.97 L536.81,1452.07 L537.51,1452.17 L538.21,1452.27 L538.9,1452.37 L539.6,1452.46 L540.3,1452.56 L541,1452.65 L541.7,1452.74 L542.4,1452.83 L543.1,1452.92 L543.8,1453.01 L544.5,1453.09 L545.2,1453.18 L545.9,1453.26 L546.6,1453.35 L547.3,1453.43 L548,1453.51 L548.7,1453.59 L549.4,1453.67 L550.1,1453.74 L550.8,1453.82 L551.5,1453.89 L552.2,1453.97 L552.9,1454.04 L553.6,1454.11 L554.3,1454.18 L555,1454.25 L555.7,1454.32 L556.4,1454.39 L557.1,1454.46 L557.8,1454.52 L558.5,1454.59 L559.2,1454.65 L559.9,1454.72 L560.6,1454.78 L561.3,1454.84" fill="none" stroke="#66F23A" stroke-width="2.2" stroke-linejoin="round" stroke-linecap="round"/>
<path d="M100.1,1480.86 L100.8,1480.85 L101.5,1480.84 L102.2,1480.83 L102.9,1480.82 L103.6,1480.81 L104.3,1480.8 L105,1480.79 L105.7,1480.78 L106.4,1480.77 L107.1,1480.76 L107.8,1480.75 L108.5,1480.74 L109.2,1480.73 L109.9,1480.72 L110.6,1480.71 L111.3,1480.7 L112,1480.69 L112.7,1480.68 L113.4,1480.67 L114.1,1480.65 L114.8,1480.64 L115.5,1480.63 L116.2,1480.62 L116.9,1480.61 L117.6,1480.6 L118.3,1480.59 L119,1480.58 L119.7,1480.56 L120.4,1480.55 L121.1,1480.54 L121.8,1480.53 L122.5,1480.52 L123.19,1480.5 L123.89,1480.49 L124.59,1480.48 L125.29,1480.47 L125.99,1480.46 L126.69,1480.44 L127.39,1480.43 L128.09,1480.42 L128.79,1480.4 L129.49,1480.39 L130.19,1480.38 L130.89,1480.37 L131.59,1480.35 L132.29,1480.34 L132.99,1480.33 L133.69,1480.31 L134.39,1480.3 L135.09,1480.28 L135.79,1480.27 L136.49,1480.26 L137.19,1480.24 L137.89,1480.23 L138.59,1480.21 L139.29,1480.2 L139.99,1480.18 L140.69,1480.17 L141.39,1480.15 L142.09,1480.14 L142.79,1480.12 L143.49,1480.11 L144.19,1480.09 L144.89,1480.07 L145.59,1480.06 L146.29,1480.04 L146.99,1480.03 L147.69,1480.01 L148.39,1479.99 L149.09,1479.98 L149.79,1479.96 L150.49,1479.94 L151.19,1479.92 L151.89,1479.91 L152.59,1479.89 L153.29,1479.87 L153.99,1479.85 L154.69,1479.83 L155.39,1479.81 L156.09,1479.8 L156.79,1479.78 L157.49,1479.76 L158.19,1479.74 L158.89,1479.72 L159.59,1479.7 L160.29,1479.68 L160.99,1479.66 L161.69,1479.64 L162.39,1479.62 L163.09,1479.59 L163.79,1479.57 L164.49,1479.55 L165.19,1479.53 L165.89,1479.51 L166.59,1479.49 L167.29,1479.46 L167.99,1479.44 L168.69,1479.42 L169.38,1479.39 L170.08,1479.37 L170.78,1479.35 L171.48,1479.32 L172.18,1479.3 L172.88,1479.27 L173.58,1479.25 L174.28,1479.22 L174.98,1479.2 L175.68,1479.17 L176.38,1479.14 L177.08,1479.12 L177.78,1479.09 L178.48,1479.06 L179.18,1479.03 L179.88,1479.01 L180.58,1478.98 L181.28,1478.95 L181.98,1478.92 L182.68,1478.89 L183.38,1478.86 L184.08,1478.83 L184.78,1478.8 L185.48,1478.77 L186.18,1478.74 L186.88,1478.71 L187.58,1478.68 L188.28,1478.65 L188.98,1478.61 L189.68,1478.58 L190.38,1478.55 L191.08,1478.52 L191.78,1478.48 L192.48,1478.45 L193.18,1478.41 L193.88,1478.38 L194.58,1478.34 L195.28,1478.31 L195.98,1478.27 L196.68,1478.24 L197.38,1478.2 L198.08,1478.16 L198.78,1478.12 L199.48,1478.09 L200.18,1478.05 L200.88,1478.01 L201.58,1477.97 L202.28,1477.93 L202.98,1477.89 L203.68,1477.85 L204.38,1477.81 L205.08,1477.77 L205.78,1477.73 L206.48,1477.69 L207.18,1477.64 L207.88,1477.6 L208.58,1477.56 L209.28,1477.52 L209.98,1477.47 L210.68,1477.43 L211.38,1477.38 L212.08,1477.34 L212.78,1477.29 L213.48,1477.25 L214.18,1477.2 L214.88,1477.15 L215.57,1477.11 L216.27,1477.06 L216.97,1477.01 L217.67,1476.96 L218.37,1476.91 L219.07,1476.86 L219.77,1476.81 L220.47,1476.76 L221.17,1476.71 L221.87,1476.66 L222.57,1476.61 L223.27,1476.56 L223.97,1476.51 L224.67,1476.45 L225.37,1476.4 L226.07,1476.35 L226.77,1476.29 L227.47,1476.24 L228.17,1476.18 L228.87,1476.13 L229.57,1476.07 L230.27,1476.02 L230.97,1475.96 L231.67,1475.9 L232.37,1475.85 L233.07,1475.79 L233.77,1475.73 L234.47,1475.67 L235.17,1475.61 L235.87,1475.55 L236.57,1475.49 L237.27,1475.43 L237.97,1475.37 L238.67,1475.31 L239.37,1475.25 L240.07,1475.19 L240.77,1475.13 L241.47,1475.07 L242.17,1475 L242.87,1474.94 L243.57,1474.88 L244.27,1474.81 L244.97,1474.75 L245.67,1474.68 L246.37,1474.62 L247.07,1474.55 L247.77,1474.49 L248.47,1474.42 L249.17,1474.36 L249.87,1474.29 L250.57,1474.22 L251.27,1474.16 L251.97,1474.09 L252.67,1474.02 L253.37,1473.95 L254.07,1473.88 L254.77,1473.82 L255.47,1473.75 L256.17,1473.68 L256.87,1473.61 L257.57,1473.54 L258.27,1473.47 L258.97,1473.4 L259.67,1473.33 L260.37,1473.26 L261.07,1473.18 L261.76,1473.11 L262.46,1473.04 L263.16,1472.97 L263.86,1472.9 L264.56,1472.83 L265.26,1472.75 L265.96,1472.68 L266.66,1472.61 L267.36,1472.53 L268.06,1472.46 L268.76,1472.39 L269.46,1472.31 L270.16,1472.24 L270.86,1472.16 L271.56,1472.09 L272.26,1472.02 L272.96,1471.94 L273.66,1471.87 L274.36,1471.79 L275.06,1471.72 L275.76,1471.64 L276.46,1471.57 L277.16,1471.49 L277.86,1471.42 L278.56,1471.34 L279.26,1471.26 L279.96,1471.19 L280.66,1471.11 L281.36,1471.04 L282.06,1470.96 L282.76,1470.89 L283.46,1470.81 L284.16,1470.73 L284.86,1470.66 L285.56,1470.58 L286.26,1470.51 L286.96,1470.43 L287.66,1470.35 L288.36,1470.28 L289.06,1470.2 L289.76,1470.12 L290.46,1470.05 L291.16,1469.97 L291.86,1469.9 L292.56,1469.82 L293.26,1469.75 L293.96,1469.67 L294.66,1469.59 L295.36,1469.52 L296.06,1469.44 L296.76,1469.37 L297.46,1469.29 L298.16,1469.22 L298.86,1469.14 L299.56,1469.07 L300.26,1468.99 L300.96,1468.92 L301.66,1468.84 L302.36,1468.77 L303.06,1468.69 L303.76,1468.62 L304.46,1468.54 L305.16,1468.47 L305.86,1468.4 L306.56,1468.32 L307.26,1468.25 L307.95,1468.18 L308.65,1468.1 L309.35,1468.03 L310.05,1467.96 L310.75,1467.89 L311.45,1467.81 L312.15,1467.74 L312.85,1467.67 L313.55,1467.6 L314.25,1467.53 L314.95,1467.46 L315.65,1467.39 L316.35,1467.32 L317.05,1467.25 L317.75,1467.18 L318.45,1467.11 L319.15,1467.04 L319.85,1466.97 L320.55,1466.9 L321.25,1466.83 L321.95,1466.77 L322.65,1466.7 L323.35,1466.63 L324.05,1466.56 L324.75,1466.5 L325.45,1466.43 L326.15,1466.37 L326.85,1466.3 L327.55,1466.23 L328.25,1466.17 L328.95,1466.1 L329.65,1466.04 L330.35,1465.98 L331.05,1465.91 L331.75,1465.85 L332.45,1465.79 L333.15,1465.72 L333.85,1465.66 L334.55,1465.6 L335.25,1465.54 L335.95,1465.48 L336.65,1465.42 L337.35,1465.36 L338.05,1465.3 L338.75,1465.24 L339.45,1465.18 L340.15,1465.12 L340.85,1465.06 L341.55,1465.01 L342.25,1464.95 L342.95,1464.89 L343.65,1464.84 L344.35,1464.78 L345.05,1464.73 L345.75,1464.67 L346.45,1464.62 L347.15,1464.56 L347.85,1464.51 L348.55,1464.45 L349.25,1464.4 L349.95,1464.35 L350.65,1464.3 L351.35,1464.24 L352.05,1464.19 L352.75,1464.14 L353.45,1464.09 L354.14,1464.04 L354.84,1463.99 L355.54,1463.94 L356.24,1463.9 L356.94,1463.85 L357.64,1463.8 L358.34,1463.75 L359.04,1463.7 L359.74,1463.66 L360.44,1463.61 L361.14,1463.57 L361.84,1463.52 L362.54,1463.48 L363.24,1463.43 L363.94,1463.39 L364.64,1463.35 L365.34,1463.3 L366.04,1463.26 L366.74,1463.22 L367.44,1463.18 L368.14,1463.13 L368.84,1463.09 L369.54,1463.05 L370.24,1463.01 L370.94,1462.97 L371.64,1462.93 L372.34,1462.9 L373.04,1462.86 L373.74,1462.82 L374.44,1462.78 L375.14,1462.74 L375.84,1462.71 L376.54,1462.67 L377.24,1462.64 L377.94,1462.6 L378.64,1462.56 L379.34,1462.53 L380.04,1462.5 L380.74,1462.46 L381.44,1462.43 L382.14,1462.4 L382.84,1462.36 L383.54,1462.33 L384.24,1462.3 L384.94,1462.27 L385.64,1462.23 L386.34,1462.2 L387.04,1462.17 L387.74,1462.14 L388.44,1462.11 L389.14,1462.08 L389.84,1462.06 L390.54,1462.03 L391.24,1462 L391.94,1461.97 L392.64,1461.94 L393.34,1461.92 L394.04,1461.89 L394.74,1461.86 L395.44,1461.84 L396.14,1461.81 L396.84,1461.78 L397.54,1461.76 L398.24,1461.73 L398.94,1461.71 L399.64,1461.68 L400.33,1461.66 L401.03,1461.64 L401.73,1461.61 L402.43,1461.59 L403.13,1461.57 L403.83,1461.55 L404.53,1461.52 L405.23,1461.5 L405.93,1461.48 L406.63,1461.46 L407.33,1461.44 L408.03,1461.42 L408.73,1461.4 L409.43,1461.38 L410.13,1461.36 L410.83,1461.34 L411.53,1461.32 L412.23,1461.3 L412.93,1461.28 L413.63,1461.26 L414.33,1461.24 L415.03,1461.22 L415.73,1461.21 L416.43,1461.19 L417.13,1461.17 L417.83,1461.15 L418.53,1461.14 L419.23,1461.12 L419.93,1461.1 L420.63,1461.09 L421.33,1461.07 L422.03,1461.05 L422.73,1461.04 L423.43,1461.02 L424.13,1461.01 L424.83,1460.99 L425.53,1460.98 L426.23,1460.96 L426.93,1460.95 L427.63,1460.94 L428.33,1460.92 L429.03,1460.91 L429.73,1460.89 L430.43,1460.88 L431.13,1460.87 L431.83,1460.85 L432.53,1460.84 L433.23,1460.83 L433.93,1460.82 L434.63,1460.8 L435.33,1460.79 L436.03,1460.78 L436.73,1460.77 L437.43,1460.76 L438.13,1460.74 L438.83,1460.73 L439.53,1460.72 L440.23,1460.71 L440.93,1460.7 L441.63,1460.69 L442.33,1460.68 L443.03,1460.67 L443.73,1460.66 L444.43,1460.65 L445.13,1460.64 L445.83,1460.63 L446.52,1460.62 L447.22,1460.61 L447.92,1460.6 L448.62,1460.59 L449.32,1460.58 L450.02,1460.57 L450.72,1460.56 L451.42,1460.55 L452.12,1460.54 L452.82,1460.53 L453.52,1460.52 L454.22,1460.51 L454.92,1460.5 L455.62,1460.5 L456.32,1460.49 L457.02,1460.48 L457.72,1460.47 L458.42,1460.46 L459.12,1460.45 L459.82,1460.45 L460.52,1460.44 L461.22,1460.43 L461.92,1460.42 L462.62,1460.41 L463.32,1460.41 L464.02,1460.4 L464.72,1460.39 L465.42,1460.38 L466.12,1460.38 L466.82,1460.37 L467.52,1460.36 L468.22,1460.36 L468.92,1460.35 L469.62,1460.34 L470.32,1460.33 L471.02,1460.33 L471.72,1460.32 L472.42,1460.31 L473.12,1460.31 L473.82,1460.3 L474.52,1460.29 L475.22,1460.29 L475.92,1460.28 L476.62,1460.28 L477.32,1460.27 L478.02,1460.26 L478.72,1460.26 L479.42,1460.25 L480.12,1460.24 L480.82,1460.24 L481.52,1460.23 L482.22,1460.23 L482.92,1460.22 L483.62,1460.21 L484.32,1460.21 L485.02,1460.2 L485.72,1460.2 L486.42,1460.19 L487.12,1460.19 L487.82,1460.18 L488.52,1460.17 L489.22,1460.17 L489.92,1460.16 L490.62,1460.16 L491.32,1460.15 L492.02,1460.15 L492.71,1460.14 L493.41,1460.14 L494.11,1460.13 L494.81,1460.12 L495.51,1460.12 L496.21,1460.11 L496.91,1460.11 L497.61,1460.1 L498.31,1460.1 L499.01,1460.09 L499.71,1460.09 L500.41,1460.08 L501.11,1460.08 L501.81,1460.07 L502.51,1460.07 L503.21,1460.06 L503.91,1460.06 L504.61,1460.05 L505.31,1460.05 L506.01,1460.04 L506.71,1460.04 L507.41,1460.03 L508.11,1460.03 L508.81,1460.02 L509.51,1460.02 L510.21,1460.01 L510.91,1460.01 L511.61,1460 L512.31,1460 L513.01,1460 L513.71,1459.99 L514.41,1459.99 L515.11,1459.98 L515.81,1459.98 L516.51,1459.97 L517.21,1459.97 L517.91,1459.96 L518.61,1459.96 L519.31,1459.95 L520.01,1459.95 L520.71,1459.94 L521.41,1459.94 L522.11,1459.93 L522.81,1459.93 L523.51,1459.93 L524.21,1459.92 L524.91,1459.92 L525.61,1459.91 L526.31,1459.91 L527.01,1459.9 L527.71,1459.9 L528.41,1459.89 L529.11,1459.89 L529.81,1459.89 L530.51,1459.88 L531.21,1459.88 L531.91,1459.87 L532.61,1459.87 L533.31,1459.86 L534.01,1459.86 L534.71,1459.86 L535.41,1459.85 L536.11,1459.85 L536.81,1459.84 L537.51,1459.84 L538.21,1459.83 L538.9,1459.83 L539.6,1459.83 L540.3,1459.82 L541,1459.82 L541.7,1459.81 L542.4,1459.81 L543.1,1459.8 L543.8,1459.8 L544.5,1459.8 L545.2,1459.79 L545.9,1459.79 L546.6,1459.78 L547.3,1459.78 L548,1459.78 L548.7,1459.77 L549.4,1459.77 L550.1,1459.76 L550.8,1459.76 L551.5,1459.75 L552.2,1459.75 L552.9,1459.75 L553.6,1459.74 L554.3,1459.74 L555,1459.73 L555.7,1459.73 L556.4,1459.73 L557.1,1459.72 L557.8,1459.72 L558.5,1459.71 L559.2,1459.71 L559.9,1459.71 L560.6,1459.7 L561.3,1459.7" fill="none" stroke="#EE1515" stroke-width="2.4" stroke-linejoin="round" stroke-linecap="round"/>
<text x="64.7" y="1521.26" font-size="14.1" font-weight="bold" fill="#1a1a1a" stroke="#1a1a1a" stroke-width="0.4" textLength="20.39" lengthAdjust="spacingAndGlyphs">1.0</text>
<text x="64.7" y="1441.71" font-size="14.1" font-weight="bold" fill="#1a1a1a" stroke="#1a1a1a" stroke-width="0.4" textLength="20.39" lengthAdjust="spacingAndGlyphs">2.0</text>
<text x="64.7" y="1362.16" font-size="14.1" font-weight="bold" fill="#1a1a1a" stroke="#1a1a1a" stroke-width="0.4" textLength="20.39" lengthAdjust="spacingAndGlyphs">3.0</text>
<text x="64.7" y="1282.61" font-size="14.1" font-weight="bold" fill="#1a1a1a" stroke="#1a1a1a" stroke-width="0.4" textLength="20.39" lengthAdjust="spacingAndGlyphs">4.0</text>
<text x="64.7" y="1203.06" font-size="14.1" font-weight="bold" fill="#1a1a1a" stroke="#1a1a1a" stroke-width="0.4" textLength="20.39" lengthAdjust="spacingAndGlyphs">5.0</text>
<text x="88.28" y="1542.17" font-size="14.1" font-weight="bold" fill="#1a1a1a" stroke="#1a1a1a" stroke-width="0.4" textLength="24.47" lengthAdjust="spacingAndGlyphs">397</text>
<text x="180.33" y="1542.17" font-size="14.1" font-weight="bold" fill="#1a1a1a" stroke="#1a1a1a" stroke-width="0.4" textLength="24.47" lengthAdjust="spacingAndGlyphs">398</text>
<text x="272.6" y="1542.17" font-size="14.1" font-weight="bold" fill="#1a1a1a" stroke="#1a1a1a" stroke-width="0.4" textLength="24.47" lengthAdjust="spacingAndGlyphs">399</text>
<text x="364.8" y="1542.17" font-size="14.1" font-weight="bold" fill="#1a1a1a" stroke="#1a1a1a" stroke-width="0.4" textLength="24.47" lengthAdjust="spacingAndGlyphs">400</text>
<text x="456.93" y="1542.17" font-size="14.1" font-weight="bold" fill="#1a1a1a" stroke="#1a1a1a" stroke-width="0.4" textLength="24.47" lengthAdjust="spacingAndGlyphs">401</text>
<text x="549.2" y="1542.17" font-size="14.1" font-weight="bold" fill="#1a1a1a" stroke="#1a1a1a" stroke-width="0.4" textLength="24.47" lengthAdjust="spacingAndGlyphs">402</text>
<text x="2.91" y="1203.59" font-size="16.7" font-weight="bold" fill="#1a1a1a" stroke="#1a1a1a" stroke-width="0.4" textLength="21.02" lengthAdjust="spacingAndGlyphs">[d]</text>
<text x="39.05" y="1240.14" font-size="14.51" font-weight="bold" fill="#1a1a1a" stroke="#1a1a1a" stroke-width="0.4" textLength="43.9" lengthAdjust="spacingAndGlyphs" transform="rotate(-90 39.05 1240.14)">x 1000</text>
<text x="37.34" y="1395.94" font-size="15.97" font-weight="bold" fill="#1a1a1a" stroke="#1a1a1a" stroke-width="0.4" textLength="68.85" lengthAdjust="spacingAndGlyphs" transform="rotate(-90 37.34 1395.94)">Counts/s</text>
<text x="255.7" y="1569.9" font-size="16.38" font-weight="bold" fill="#1a1a1a" stroke="#1a1a1a" stroke-width="0.4" textLength="169.27" lengthAdjust="spacingAndGlyphs">Binding Energy (E, eV)</text>
</svg>
</body></html>
